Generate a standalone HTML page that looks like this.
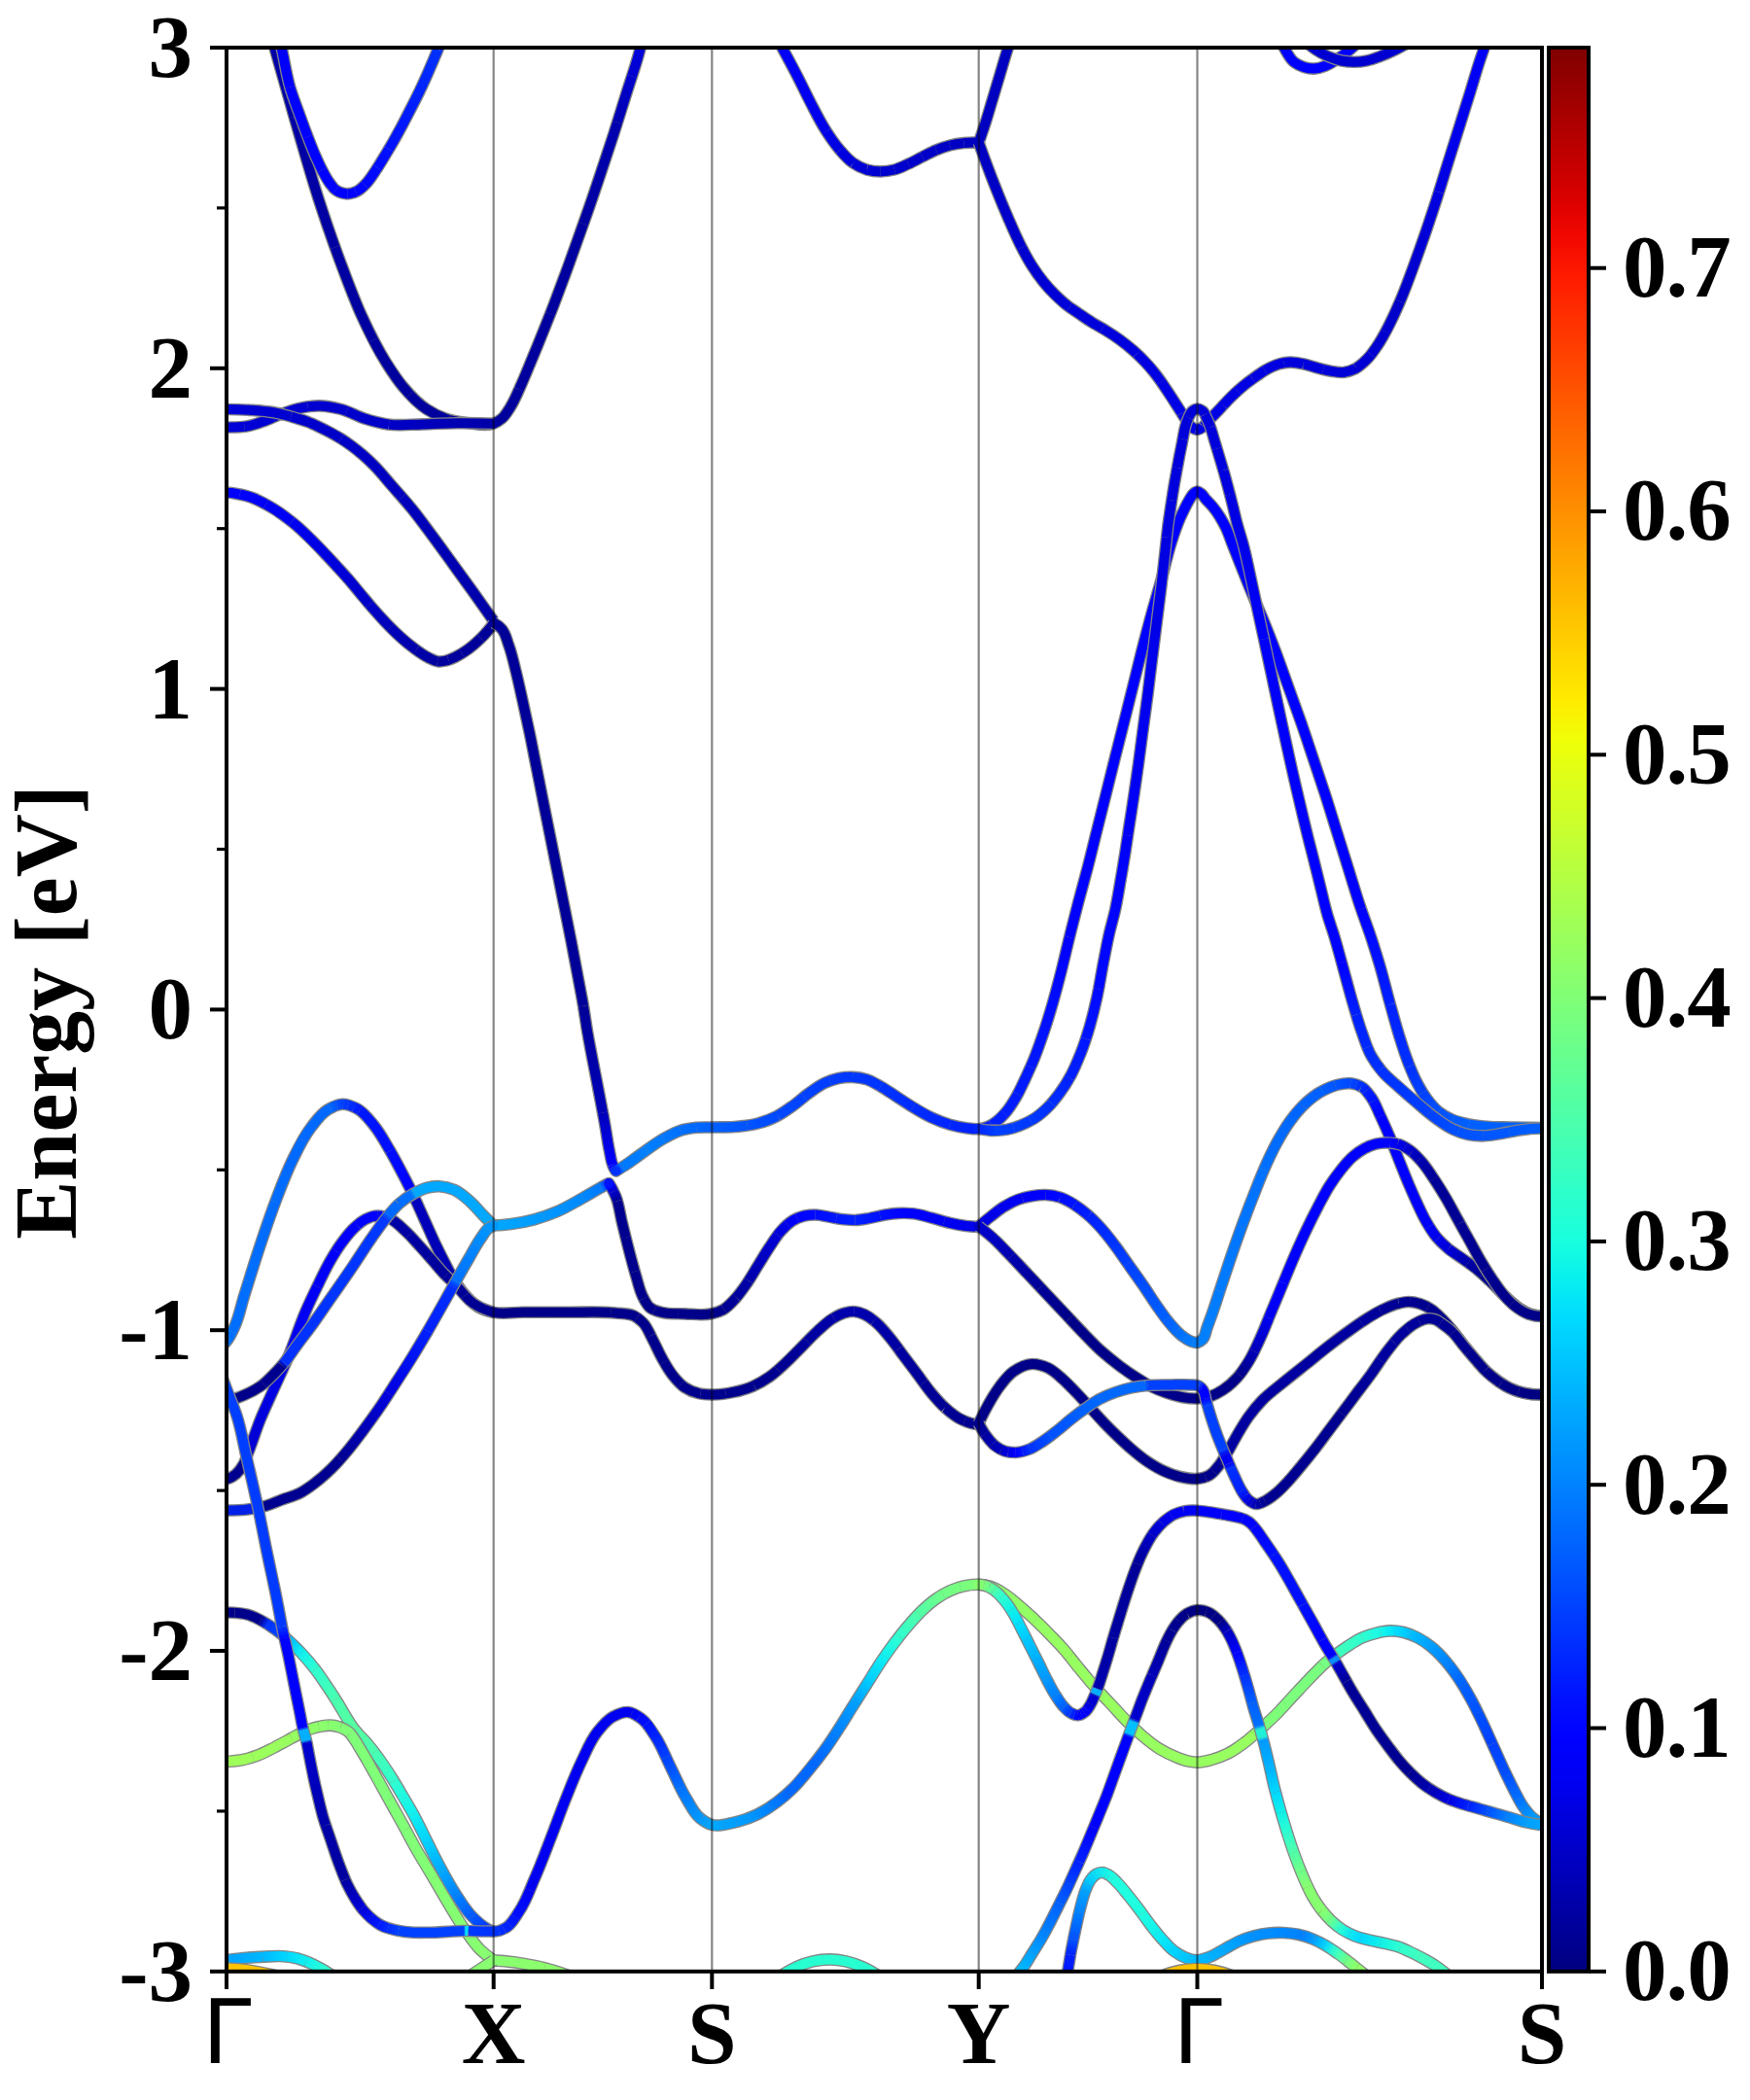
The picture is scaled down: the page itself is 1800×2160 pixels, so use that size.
<!DOCTYPE html>
<html><head><meta charset="utf-8"><title>Band structure</title>
<style>
html,body{margin:0;padding:0;background:#fff;}
body{width:1800px;height:2160px;overflow:hidden;}
svg{display:block;}
text{font-family:"Liberation Serif",serif;font-weight:bold;font-size:91px;fill:#000;}
.o{fill:none;stroke:#858585;stroke-width:12.6;stroke-linejoin:round;stroke-linecap:butt;}
.c{fill:none;stroke-width:10;stroke-linejoin:round;stroke-linecap:butt;}
</style></head><body>
<svg xmlns="http://www.w3.org/2000/svg" width="1800" height="2160" viewBox="0 0 1800 2160">
<rect x="0" y="0" width="1800" height="2160" fill="#fff"/>
<defs>
<clipPath id="cp"><rect x="233" y="49" width="1353" height="1978.8"/></clipPath>
<linearGradient id="g0" gradientUnits="userSpaceOnUse" x1="274" y1="20" x2="302.7" y2="120.9"><stop offset="0" stop-color="#0000a8"/><stop offset="1" stop-color="#0000a6"/></linearGradient>
<linearGradient id="g1" gradientUnits="userSpaceOnUse" x1="302.7" y1="120.9" x2="344.6" y2="254.4"><stop offset="0" stop-color="#0000a6"/><stop offset="1" stop-color="#0000a2"/></linearGradient>
<linearGradient id="g2" gradientUnits="userSpaceOnUse" x1="344.6" y1="254.4" x2="384.1" y2="349.9"><stop offset="0" stop-color="#0000a2"/><stop offset="1" stop-color="#0000a0"/></linearGradient>
<linearGradient id="g3" gradientUnits="userSpaceOnUse" x1="384.1" y1="349.9" x2="421.6" y2="405.8"><stop offset="0" stop-color="#0000a0"/><stop offset="1" stop-color="#00009e"/></linearGradient>
<linearGradient id="g4" gradientUnits="userSpaceOnUse" x1="421.6" y1="405.8" x2="461.9" y2="431.7"><stop offset="0" stop-color="#00009e"/><stop offset="1" stop-color="#00009d"/></linearGradient>
<linearGradient id="g5" gradientUnits="userSpaceOnUse" x1="461.9" y1="431.7" x2="507.6" y2="435.7"><stop offset="0" stop-color="#00009d"/><stop offset="1" stop-color="#00009c"/></linearGradient>
<linearGradient id="g6" gradientUnits="userSpaceOnUse" x1="507.6" y1="435.7" x2="533.8" y2="400.8"><stop offset="0" stop-color="#00009c"/><stop offset="1" stop-color="#00009d"/></linearGradient>
<linearGradient id="g7" gradientUnits="userSpaceOnUse" x1="533.8" y1="400.8" x2="566" y2="322.8"><stop offset="0" stop-color="#00009d"/><stop offset="1" stop-color="#00009e"/></linearGradient>
<linearGradient id="g8" gradientUnits="userSpaceOnUse" x1="566" y1="322.8" x2="600" y2="230.3"><stop offset="0" stop-color="#00009e"/><stop offset="1" stop-color="#0000a0"/></linearGradient>
<linearGradient id="g9" gradientUnits="userSpaceOnUse" x1="600" y1="230.3" x2="635" y2="126"><stop offset="0" stop-color="#0000a0"/><stop offset="1" stop-color="#0000b0"/></linearGradient>
<linearGradient id="g10" gradientUnits="userSpaceOnUse" x1="635" y1="126" x2="650" y2="78.5"><stop offset="0" stop-color="#0000b0"/><stop offset="1" stop-color="#0000d0"/></linearGradient>
<linearGradient id="g11" gradientUnits="userSpaceOnUse" x1="650" y1="78.5" x2="667.5" y2="20"><stop offset="0" stop-color="#0000d0"/><stop offset="1" stop-color="#0000e8"/></linearGradient>
<linearGradient id="g12" gradientUnits="userSpaceOnUse" x1="229" y1="439.5" x2="251.4" y2="438.8"><stop offset="0" stop-color="#0000d8"/><stop offset="1" stop-color="#0000d6"/></linearGradient>
<linearGradient id="g13" gradientUnits="userSpaceOnUse" x1="251.4" y1="438.8" x2="281.1" y2="429.2"><stop offset="0" stop-color="#0000d6"/><stop offset="1" stop-color="#0000d3"/></linearGradient>
<linearGradient id="g14" gradientUnits="userSpaceOnUse" x1="281.1" y1="429.2" x2="316.6" y2="418.2"><stop offset="0" stop-color="#0000d3"/><stop offset="1" stop-color="#0000d0"/></linearGradient>
<linearGradient id="g15" gradientUnits="userSpaceOnUse" x1="316.6" y1="418.2" x2="356.6" y2="422.9"><stop offset="0" stop-color="#0000d0"/><stop offset="1" stop-color="#0000cc"/></linearGradient>
<linearGradient id="g16" gradientUnits="userSpaceOnUse" x1="356.6" y1="422.9" x2="400" y2="436.6"><stop offset="0" stop-color="#0000cc"/><stop offset="1" stop-color="#0000c8"/></linearGradient>
<linearGradient id="g17" gradientUnits="userSpaceOnUse" x1="400" y1="436.6" x2="507.6" y2="435.7"><stop offset="0" stop-color="#0000c8"/><stop offset="1" stop-color="#0000a8"/></linearGradient>
<linearGradient id="g18" gradientUnits="userSpaceOnUse" x1="229" y1="421" x2="299.3" y2="428.5"><stop offset="0" stop-color="#0000d8"/><stop offset="1" stop-color="#0000cf"/></linearGradient>
<linearGradient id="g19" gradientUnits="userSpaceOnUse" x1="299.3" y1="428.5" x2="350.7" y2="451.2"><stop offset="0" stop-color="#0000cf"/><stop offset="1" stop-color="#0000c8"/></linearGradient>
<linearGradient id="g20" gradientUnits="userSpaceOnUse" x1="350.7" y1="451.2" x2="413.5" y2="511.4"><stop offset="0" stop-color="#0000c8"/><stop offset="1" stop-color="#0000bd"/></linearGradient>
<linearGradient id="g21" gradientUnits="userSpaceOnUse" x1="413.5" y1="511.4" x2="507.6" y2="638.5"><stop offset="0" stop-color="#0000bd"/><stop offset="1" stop-color="#0000a8"/></linearGradient>
<linearGradient id="g22" gradientUnits="userSpaceOnUse" x1="229" y1="506.4" x2="246.7" y2="508.5"><stop offset="0" stop-color="#0000ff"/><stop offset="1" stop-color="#0000fc"/></linearGradient>
<linearGradient id="g23" gradientUnits="userSpaceOnUse" x1="246.7" y1="508.5" x2="273.4" y2="518.6"><stop offset="0" stop-color="#0000fc"/><stop offset="1" stop-color="#0000f6"/></linearGradient>
<linearGradient id="g24" gradientUnits="userSpaceOnUse" x1="273.4" y1="518.6" x2="300" y2="536.6"><stop offset="0" stop-color="#0000f6"/><stop offset="1" stop-color="#0000f0"/></linearGradient>
<linearGradient id="g25" gradientUnits="userSpaceOnUse" x1="300" y1="536.6" x2="380" y2="621.7"><stop offset="0" stop-color="#0000f0"/><stop offset="1" stop-color="#0000c8"/></linearGradient>
<linearGradient id="g26" gradientUnits="userSpaceOnUse" x1="380" y1="621.7" x2="401.5" y2="645.3"><stop offset="0" stop-color="#0000c8"/><stop offset="1" stop-color="#0000ba"/></linearGradient>
<linearGradient id="g27" gradientUnits="userSpaceOnUse" x1="401.5" y1="645.3" x2="428.2" y2="668.5"><stop offset="0" stop-color="#0000ba"/><stop offset="1" stop-color="#0000ab"/></linearGradient>
<linearGradient id="g28" gradientUnits="userSpaceOnUse" x1="428.2" y1="668.5" x2="450" y2="680.3"><stop offset="0" stop-color="#0000ab"/><stop offset="1" stop-color="#0000a0"/></linearGradient>
<linearGradient id="g29" gradientUnits="userSpaceOnUse" x1="450" y1="680.3" x2="461.3" y2="678.8"><stop offset="0" stop-color="#0000a0"/><stop offset="1" stop-color="#00009f"/></linearGradient>
<linearGradient id="g30" gradientUnits="userSpaceOnUse" x1="461.3" y1="678.8" x2="475.1" y2="672.1"><stop offset="0" stop-color="#00009f"/><stop offset="1" stop-color="#00009d"/></linearGradient>
<linearGradient id="g31" gradientUnits="userSpaceOnUse" x1="475.1" y1="672.1" x2="494.6" y2="656.5"><stop offset="0" stop-color="#00009d"/><stop offset="1" stop-color="#00009a"/></linearGradient>
<linearGradient id="g32" gradientUnits="userSpaceOnUse" x1="494.6" y1="656.5" x2="507.6" y2="641.6"><stop offset="0" stop-color="#00009a"/><stop offset="1" stop-color="#000098"/></linearGradient>
<linearGradient id="g33" gradientUnits="userSpaceOnUse" x1="600" y1="1034.7" x2="620" y2="1144.5"><stop offset="0" stop-color="#000098"/><stop offset="1" stop-color="#0000b8"/></linearGradient>
<linearGradient id="g34" gradientUnits="userSpaceOnUse" x1="620" y1="1144.5" x2="630" y2="1197.8"><stop offset="0" stop-color="#0000b8"/><stop offset="1" stop-color="#0000ff"/></linearGradient>
<linearGradient id="g35" gradientUnits="userSpaceOnUse" x1="630" y1="1197.8" x2="630.8" y2="1199.7"><stop offset="0" stop-color="#0000ff"/><stop offset="1" stop-color="#000eff"/></linearGradient>
<linearGradient id="g36" gradientUnits="userSpaceOnUse" x1="630.8" y1="1199.7" x2="631.4" y2="1200.9"><stop offset="0" stop-color="#000eff"/><stop offset="1" stop-color="#0016ff"/></linearGradient>
<linearGradient id="g37" gradientUnits="userSpaceOnUse" x1="631.4" y1="1200.9" x2="632" y2="1202"><stop offset="0" stop-color="#0016ff"/><stop offset="1" stop-color="#001fff"/></linearGradient>
<linearGradient id="g38" gradientUnits="userSpaceOnUse" x1="632" y1="1202" x2="632.7" y2="1203.2"><stop offset="0" stop-color="#001fff"/><stop offset="1" stop-color="#0027ff"/></linearGradient>
<linearGradient id="g39" gradientUnits="userSpaceOnUse" x1="632.7" y1="1203.2" x2="633.4" y2="1204.3"><stop offset="0" stop-color="#0027ff"/><stop offset="1" stop-color="#0030ff"/></linearGradient>
<linearGradient id="g40" gradientUnits="userSpaceOnUse" x1="633.4" y1="1204.3" x2="635.5" y2="1203.3"><stop offset="0" stop-color="#0030ff"/><stop offset="1" stop-color="#0040ff"/></linearGradient>
<linearGradient id="g41" gradientUnits="userSpaceOnUse" x1="635.5" y1="1203.3" x2="640" y2="1200.5"><stop offset="0" stop-color="#0040ff"/><stop offset="1" stop-color="#0078ff"/></linearGradient>
<linearGradient id="g42" gradientUnits="userSpaceOnUse" x1="640" y1="1200.5" x2="665" y2="1182.9"><stop offset="0" stop-color="#0078ff"/><stop offset="1" stop-color="#0080ff"/></linearGradient>
<linearGradient id="g43" gradientUnits="userSpaceOnUse" x1="665" y1="1182.9" x2="682.2" y2="1171.4"><stop offset="0" stop-color="#0080ff"/><stop offset="1" stop-color="#0078ff"/></linearGradient>
<linearGradient id="g44" gradientUnits="userSpaceOnUse" x1="682.2" y1="1171.4" x2="699.5" y2="1162.9"><stop offset="0" stop-color="#0078ff"/><stop offset="1" stop-color="#0070ff"/></linearGradient>
<linearGradient id="g45" gradientUnits="userSpaceOnUse" x1="699.5" y1="1162.9" x2="716.2" y2="1159.8"><stop offset="0" stop-color="#0070ff"/><stop offset="1" stop-color="#0068ff"/></linearGradient>
<linearGradient id="g46" gradientUnits="userSpaceOnUse" x1="716.2" y1="1159.8" x2="732.4" y2="1159.5"><stop offset="0" stop-color="#0068ff"/><stop offset="1" stop-color="#0060ff"/></linearGradient>
<linearGradient id="g47" gradientUnits="userSpaceOnUse" x1="732.4" y1="1159.5" x2="768.7" y2="1157.6"><stop offset="0" stop-color="#0060ff"/><stop offset="1" stop-color="#0053ff"/></linearGradient>
<linearGradient id="g48" gradientUnits="userSpaceOnUse" x1="768.7" y1="1157.6" x2="800" y2="1147.6"><stop offset="0" stop-color="#0053ff"/><stop offset="1" stop-color="#0048ff"/></linearGradient>
<linearGradient id="g49" gradientUnits="userSpaceOnUse" x1="800" y1="1147.6" x2="827.2" y2="1128.1"><stop offset="0" stop-color="#0048ff"/><stop offset="1" stop-color="#0042ff"/></linearGradient>
<linearGradient id="g50" gradientUnits="userSpaceOnUse" x1="827.2" y1="1128.1" x2="853.6" y2="1111.7"><stop offset="0" stop-color="#0042ff"/><stop offset="1" stop-color="#003cff"/></linearGradient>
<linearGradient id="g51" gradientUnits="userSpaceOnUse" x1="853.6" y1="1111.7" x2="877.1" y2="1107.9"><stop offset="0" stop-color="#003cff"/><stop offset="1" stop-color="#0038ff"/></linearGradient>
<linearGradient id="g52" gradientUnits="userSpaceOnUse" x1="877.1" y1="1107.9" x2="905.7" y2="1117.4"><stop offset="0" stop-color="#0038ff"/><stop offset="1" stop-color="#0033ff"/></linearGradient>
<linearGradient id="g53" gradientUnits="userSpaceOnUse" x1="905.7" y1="1117.4" x2="939" y2="1138.8"><stop offset="0" stop-color="#0033ff"/><stop offset="1" stop-color="#002cff"/></linearGradient>
<linearGradient id="g54" gradientUnits="userSpaceOnUse" x1="939" y1="1138.8" x2="977.1" y2="1156.7"><stop offset="0" stop-color="#002cff"/><stop offset="1" stop-color="#0025ff"/></linearGradient>
<linearGradient id="g55" gradientUnits="userSpaceOnUse" x1="977.1" y1="1156.7" x2="1006.7" y2="1161.2"><stop offset="0" stop-color="#0025ff"/><stop offset="1" stop-color="#0020ff"/></linearGradient>
<linearGradient id="g56" gradientUnits="userSpaceOnUse" x1="1006.7" y1="1161.2" x2="1020.1" y2="1156.8"><stop offset="0" stop-color="#0020ff"/><stop offset="1" stop-color="#001fff"/></linearGradient>
<linearGradient id="g57" gradientUnits="userSpaceOnUse" x1="1020.1" y1="1156.8" x2="1033.4" y2="1145.4"><stop offset="0" stop-color="#001fff"/><stop offset="1" stop-color="#001dff"/></linearGradient>
<linearGradient id="g58" gradientUnits="userSpaceOnUse" x1="1033.4" y1="1145.4" x2="1046.8" y2="1125.5"><stop offset="0" stop-color="#001dff"/><stop offset="1" stop-color="#001bff"/></linearGradient>
<linearGradient id="g59" gradientUnits="userSpaceOnUse" x1="1046.8" y1="1125.5" x2="1060" y2="1097.6"><stop offset="0" stop-color="#001bff"/><stop offset="1" stop-color="#0018ff"/></linearGradient>
<linearGradient id="g60" gradientUnits="userSpaceOnUse" x1="1060" y1="1097.6" x2="1100" y2="964"><stop offset="0" stop-color="#0018ff"/><stop offset="1" stop-color="#0000ff"/></linearGradient>
<linearGradient id="g61" gradientUnits="userSpaceOnUse" x1="1400" y1="935.1" x2="1430" y2="1033.2"><stop offset="0" stop-color="#0000ff"/><stop offset="1" stop-color="#0020ff"/></linearGradient>
<linearGradient id="g62" gradientUnits="userSpaceOnUse" x1="1430" y1="1033.2" x2="1450" y2="1096.8"><stop offset="0" stop-color="#0020ff"/><stop offset="1" stop-color="#0030ff"/></linearGradient>
<linearGradient id="g63" gradientUnits="userSpaceOnUse" x1="1450" y1="1096.8" x2="1463.3" y2="1123.9"><stop offset="0" stop-color="#0030ff"/><stop offset="1" stop-color="#0041ff"/></linearGradient>
<linearGradient id="g64" gradientUnits="userSpaceOnUse" x1="1463.3" y1="1123.9" x2="1479.5" y2="1143.3"><stop offset="0" stop-color="#0041ff"/><stop offset="1" stop-color="#0050ff"/></linearGradient>
<linearGradient id="g65" gradientUnits="userSpaceOnUse" x1="1479.5" y1="1143.3" x2="1493.8" y2="1151.7"><stop offset="0" stop-color="#0050ff"/><stop offset="1" stop-color="#0058ff"/></linearGradient>
<linearGradient id="g66" gradientUnits="userSpaceOnUse" x1="1493.8" y1="1151.7" x2="1510.5" y2="1156.4"><stop offset="0" stop-color="#0058ff"/><stop offset="1" stop-color="#0060ff"/></linearGradient>
<linearGradient id="g67" gradientUnits="userSpaceOnUse" x1="507.6" y1="1260.5" x2="560" y2="1251.1"><stop offset="0" stop-color="#00a8ff"/><stop offset="1" stop-color="#0098ff"/></linearGradient>
<linearGradient id="g68" gradientUnits="userSpaceOnUse" x1="560" y1="1251.1" x2="600" y2="1231.9"><stop offset="0" stop-color="#0098ff"/><stop offset="1" stop-color="#0088ff"/></linearGradient>
<linearGradient id="g69" gradientUnits="userSpaceOnUse" x1="600" y1="1231.9" x2="618" y2="1221.5"><stop offset="0" stop-color="#0088ff"/><stop offset="1" stop-color="#0078ff"/></linearGradient>
<linearGradient id="g70" gradientUnits="userSpaceOnUse" x1="618" y1="1221.5" x2="623" y2="1218.7"><stop offset="0" stop-color="#0078ff"/><stop offset="1" stop-color="#0040ff"/></linearGradient>
<linearGradient id="g71" gradientUnits="userSpaceOnUse" x1="623" y1="1218.7" x2="623.8" y2="1218.3"><stop offset="0" stop-color="#0040ff"/><stop offset="1" stop-color="#0034ff"/></linearGradient>
<linearGradient id="g72" gradientUnits="userSpaceOnUse" x1="623.8" y1="1218.3" x2="624.7" y2="1217.8"><stop offset="0" stop-color="#0034ff"/><stop offset="1" stop-color="#0028ff"/></linearGradient>
<linearGradient id="g73" gradientUnits="userSpaceOnUse" x1="624.7" y1="1217.8" x2="625.5" y2="1217.4"><stop offset="0" stop-color="#0028ff"/><stop offset="1" stop-color="#001cff"/></linearGradient>
<linearGradient id="g74" gradientUnits="userSpaceOnUse" x1="625.5" y1="1217.4" x2="626.4" y2="1217.2"><stop offset="0" stop-color="#001cff"/><stop offset="1" stop-color="#000fff"/></linearGradient>
<linearGradient id="g75" gradientUnits="userSpaceOnUse" x1="626.4" y1="1217.2" x2="627" y2="1218.3"><stop offset="0" stop-color="#000fff"/><stop offset="1" stop-color="#0000ff"/></linearGradient>
<linearGradient id="g76" gradientUnits="userSpaceOnUse" x1="627" y1="1218.3" x2="631" y2="1225.4"><stop offset="0" stop-color="#0000ff"/><stop offset="1" stop-color="#0000d0"/></linearGradient>
<linearGradient id="g77" gradientUnits="userSpaceOnUse" x1="631" y1="1225.4" x2="635" y2="1235.3"><stop offset="0" stop-color="#0000d0"/><stop offset="1" stop-color="#000090"/></linearGradient>
<linearGradient id="g78" gradientUnits="userSpaceOnUse" x1="635" y1="1235.3" x2="643.6" y2="1272.7"><stop offset="0" stop-color="#000090"/><stop offset="1" stop-color="#00008e"/></linearGradient>
<linearGradient id="g79" gradientUnits="userSpaceOnUse" x1="643.6" y1="1272.7" x2="652.8" y2="1307.9"><stop offset="0" stop-color="#00008e"/><stop offset="1" stop-color="#00008d"/></linearGradient>
<linearGradient id="g80" gradientUnits="userSpaceOnUse" x1="652.8" y1="1307.9" x2="662" y2="1335.5"><stop offset="0" stop-color="#00008d"/><stop offset="1" stop-color="#00008b"/></linearGradient>
<linearGradient id="g81" gradientUnits="userSpaceOnUse" x1="673" y1="1347.5" x2="697.1" y2="1351.3"><stop offset="0" stop-color="#00008b"/><stop offset="1" stop-color="#00008a"/></linearGradient>
<linearGradient id="g82" gradientUnits="userSpaceOnUse" x1="697.1" y1="1351.3" x2="732.4" y2="1351.2"><stop offset="0" stop-color="#00008a"/><stop offset="1" stop-color="#000088"/></linearGradient>
<linearGradient id="g83" gradientUnits="userSpaceOnUse" x1="732.4" y1="1351.2" x2="744.7" y2="1346.6"><stop offset="0" stop-color="#000088"/><stop offset="1" stop-color="#000090"/></linearGradient>
<linearGradient id="g84" gradientUnits="userSpaceOnUse" x1="744.7" y1="1346.6" x2="757.4" y2="1334.6"><stop offset="0" stop-color="#000090"/><stop offset="1" stop-color="#00009b"/></linearGradient>
<linearGradient id="g85" gradientUnits="userSpaceOnUse" x1="757.4" y1="1334.6" x2="770" y2="1317.4"><stop offset="0" stop-color="#00009b"/><stop offset="1" stop-color="#0000a8"/></linearGradient>
<linearGradient id="g86" gradientUnits="userSpaceOnUse" x1="770" y1="1317.4" x2="800" y2="1270.2"><stop offset="0" stop-color="#0000a8"/><stop offset="1" stop-color="#0000d8"/></linearGradient>
<linearGradient id="g87" gradientUnits="userSpaceOnUse" x1="800" y1="1270.2" x2="809.9" y2="1259.5"><stop offset="0" stop-color="#0000d8"/><stop offset="1" stop-color="#0000ed"/></linearGradient>
<linearGradient id="g88" gradientUnits="userSpaceOnUse" x1="809.9" y1="1259.5" x2="820" y2="1253.1"><stop offset="0" stop-color="#0000ed"/><stop offset="1" stop-color="#0000ff"/></linearGradient>
<linearGradient id="g89" gradientUnits="userSpaceOnUse" x1="820" y1="1253.1" x2="838.4" y2="1249.5"><stop offset="0" stop-color="#0000ff"/><stop offset="1" stop-color="#000aff"/></linearGradient>
<linearGradient id="g90" gradientUnits="userSpaceOnUse" x1="838.4" y1="1249.5" x2="860.1" y2="1253.1"><stop offset="0" stop-color="#000aff"/><stop offset="1" stop-color="#0016ff"/></linearGradient>
<linearGradient id="g91" gradientUnits="userSpaceOnUse" x1="860.1" y1="1253.1" x2="879.5" y2="1255"><stop offset="0" stop-color="#0016ff"/><stop offset="1" stop-color="#0020ff"/></linearGradient>
<linearGradient id="g92" gradientUnits="userSpaceOnUse" x1="879.5" y1="1255" x2="905.2" y2="1250.6"><stop offset="0" stop-color="#0020ff"/><stop offset="1" stop-color="#0010ff"/></linearGradient>
<linearGradient id="g93" gradientUnits="userSpaceOnUse" x1="905.2" y1="1250.6" x2="930" y2="1247.8"><stop offset="0" stop-color="#0010ff"/><stop offset="1" stop-color="#0000ff"/></linearGradient>
<linearGradient id="g94" gradientUnits="userSpaceOnUse" x1="930" y1="1247.8" x2="971.1" y2="1256.3"><stop offset="0" stop-color="#0000ff"/><stop offset="1" stop-color="#0000f3"/></linearGradient>
<linearGradient id="g95" gradientUnits="userSpaceOnUse" x1="971.1" y1="1256.3" x2="1006.9" y2="1261.9"><stop offset="0" stop-color="#0000f3"/><stop offset="1" stop-color="#0000e8"/></linearGradient>
<linearGradient id="g96" gradientUnits="userSpaceOnUse" x1="229" y1="1384" x2="238.8" y2="1369.9"><stop offset="0" stop-color="#0070ff"/><stop offset="1" stop-color="#006fff"/></linearGradient>
<linearGradient id="g97" gradientUnits="userSpaceOnUse" x1="238.8" y1="1369.9" x2="255.8" y2="1318"><stop offset="0" stop-color="#006fff"/><stop offset="1" stop-color="#006eff"/></linearGradient>
<linearGradient id="g98" gradientUnits="userSpaceOnUse" x1="255.8" y1="1318" x2="283.2" y2="1236.2"><stop offset="0" stop-color="#006eff"/><stop offset="1" stop-color="#006bff"/></linearGradient>
<linearGradient id="g99" gradientUnits="userSpaceOnUse" x1="283.2" y1="1236.2" x2="311.3" y2="1172.8"><stop offset="0" stop-color="#006bff"/><stop offset="1" stop-color="#0069ff"/></linearGradient>
<linearGradient id="g100" gradientUnits="userSpaceOnUse" x1="311.3" y1="1172.8" x2="340" y2="1139.8"><stop offset="0" stop-color="#0069ff"/><stop offset="1" stop-color="#0068ff"/></linearGradient>
<linearGradient id="g101" gradientUnits="userSpaceOnUse" x1="340" y1="1139.8" x2="346" y2="1137"><stop offset="0" stop-color="#0068ff"/><stop offset="1" stop-color="#0053ff"/></linearGradient>
<linearGradient id="g102" gradientUnits="userSpaceOnUse" x1="346" y1="1137" x2="352.1" y2="1135.7"><stop offset="0" stop-color="#0053ff"/><stop offset="1" stop-color="#0040ff"/></linearGradient>
<linearGradient id="g103" gradientUnits="userSpaceOnUse" x1="352.1" y1="1135.7" x2="358" y2="1136.5"><stop offset="0" stop-color="#0040ff"/><stop offset="1" stop-color="#0034ff"/></linearGradient>
<linearGradient id="g104" gradientUnits="userSpaceOnUse" x1="358" y1="1136.5" x2="363.9" y2="1138.7"><stop offset="0" stop-color="#0034ff"/><stop offset="1" stop-color="#0026ff"/></linearGradient>
<linearGradient id="g105" gradientUnits="userSpaceOnUse" x1="363.9" y1="1138.7" x2="370" y2="1142"><stop offset="0" stop-color="#0026ff"/><stop offset="1" stop-color="#0018ff"/></linearGradient>
<linearGradient id="g106" gradientUnits="userSpaceOnUse" x1="370" y1="1142" x2="401.3" y2="1183.8"><stop offset="0" stop-color="#0018ff"/><stop offset="1" stop-color="#000cff"/></linearGradient>
<linearGradient id="g107" gradientUnits="userSpaceOnUse" x1="401.3" y1="1183.8" x2="424" y2="1226.9"><stop offset="0" stop-color="#000cff"/><stop offset="1" stop-color="#0000ff"/></linearGradient>
<linearGradient id="g108" gradientUnits="userSpaceOnUse" x1="424" y1="1226.9" x2="426" y2="1231.1"><stop offset="0" stop-color="#0000ff"/><stop offset="1" stop-color="#0000c0"/></linearGradient>
<linearGradient id="g109" gradientUnits="userSpaceOnUse" x1="426" y1="1231.1" x2="466" y2="1314.9"><stop offset="0" stop-color="#0000c0"/><stop offset="1" stop-color="#0000b0"/></linearGradient>
<linearGradient id="g110" gradientUnits="userSpaceOnUse" x1="466" y1="1314.9" x2="468.5" y2="1318.9"><stop offset="0" stop-color="#0000b0"/><stop offset="1" stop-color="#000090"/></linearGradient>
<linearGradient id="g111" gradientUnits="userSpaceOnUse" x1="468.5" y1="1318.9" x2="480.1" y2="1334"><stop offset="0" stop-color="#000090"/><stop offset="1" stop-color="#00008d"/></linearGradient>
<linearGradient id="g112" gradientUnits="userSpaceOnUse" x1="480.1" y1="1334" x2="491.8" y2="1344.2"><stop offset="0" stop-color="#00008d"/><stop offset="1" stop-color="#00008b"/></linearGradient>
<linearGradient id="g113" gradientUnits="userSpaceOnUse" x1="491.8" y1="1344.2" x2="507.6" y2="1349.8"><stop offset="0" stop-color="#00008b"/><stop offset="1" stop-color="#000088"/></linearGradient>
<linearGradient id="g114" gradientUnits="userSpaceOnUse" x1="507.6" y1="1349.8" x2="559" y2="1349.8"><stop offset="0" stop-color="#000088"/><stop offset="1" stop-color="#000089"/></linearGradient>
<linearGradient id="g115" gradientUnits="userSpaceOnUse" x1="559" y1="1349.8" x2="628.2" y2="1350.1"><stop offset="0" stop-color="#000089"/><stop offset="1" stop-color="#00008b"/></linearGradient>
<linearGradient id="g116" gradientUnits="userSpaceOnUse" x1="628.2" y1="1350.1" x2="655.5" y2="1355.4"><stop offset="0" stop-color="#00008b"/><stop offset="1" stop-color="#00008c"/></linearGradient>
<linearGradient id="g117" gradientUnits="userSpaceOnUse" x1="669.3" y1="1373.7" x2="683.2" y2="1401.1"><stop offset="0" stop-color="#00008c"/><stop offset="1" stop-color="#00008d"/></linearGradient>
<linearGradient id="g118" gradientUnits="userSpaceOnUse" x1="700.4" y1="1424" x2="720.6" y2="1433.6"><stop offset="0" stop-color="#00008d"/><stop offset="1" stop-color="#00008e"/></linearGradient>
<linearGradient id="g119" gradientUnits="userSpaceOnUse" x1="720.6" y1="1433.6" x2="746.5" y2="1433.4"><stop offset="0" stop-color="#00008e"/><stop offset="1" stop-color="#00008f"/></linearGradient>
<linearGradient id="g120" gradientUnits="userSpaceOnUse" x1="775.7" y1="1425.3" x2="800" y2="1409.3"><stop offset="0" stop-color="#00008f"/><stop offset="1" stop-color="#000090"/></linearGradient>
<linearGradient id="g121" gradientUnits="userSpaceOnUse" x1="800" y1="1409.3" x2="830.3" y2="1379.6"><stop offset="0" stop-color="#000090"/><stop offset="1" stop-color="#00009d"/></linearGradient>
<linearGradient id="g122" gradientUnits="userSpaceOnUse" x1="830.3" y1="1379.6" x2="857.6" y2="1355.5"><stop offset="0" stop-color="#00009d"/><stop offset="1" stop-color="#0000a9"/></linearGradient>
<linearGradient id="g123" gradientUnits="userSpaceOnUse" x1="857.6" y1="1355.5" x2="878.3" y2="1349"><stop offset="0" stop-color="#0000a9"/><stop offset="1" stop-color="#0000b0"/></linearGradient>
<linearGradient id="g124" gradientUnits="userSpaceOnUse" x1="878.3" y1="1349" x2="898.9" y2="1358.5"><stop offset="0" stop-color="#0000b0"/><stop offset="1" stop-color="#0000ab"/></linearGradient>
<linearGradient id="g125" gradientUnits="userSpaceOnUse" x1="898.9" y1="1358.5" x2="924.3" y2="1387.6"><stop offset="0" stop-color="#0000ab"/><stop offset="1" stop-color="#0000a2"/></linearGradient>
<linearGradient id="g126" gradientUnits="userSpaceOnUse" x1="924.3" y1="1387.6" x2="950" y2="1422.3"><stop offset="0" stop-color="#0000a2"/><stop offset="1" stop-color="#000098"/></linearGradient>
<linearGradient id="g127" gradientUnits="userSpaceOnUse" x1="950" y1="1422.3" x2="971.8" y2="1447.8"><stop offset="0" stop-color="#000098"/><stop offset="1" stop-color="#000094"/></linearGradient>
<linearGradient id="g128" gradientUnits="userSpaceOnUse" x1="971.8" y1="1447.8" x2="992.3" y2="1461.7"><stop offset="0" stop-color="#000094"/><stop offset="1" stop-color="#000092"/></linearGradient>
<linearGradient id="g129" gradientUnits="userSpaceOnUse" x1="992.3" y1="1461.7" x2="1006.9" y2="1465"><stop offset="0" stop-color="#000092"/><stop offset="1" stop-color="#000090"/></linearGradient>
<linearGradient id="g130" gradientUnits="userSpaceOnUse" x1="252" y1="1503" x2="254" y2="1497.7"><stop offset="0" stop-color="#000090"/><stop offset="1" stop-color="#0000d0"/></linearGradient>
<linearGradient id="g131" gradientUnits="userSpaceOnUse" x1="254" y1="1497.7" x2="300" y2="1386.7"><stop offset="0" stop-color="#0000d0"/><stop offset="1" stop-color="#0000f0"/></linearGradient>
<linearGradient id="g132" gradientUnits="userSpaceOnUse" x1="300" y1="1386.7" x2="326.3" y2="1323.3"><stop offset="0" stop-color="#0000f0"/><stop offset="1" stop-color="#0000f6"/></linearGradient>
<linearGradient id="g133" gradientUnits="userSpaceOnUse" x1="326.3" y1="1323.3" x2="345.7" y2="1286.8"><stop offset="0" stop-color="#0000f6"/><stop offset="1" stop-color="#0000fa"/></linearGradient>
<linearGradient id="g134" gradientUnits="userSpaceOnUse" x1="345.7" y1="1286.8" x2="367.5" y2="1260.2"><stop offset="0" stop-color="#0000fa"/><stop offset="1" stop-color="#0000fd"/></linearGradient>
<linearGradient id="g135" gradientUnits="userSpaceOnUse" x1="367.5" y1="1260.2" x2="388.2" y2="1250.5"><stop offset="0" stop-color="#0000fd"/><stop offset="1" stop-color="#0000ff"/></linearGradient>
<linearGradient id="g136" gradientUnits="userSpaceOnUse" x1="388.2" y1="1250.5" x2="392.6" y2="1250.8"><stop offset="0" stop-color="#0000ff"/><stop offset="1" stop-color="#0000f8"/></linearGradient>
<linearGradient id="g137" gradientUnits="userSpaceOnUse" x1="392.6" y1="1250.8" x2="397" y2="1251.9"><stop offset="0" stop-color="#0000f8"/><stop offset="1" stop-color="#0000f0"/></linearGradient>
<linearGradient id="g138" gradientUnits="userSpaceOnUse" x1="397" y1="1251.9" x2="399" y2="1252.6"><stop offset="0" stop-color="#0000f0"/><stop offset="1" stop-color="#0000a8"/></linearGradient>
<linearGradient id="g139" gradientUnits="userSpaceOnUse" x1="399" y1="1252.6" x2="421.1" y2="1270.2"><stop offset="0" stop-color="#0000a8"/><stop offset="1" stop-color="#0000a3"/></linearGradient>
<linearGradient id="g140" gradientUnits="userSpaceOnUse" x1="421.1" y1="1270.2" x2="441.6" y2="1292.9"><stop offset="0" stop-color="#0000a3"/><stop offset="1" stop-color="#00009e"/></linearGradient>
<linearGradient id="g141" gradientUnits="userSpaceOnUse" x1="441.6" y1="1292.9" x2="458.5" y2="1312"><stop offset="0" stop-color="#00009e"/><stop offset="1" stop-color="#00009a"/></linearGradient>
<linearGradient id="g142" gradientUnits="userSpaceOnUse" x1="458.5" y1="1312" x2="478.1" y2="1332.5"><stop offset="0" stop-color="#00009a"/><stop offset="1" stop-color="#000096"/></linearGradient>
<linearGradient id="g143" gradientUnits="userSpaceOnUse" x1="478.1" y1="1332.5" x2="507.6" y2="1349.8"><stop offset="0" stop-color="#000096"/><stop offset="1" stop-color="#000090"/></linearGradient>
<linearGradient id="g144" gradientUnits="userSpaceOnUse" x1="229" y1="1441.5" x2="242.7" y2="1438.3"><stop offset="0" stop-color="#000088"/><stop offset="1" stop-color="#00008a"/></linearGradient>
<linearGradient id="g145" gradientUnits="userSpaceOnUse" x1="242.7" y1="1438.3" x2="271.1" y2="1423.5"><stop offset="0" stop-color="#00008a"/><stop offset="1" stop-color="#00008d"/></linearGradient>
<linearGradient id="g146" gradientUnits="userSpaceOnUse" x1="271.1" y1="1423.5" x2="290" y2="1404.4"><stop offset="0" stop-color="#00008d"/><stop offset="1" stop-color="#000090"/></linearGradient>
<linearGradient id="g147" gradientUnits="userSpaceOnUse" x1="290" y1="1404.4" x2="292.5" y2="1401.5"><stop offset="0" stop-color="#000090"/><stop offset="1" stop-color="#0030ff"/></linearGradient>
<linearGradient id="g148" gradientUnits="userSpaceOnUse" x1="292.5" y1="1401.5" x2="397" y2="1253.1"><stop offset="0" stop-color="#0030ff"/><stop offset="1" stop-color="#0038ff"/></linearGradient>
<linearGradient id="g149" gradientUnits="userSpaceOnUse" x1="397" y1="1253.1" x2="399.5" y2="1250.1"><stop offset="0" stop-color="#0038ff"/><stop offset="1" stop-color="#0068ff"/></linearGradient>
<linearGradient id="g150" gradientUnits="userSpaceOnUse" x1="399.5" y1="1250.1" x2="410" y2="1238.5"><stop offset="0" stop-color="#0068ff"/><stop offset="1" stop-color="#006cff"/></linearGradient>
<linearGradient id="g151" gradientUnits="userSpaceOnUse" x1="410" y1="1238.5" x2="423.5" y2="1228.8"><stop offset="0" stop-color="#006cff"/><stop offset="1" stop-color="#0070ff"/></linearGradient>
<linearGradient id="g152" gradientUnits="userSpaceOnUse" x1="423.5" y1="1228.8" x2="426" y2="1227.4"><stop offset="0" stop-color="#0070ff"/><stop offset="1" stop-color="#00a8ff"/></linearGradient>
<linearGradient id="g153" gradientUnits="userSpaceOnUse" x1="264" y1="1551.2" x2="267.6" y2="1550.5"><stop offset="0" stop-color="#0020e8"/><stop offset="1" stop-color="#000090"/></linearGradient>
<linearGradient id="g154" gradientUnits="userSpaceOnUse" x1="350" y1="1500.9" x2="400" y2="1433.4"><stop offset="0" stop-color="#000090"/><stop offset="1" stop-color="#0000e0"/></linearGradient>
<linearGradient id="g155" gradientUnits="userSpaceOnUse" x1="400" y1="1433.4" x2="440" y2="1369"><stop offset="0" stop-color="#0000e0"/><stop offset="1" stop-color="#0020ff"/></linearGradient>
<linearGradient id="g156" gradientUnits="userSpaceOnUse" x1="440" y1="1369" x2="466" y2="1323"><stop offset="0" stop-color="#0020ff"/><stop offset="1" stop-color="#0030ff"/></linearGradient>
<linearGradient id="g157" gradientUnits="userSpaceOnUse" x1="466" y1="1323" x2="469" y2="1317.6"><stop offset="0" stop-color="#0030ff"/><stop offset="1" stop-color="#0070ff"/></linearGradient>
<linearGradient id="g158" gradientUnits="userSpaceOnUse" x1="469" y1="1317.6" x2="490" y2="1280.7"><stop offset="0" stop-color="#0070ff"/><stop offset="1" stop-color="#0088ff"/></linearGradient>
<linearGradient id="g159" gradientUnits="userSpaceOnUse" x1="490" y1="1280.7" x2="501.3" y2="1264.4"><stop offset="0" stop-color="#0088ff"/><stop offset="1" stop-color="#0094ff"/></linearGradient>
<linearGradient id="g160" gradientUnits="userSpaceOnUse" x1="501.3" y1="1264.4" x2="507.6" y2="1260.7"><stop offset="0" stop-color="#0094ff"/><stop offset="1" stop-color="#0098ff"/></linearGradient>
<linearGradient id="g161" gradientUnits="userSpaceOnUse" x1="229" y1="1658.5" x2="241.4" y2="1658.8"><stop offset="0" stop-color="#000088"/><stop offset="1" stop-color="#00008a"/></linearGradient>
<linearGradient id="g162" gradientUnits="userSpaceOnUse" x1="241.4" y1="1658.8" x2="268" y2="1666.5"><stop offset="0" stop-color="#00008a"/><stop offset="1" stop-color="#000090"/></linearGradient>
<linearGradient id="g163" gradientUnits="userSpaceOnUse" x1="268" y1="1666.5" x2="275" y2="1670.6"><stop offset="0" stop-color="#000090"/><stop offset="1" stop-color="#0030ff"/></linearGradient>
<linearGradient id="g164" gradientUnits="userSpaceOnUse" x1="275" y1="1670.6" x2="290" y2="1681.4"><stop offset="0" stop-color="#0030ff"/><stop offset="1" stop-color="#0048ff"/></linearGradient>
<linearGradient id="g165" gradientUnits="userSpaceOnUse" x1="290" y1="1681.4" x2="292.5" y2="1683.4"><stop offset="0" stop-color="#0048ff"/><stop offset="1" stop-color="#00a0ff"/></linearGradient>
<linearGradient id="g166" gradientUnits="userSpaceOnUse" x1="292.5" y1="1683.4" x2="300" y2="1690.3"><stop offset="0" stop-color="#00a0ff"/><stop offset="1" stop-color="#00c8ff"/></linearGradient>
<linearGradient id="g167" gradientUnits="userSpaceOnUse" x1="300" y1="1690.3" x2="309.7" y2="1700"><stop offset="0" stop-color="#00c8ff"/><stop offset="1" stop-color="#10f0f0"/></linearGradient>
<linearGradient id="g168" gradientUnits="userSpaceOnUse" x1="309.7" y1="1700" x2="324.3" y2="1717.1"><stop offset="0" stop-color="#10f0f0"/><stop offset="1" stop-color="#30ffd0"/></linearGradient>
<linearGradient id="g169" gradientUnits="userSpaceOnUse" x1="324.3" y1="1717.1" x2="345" y2="1747.6"><stop offset="0" stop-color="#30ffd0"/><stop offset="1" stop-color="#48ffb0"/></linearGradient>
<linearGradient id="g170" gradientUnits="userSpaceOnUse" x1="345" y1="1747.6" x2="364.6" y2="1778.9"><stop offset="0" stop-color="#48ffb0"/><stop offset="1" stop-color="#58ffa0"/></linearGradient>
<linearGradient id="g171" gradientUnits="userSpaceOnUse" x1="364.6" y1="1778.9" x2="385" y2="1802.3"><stop offset="0" stop-color="#58ffa0"/><stop offset="1" stop-color="#48ffb0"/></linearGradient>
<linearGradient id="g172" gradientUnits="userSpaceOnUse" x1="385" y1="1802.3" x2="405" y2="1831.8"><stop offset="0" stop-color="#48ffb0"/><stop offset="1" stop-color="#30ffd0"/></linearGradient>
<linearGradient id="g173" gradientUnits="userSpaceOnUse" x1="405" y1="1831.8" x2="425" y2="1865.8"><stop offset="0" stop-color="#30ffd0"/><stop offset="1" stop-color="#10f0f0"/></linearGradient>
<linearGradient id="g174" gradientUnits="userSpaceOnUse" x1="425" y1="1865.8" x2="440" y2="1895.5"><stop offset="0" stop-color="#10f0f0"/><stop offset="1" stop-color="#00d0ff"/></linearGradient>
<linearGradient id="g175" gradientUnits="userSpaceOnUse" x1="440" y1="1895.5" x2="455" y2="1924.7"><stop offset="0" stop-color="#00d0ff"/><stop offset="1" stop-color="#00a8ff"/></linearGradient>
<linearGradient id="g176" gradientUnits="userSpaceOnUse" x1="455" y1="1924.7" x2="470" y2="1950.1"><stop offset="0" stop-color="#00a8ff"/><stop offset="1" stop-color="#0080ff"/></linearGradient>
<linearGradient id="g177" gradientUnits="userSpaceOnUse" x1="470" y1="1950.1" x2="485.7" y2="1971.4"><stop offset="0" stop-color="#0080ff"/><stop offset="1" stop-color="#0058ff"/></linearGradient>
<linearGradient id="g178" gradientUnits="userSpaceOnUse" x1="485.7" y1="1971.4" x2="500" y2="1983.2"><stop offset="0" stop-color="#0058ff"/><stop offset="1" stop-color="#0038ff"/></linearGradient>
<linearGradient id="g179" gradientUnits="userSpaceOnUse" x1="507.7" y1="1986.5" x2="512.9" y2="1986"><stop offset="0" stop-color="#0038ff"/><stop offset="1" stop-color="#0030ff"/></linearGradient>
<linearGradient id="g180" gradientUnits="userSpaceOnUse" x1="512.9" y1="1986" x2="518.2" y2="1983.9"><stop offset="0" stop-color="#0030ff"/><stop offset="1" stop-color="#0028ff"/></linearGradient>
<linearGradient id="g181" gradientUnits="userSpaceOnUse" x1="518.2" y1="1983.9" x2="524.3" y2="1979.7"><stop offset="0" stop-color="#0028ff"/><stop offset="1" stop-color="#001eff"/></linearGradient>
<linearGradient id="g182" gradientUnits="userSpaceOnUse" x1="524.3" y1="1979.7" x2="530" y2="1972.2"><stop offset="0" stop-color="#001eff"/><stop offset="1" stop-color="#0010ff"/></linearGradient>
<linearGradient id="g183" gradientUnits="userSpaceOnUse" x1="530" y1="1972.2" x2="545" y2="1944.1"><stop offset="0" stop-color="#0010ff"/><stop offset="1" stop-color="#0000f0"/></linearGradient>
<linearGradient id="g184" gradientUnits="userSpaceOnUse" x1="650" y1="1762" x2="657.3" y2="1766.1"><stop offset="0" stop-color="#0000f0"/><stop offset="1" stop-color="#0007f7"/></linearGradient>
<linearGradient id="g185" gradientUnits="userSpaceOnUse" x1="657.3" y1="1766.1" x2="665" y2="1772.8"><stop offset="0" stop-color="#0007f7"/><stop offset="1" stop-color="#0010ff"/></linearGradient>
<linearGradient id="g186" gradientUnits="userSpaceOnUse" x1="665" y1="1772.8" x2="685" y2="1807.3"><stop offset="0" stop-color="#0010ff"/><stop offset="1" stop-color="#0040ff"/></linearGradient>
<linearGradient id="g187" gradientUnits="userSpaceOnUse" x1="685" y1="1807.3" x2="700" y2="1839"><stop offset="0" stop-color="#0040ff"/><stop offset="1" stop-color="#0070ff"/></linearGradient>
<linearGradient id="g188" gradientUnits="userSpaceOnUse" x1="700" y1="1839" x2="715" y2="1864.7"><stop offset="0" stop-color="#0070ff"/><stop offset="1" stop-color="#0090ff"/></linearGradient>
<linearGradient id="g189" gradientUnits="userSpaceOnUse" x1="715" y1="1864.7" x2="721.5" y2="1871.1"><stop offset="0" stop-color="#0090ff"/><stop offset="1" stop-color="#009aff"/></linearGradient>
<linearGradient id="g190" gradientUnits="userSpaceOnUse" x1="721.5" y1="1871.1" x2="726.8" y2="1874.6"><stop offset="0" stop-color="#009aff"/><stop offset="1" stop-color="#00a1ff"/></linearGradient>
<linearGradient id="g191" gradientUnits="userSpaceOnUse" x1="726.8" y1="1874.6" x2="732.4" y2="1877"><stop offset="0" stop-color="#00a1ff"/><stop offset="1" stop-color="#00a8ff"/></linearGradient>
<linearGradient id="g192" gradientUnits="userSpaceOnUse" x1="732.4" y1="1877" x2="744.6" y2="1876.9"><stop offset="0" stop-color="#00a8ff"/><stop offset="1" stop-color="#00a3ff"/></linearGradient>
<linearGradient id="g193" gradientUnits="userSpaceOnUse" x1="744.6" y1="1876.9" x2="757.2" y2="1874"><stop offset="0" stop-color="#00a3ff"/><stop offset="1" stop-color="#009eff"/></linearGradient>
<linearGradient id="g194" gradientUnits="userSpaceOnUse" x1="757.2" y1="1874" x2="770" y2="1870.1"><stop offset="0" stop-color="#009eff"/><stop offset="1" stop-color="#0098ff"/></linearGradient>
<linearGradient id="g195" gradientUnits="userSpaceOnUse" x1="770" y1="1870.1" x2="791.8" y2="1858.8"><stop offset="0" stop-color="#0098ff"/><stop offset="1" stop-color="#007fff"/></linearGradient>
<linearGradient id="g196" gradientUnits="userSpaceOnUse" x1="791.8" y1="1858.8" x2="810" y2="1844.7"><stop offset="0" stop-color="#007fff"/><stop offset="1" stop-color="#0068ff"/></linearGradient>
<linearGradient id="g197" gradientUnits="userSpaceOnUse" x1="840" y1="1810.7" x2="860" y2="1782.4"><stop offset="0" stop-color="#0068ff"/><stop offset="1" stop-color="#0080ff"/></linearGradient>
<linearGradient id="g198" gradientUnits="userSpaceOnUse" x1="860" y1="1782.4" x2="880" y2="1750.6"><stop offset="0" stop-color="#0080ff"/><stop offset="1" stop-color="#00a0ff"/></linearGradient>
<linearGradient id="g199" gradientUnits="userSpaceOnUse" x1="880" y1="1750.6" x2="895" y2="1726.8"><stop offset="0" stop-color="#00a0ff"/><stop offset="1" stop-color="#00d0ff"/></linearGradient>
<linearGradient id="g200" gradientUnits="userSpaceOnUse" x1="895" y1="1726.8" x2="910" y2="1703.7"><stop offset="0" stop-color="#00d0ff"/><stop offset="1" stop-color="#10f0f0"/></linearGradient>
<linearGradient id="g201" gradientUnits="userSpaceOnUse" x1="910" y1="1703.7" x2="925" y2="1683.3"><stop offset="0" stop-color="#10f0f0"/><stop offset="1" stop-color="#30ffd0"/></linearGradient>
<linearGradient id="g202" gradientUnits="userSpaceOnUse" x1="925" y1="1683.3" x2="945" y2="1660"><stop offset="0" stop-color="#30ffd0"/><stop offset="1" stop-color="#50ffa8"/></linearGradient>
<linearGradient id="g203" gradientUnits="userSpaceOnUse" x1="945" y1="1660" x2="970" y2="1639.9"><stop offset="0" stop-color="#50ffa8"/><stop offset="1" stop-color="#70ff88"/></linearGradient>
<linearGradient id="g204" gradientUnits="userSpaceOnUse" x1="970" y1="1639.9" x2="987.8" y2="1632.3"><stop offset="0" stop-color="#70ff88"/><stop offset="1" stop-color="#78ff80"/></linearGradient>
<linearGradient id="g205" gradientUnits="userSpaceOnUse" x1="987.8" y1="1632.3" x2="1006.4" y2="1629.8"><stop offset="0" stop-color="#78ff80"/><stop offset="1" stop-color="#80ff78"/></linearGradient>
<linearGradient id="g206" gradientUnits="userSpaceOnUse" x1="1006.4" y1="1629.8" x2="1017.1" y2="1631.4"><stop offset="0" stop-color="#80ff78"/><stop offset="1" stop-color="#87ff71"/></linearGradient>
<linearGradient id="g207" gradientUnits="userSpaceOnUse" x1="1017.1" y1="1631.4" x2="1030" y2="1637.4"><stop offset="0" stop-color="#87ff71"/><stop offset="1" stop-color="#90ff68"/></linearGradient>
<linearGradient id="g208" gradientUnits="userSpaceOnUse" x1="1030" y1="1637.4" x2="1065" y2="1666.6"><stop offset="0" stop-color="#90ff68"/><stop offset="1" stop-color="#94ff64"/></linearGradient>
<linearGradient id="g209" gradientUnits="userSpaceOnUse" x1="1065" y1="1666.6" x2="1100" y2="1703.5"><stop offset="0" stop-color="#94ff64"/><stop offset="1" stop-color="#98ff60"/></linearGradient>
<linearGradient id="g210" gradientUnits="userSpaceOnUse" x1="1290" y1="1784.2" x2="1296.2" y2="1778.6"><stop offset="0" stop-color="#98ff60"/><stop offset="1" stop-color="#80ff78"/></linearGradient>
<linearGradient id="g211" gradientUnits="userSpaceOnUse" x1="1296.2" y1="1778.6" x2="1360" y2="1713.3"><stop offset="0" stop-color="#80ff78"/><stop offset="1" stop-color="#78ff80"/></linearGradient>
<linearGradient id="g212" gradientUnits="userSpaceOnUse" x1="1360" y1="1713.3" x2="1371" y2="1704.1"><stop offset="0" stop-color="#78ff80"/><stop offset="1" stop-color="#70ff88"/></linearGradient>
<linearGradient id="g213" gradientUnits="userSpaceOnUse" x1="1371" y1="1704.1" x2="1372" y2="1703.3"><stop offset="0" stop-color="#70ff88"/><stop offset="1" stop-color="#0060ff"/></linearGradient>
<linearGradient id="g214" gradientUnits="userSpaceOnUse" x1="1374.8" y1="1701.2" x2="1401" y2="1684.5"><stop offset="0" stop-color="#40ffb8"/><stop offset="1" stop-color="#30ffd0"/></linearGradient>
<linearGradient id="g215" gradientUnits="userSpaceOnUse" x1="1401" y1="1684.5" x2="1420" y2="1678.7"><stop offset="0" stop-color="#30ffd0"/><stop offset="1" stop-color="#18f8e8"/></linearGradient>
<linearGradient id="g216" gradientUnits="userSpaceOnUse" x1="1420" y1="1678.7" x2="1435" y2="1677.6"><stop offset="0" stop-color="#18f8e8"/><stop offset="1" stop-color="#00e0ff"/></linearGradient>
<linearGradient id="g217" gradientUnits="userSpaceOnUse" x1="1435" y1="1677.6" x2="1450" y2="1680.9"><stop offset="0" stop-color="#00e0ff"/><stop offset="1" stop-color="#00c0ff"/></linearGradient>
<linearGradient id="g218" gradientUnits="userSpaceOnUse" x1="1450" y1="1680.9" x2="1470" y2="1692.1"><stop offset="0" stop-color="#00c0ff"/><stop offset="1" stop-color="#00a0ff"/></linearGradient>
<linearGradient id="g219" gradientUnits="userSpaceOnUse" x1="1470" y1="1692.1" x2="1490" y2="1712.2"><stop offset="0" stop-color="#00a0ff"/><stop offset="1" stop-color="#0080ff"/></linearGradient>
<linearGradient id="g220" gradientUnits="userSpaceOnUse" x1="1490" y1="1712.2" x2="1505" y2="1733.7"><stop offset="0" stop-color="#0080ff"/><stop offset="1" stop-color="#0060ff"/></linearGradient>
<linearGradient id="g221" gradientUnits="userSpaceOnUse" x1="1505" y1="1733.7" x2="1520" y2="1761.4"><stop offset="0" stop-color="#0060ff"/><stop offset="1" stop-color="#0050ff"/></linearGradient>
<linearGradient id="g222" gradientUnits="userSpaceOnUse" x1="1520" y1="1761.4" x2="1535" y2="1793.8"><stop offset="0" stop-color="#0050ff"/><stop offset="1" stop-color="#0040ff"/></linearGradient>
<linearGradient id="g223" gradientUnits="userSpaceOnUse" x1="1535" y1="1793.8" x2="1550" y2="1826.7"><stop offset="0" stop-color="#0040ff"/><stop offset="1" stop-color="#0050ff"/></linearGradient>
<linearGradient id="g224" gradientUnits="userSpaceOnUse" x1="1550" y1="1826.7" x2="1562" y2="1850.3"><stop offset="0" stop-color="#0050ff"/><stop offset="1" stop-color="#0070ff"/></linearGradient>
<linearGradient id="g225" gradientUnits="userSpaceOnUse" x1="1562" y1="1850.3" x2="1568.6" y2="1860.9"><stop offset="0" stop-color="#0070ff"/><stop offset="1" stop-color="#0086ff"/></linearGradient>
<linearGradient id="g226" gradientUnits="userSpaceOnUse" x1="1568.6" y1="1860.9" x2="1575" y2="1868.4"><stop offset="0" stop-color="#0086ff"/><stop offset="1" stop-color="#0098ff"/></linearGradient>
<linearGradient id="g227" gradientUnits="userSpaceOnUse" x1="1575" y1="1868.4" x2="1581.9" y2="1873.4"><stop offset="0" stop-color="#0098ff"/><stop offset="1" stop-color="#009cff"/></linearGradient>
<linearGradient id="g228" gradientUnits="userSpaceOnUse" x1="1581.9" y1="1873.4" x2="1590" y2="1877"><stop offset="0" stop-color="#009cff"/><stop offset="1" stop-color="#00a0ff"/></linearGradient>
<linearGradient id="g229" gradientUnits="userSpaceOnUse" x1="229" y1="1812.3" x2="260.1" y2="1807.2"><stop offset="0" stop-color="#a0ff58"/><stop offset="1" stop-color="#9dff5b"/></linearGradient>
<linearGradient id="g230" gradientUnits="userSpaceOnUse" x1="260.1" y1="1807.2" x2="300" y2="1787.7"><stop offset="0" stop-color="#9dff5b"/><stop offset="1" stop-color="#98ff60"/></linearGradient>
<linearGradient id="g231" gradientUnits="userSpaceOnUse" x1="300" y1="1787.7" x2="316" y2="1779.8"><stop offset="0" stop-color="#98ff60"/><stop offset="1" stop-color="#91ff67"/></linearGradient>
<linearGradient id="g232" gradientUnits="userSpaceOnUse" x1="316" y1="1779.8" x2="328.1" y2="1776"><stop offset="0" stop-color="#91ff67"/><stop offset="1" stop-color="#8dff6b"/></linearGradient>
<linearGradient id="g233" gradientUnits="userSpaceOnUse" x1="328.1" y1="1776" x2="337.8" y2="1774.6"><stop offset="0" stop-color="#8dff6b"/><stop offset="1" stop-color="#89ff6f"/></linearGradient>
<linearGradient id="g234" gradientUnits="userSpaceOnUse" x1="337.8" y1="1774.6" x2="350.3" y2="1776.8"><stop offset="0" stop-color="#89ff6f"/><stop offset="1" stop-color="#84ff74"/></linearGradient>
<linearGradient id="g235" gradientUnits="userSpaceOnUse" x1="350.3" y1="1776.8" x2="360" y2="1782.8"><stop offset="0" stop-color="#84ff74"/><stop offset="1" stop-color="#80ff78"/></linearGradient>
<linearGradient id="g236" gradientUnits="userSpaceOnUse" x1="400" y1="1850.9" x2="417.2" y2="1881.9"><stop offset="0" stop-color="#80ff78"/><stop offset="1" stop-color="#81ff77"/></linearGradient>
<linearGradient id="g237" gradientUnits="userSpaceOnUse" x1="417.2" y1="1881.9" x2="445.8" y2="1931.8"><stop offset="0" stop-color="#81ff77"/><stop offset="1" stop-color="#84ff74"/></linearGradient>
<linearGradient id="g238" gradientUnits="userSpaceOnUse" x1="445.8" y1="1931.8" x2="478.5" y2="1985.4"><stop offset="0" stop-color="#84ff74"/><stop offset="1" stop-color="#86ff72"/></linearGradient>
<linearGradient id="g239" gradientUnits="userSpaceOnUse" x1="478.5" y1="1985.4" x2="507.7" y2="2016.4"><stop offset="0" stop-color="#86ff72"/><stop offset="1" stop-color="#88ff70"/></linearGradient>
<linearGradient id="g240" gradientUnits="userSpaceOnUse" x1="507.7" y1="2016.4" x2="560.1" y2="2024.3"><stop offset="0" stop-color="#88ff70"/><stop offset="1" stop-color="#8cff6c"/></linearGradient>
<linearGradient id="g241" gradientUnits="userSpaceOnUse" x1="560.1" y1="2024.3" x2="605" y2="2041"><stop offset="0" stop-color="#8cff6c"/><stop offset="1" stop-color="#90ff68"/></linearGradient>
<linearGradient id="g242" gradientUnits="userSpaceOnUse" x1="229" y1="2016.3" x2="270" y2="2012.7"><stop offset="0" stop-color="#00a0ff"/><stop offset="1" stop-color="#00b8ff"/></linearGradient>
<linearGradient id="g243" gradientUnits="userSpaceOnUse" x1="270" y1="2012.7" x2="295" y2="2012.5"><stop offset="0" stop-color="#00b8ff"/><stop offset="1" stop-color="#00d8ff"/></linearGradient>
<linearGradient id="g244" gradientUnits="userSpaceOnUse" x1="295" y1="2012.5" x2="315" y2="2017.5"><stop offset="0" stop-color="#00d8ff"/><stop offset="1" stop-color="#10f0f0"/></linearGradient>
<linearGradient id="g245" gradientUnits="userSpaceOnUse" x1="315" y1="2017.5" x2="335" y2="2027.7"><stop offset="0" stop-color="#10f0f0"/><stop offset="1" stop-color="#30ffd0"/></linearGradient>
<linearGradient id="g246" gradientUnits="userSpaceOnUse" x1="789" y1="20" x2="850" y2="135.1"><stop offset="0" stop-color="#0000ff"/><stop offset="1" stop-color="#0000e8"/></linearGradient>
<linearGradient id="g247" gradientUnits="userSpaceOnUse" x1="850" y1="135.1" x2="863.9" y2="154.3"><stop offset="0" stop-color="#0000e8"/><stop offset="1" stop-color="#0000e0"/></linearGradient>
<linearGradient id="g248" gradientUnits="userSpaceOnUse" x1="863.9" y1="154.3" x2="877.8" y2="167.9"><stop offset="0" stop-color="#0000e0"/><stop offset="1" stop-color="#0000da"/></linearGradient>
<linearGradient id="g249" gradientUnits="userSpaceOnUse" x1="877.8" y1="167.9" x2="891.8" y2="174.6"><stop offset="0" stop-color="#0000da"/><stop offset="1" stop-color="#0000d5"/></linearGradient>
<linearGradient id="g250" gradientUnits="userSpaceOnUse" x1="891.8" y1="174.6" x2="905.7" y2="176.4"><stop offset="0" stop-color="#0000d5"/><stop offset="1" stop-color="#0000d0"/></linearGradient>
<linearGradient id="g251" gradientUnits="userSpaceOnUse" x1="905.7" y1="176.4" x2="920" y2="174.5"><stop offset="0" stop-color="#0000d0"/><stop offset="1" stop-color="#0000ce"/></linearGradient>
<linearGradient id="g252" gradientUnits="userSpaceOnUse" x1="920" y1="174.5" x2="934.3" y2="168.6"><stop offset="0" stop-color="#0000ce"/><stop offset="1" stop-color="#0000cc"/></linearGradient>
<linearGradient id="g253" gradientUnits="userSpaceOnUse" x1="934.3" y1="168.6" x2="948.6" y2="161.4"><stop offset="0" stop-color="#0000cc"/><stop offset="1" stop-color="#0000c9"/></linearGradient>
<linearGradient id="g254" gradientUnits="userSpaceOnUse" x1="948.6" y1="161.4" x2="962.9" y2="154.3"><stop offset="0" stop-color="#0000c9"/><stop offset="1" stop-color="#0000c7"/></linearGradient>
<linearGradient id="g255" gradientUnits="userSpaceOnUse" x1="962.9" y1="154.3" x2="977.1" y2="149.5"><stop offset="0" stop-color="#0000c7"/><stop offset="1" stop-color="#0000c4"/></linearGradient>
<linearGradient id="g256" gradientUnits="userSpaceOnUse" x1="977.1" y1="149.5" x2="991.4" y2="147.1"><stop offset="0" stop-color="#0000c4"/><stop offset="1" stop-color="#0000c2"/></linearGradient>
<linearGradient id="g257" gradientUnits="userSpaceOnUse" x1="991.4" y1="147.1" x2="1006.7" y2="146.7"><stop offset="0" stop-color="#0000c2"/><stop offset="1" stop-color="#0000c0"/></linearGradient>
<linearGradient id="g258" gradientUnits="userSpaceOnUse" x1="1006.7" y1="146.7" x2="1050.9" y2="254.6"><stop offset="0" stop-color="#0000c0"/><stop offset="1" stop-color="#0000ce"/></linearGradient>
<linearGradient id="g259" gradientUnits="userSpaceOnUse" x1="1050.9" y1="254.6" x2="1100" y2="316"><stop offset="0" stop-color="#0000ce"/><stop offset="1" stop-color="#0000d8"/></linearGradient>
<linearGradient id="g260" gradientUnits="userSpaceOnUse" x1="1100" y1="316" x2="1134" y2="337.9"><stop offset="0" stop-color="#0000d8"/><stop offset="1" stop-color="#0000dc"/></linearGradient>
<linearGradient id="g261" gradientUnits="userSpaceOnUse" x1="1134" y1="337.9" x2="1169.2" y2="363.8"><stop offset="0" stop-color="#0000dc"/><stop offset="1" stop-color="#0000df"/></linearGradient>
<linearGradient id="g262" gradientUnits="userSpaceOnUse" x1="1169.2" y1="363.8" x2="1194.3" y2="392.7"><stop offset="0" stop-color="#0000df"/><stop offset="1" stop-color="#0000e3"/></linearGradient>
<linearGradient id="g263" gradientUnits="userSpaceOnUse" x1="1194.3" y1="392.7" x2="1215.4" y2="424.9"><stop offset="0" stop-color="#0000e3"/><stop offset="1" stop-color="#0000e6"/></linearGradient>
<linearGradient id="g264" gradientUnits="userSpaceOnUse" x1="1215.4" y1="424.9" x2="1230" y2="441.8"><stop offset="0" stop-color="#0000e6"/><stop offset="1" stop-color="#0000e8"/></linearGradient>
<linearGradient id="g265" gradientUnits="userSpaceOnUse" x1="1230" y1="441.8" x2="1237.7" y2="438.7"><stop offset="0" stop-color="#0000e8"/><stop offset="1" stop-color="#0000e7"/></linearGradient>
<linearGradient id="g266" gradientUnits="userSpaceOnUse" x1="1237.7" y1="438.7" x2="1246.5" y2="429"><stop offset="0" stop-color="#0000e7"/><stop offset="1" stop-color="#0000e6"/></linearGradient>
<linearGradient id="g267" gradientUnits="userSpaceOnUse" x1="1246.5" y1="429" x2="1258.1" y2="416.9"><stop offset="0" stop-color="#0000e6"/><stop offset="1" stop-color="#0000e5"/></linearGradient>
<linearGradient id="g268" gradientUnits="userSpaceOnUse" x1="1258.1" y1="416.9" x2="1273" y2="402"><stop offset="0" stop-color="#0000e5"/><stop offset="1" stop-color="#0000e3"/></linearGradient>
<linearGradient id="g269" gradientUnits="userSpaceOnUse" x1="1273" y1="402" x2="1288.3" y2="389.7"><stop offset="0" stop-color="#0000e3"/><stop offset="1" stop-color="#0000e1"/></linearGradient>
<linearGradient id="g270" gradientUnits="userSpaceOnUse" x1="1288.3" y1="389.7" x2="1301" y2="381"><stop offset="0" stop-color="#0000e1"/><stop offset="1" stop-color="#0000e0"/></linearGradient>
<linearGradient id="g271" gradientUnits="userSpaceOnUse" x1="1301" y1="381" x2="1320.6" y2="373.3"><stop offset="0" stop-color="#0000e0"/><stop offset="1" stop-color="#0000de"/></linearGradient>
<linearGradient id="g272" gradientUnits="userSpaceOnUse" x1="1320.6" y1="373.3" x2="1340.3" y2="374.3"><stop offset="0" stop-color="#0000de"/><stop offset="1" stop-color="#0000dc"/></linearGradient>
<linearGradient id="g273" gradientUnits="userSpaceOnUse" x1="1340.3" y1="374.3" x2="1361.1" y2="380"><stop offset="0" stop-color="#0000dc"/><stop offset="1" stop-color="#0000da"/></linearGradient>
<linearGradient id="g274" gradientUnits="userSpaceOnUse" x1="1361.1" y1="380" x2="1380" y2="383"><stop offset="0" stop-color="#0000da"/><stop offset="1" stop-color="#0000d8"/></linearGradient>
<linearGradient id="g275" gradientUnits="userSpaceOnUse" x1="1380" y1="383" x2="1395.1" y2="378.6"><stop offset="0" stop-color="#0000d8"/><stop offset="1" stop-color="#0000d5"/></linearGradient>
<linearGradient id="g276" gradientUnits="userSpaceOnUse" x1="1395.1" y1="378.6" x2="1410.3" y2="364.6"><stop offset="0" stop-color="#0000d5"/><stop offset="1" stop-color="#0000d2"/></linearGradient>
<linearGradient id="g277" gradientUnits="userSpaceOnUse" x1="1410.3" y1="364.6" x2="1425.2" y2="341.3"><stop offset="0" stop-color="#0000d2"/><stop offset="1" stop-color="#0000ce"/></linearGradient>
<linearGradient id="g278" gradientUnits="userSpaceOnUse" x1="1425.2" y1="341.3" x2="1440" y2="310"><stop offset="0" stop-color="#0000ce"/><stop offset="1" stop-color="#0000c8"/></linearGradient>
<linearGradient id="g279" gradientUnits="userSpaceOnUse" x1="1440" y1="310" x2="1480" y2="197.6"><stop offset="0" stop-color="#0000c8"/><stop offset="1" stop-color="#0000e0"/></linearGradient>
<linearGradient id="g280" gradientUnits="userSpaceOnUse" x1="1480" y1="197.6" x2="1536" y2="20"><stop offset="0" stop-color="#0000e0"/><stop offset="1" stop-color="#0000ff"/></linearGradient>
<linearGradient id="g281" gradientUnits="userSpaceOnUse" x1="1006.7" y1="1161.2" x2="1025" y2="1162.9"><stop offset="0" stop-color="#0028ff"/><stop offset="1" stop-color="#0040ff"/></linearGradient>
<linearGradient id="g282" gradientUnits="userSpaceOnUse" x1="1025" y1="1162.9" x2="1042.5" y2="1160.1"><stop offset="0" stop-color="#0040ff"/><stop offset="1" stop-color="#003cff"/></linearGradient>
<linearGradient id="g283" gradientUnits="userSpaceOnUse" x1="1042.5" y1="1160.1" x2="1060" y2="1152.7"><stop offset="0" stop-color="#003cff"/><stop offset="1" stop-color="#0038ff"/></linearGradient>
<linearGradient id="g284" gradientUnits="userSpaceOnUse" x1="1060" y1="1152.7" x2="1081.6" y2="1134.9"><stop offset="0" stop-color="#0038ff"/><stop offset="1" stop-color="#002dff"/></linearGradient>
<linearGradient id="g285" gradientUnits="userSpaceOnUse" x1="1081.6" y1="1134.9" x2="1100" y2="1108.7"><stop offset="0" stop-color="#002dff"/><stop offset="1" stop-color="#0020ff"/></linearGradient>
<linearGradient id="g286" gradientUnits="userSpaceOnUse" x1="1100" y1="1108.7" x2="1116.9" y2="1068.6"><stop offset="0" stop-color="#0020ff"/><stop offset="1" stop-color="#0015ff"/></linearGradient>
<linearGradient id="g287" gradientUnits="userSpaceOnUse" x1="1116.9" y1="1068.6" x2="1130" y2="1017.4"><stop offset="0" stop-color="#0015ff"/><stop offset="1" stop-color="#0008ff"/></linearGradient>
<linearGradient id="g288" gradientUnits="userSpaceOnUse" x1="1130" y1="1017.4" x2="1160" y2="859.3"><stop offset="0" stop-color="#0008ff"/><stop offset="1" stop-color="#0000f8"/></linearGradient>
<linearGradient id="g289" gradientUnits="userSpaceOnUse" x1="1160" y1="859.3" x2="1200" y2="552.8"><stop offset="0" stop-color="#0000f8"/><stop offset="1" stop-color="#0000e0"/></linearGradient>
<linearGradient id="g290" gradientUnits="userSpaceOnUse" x1="1200" y1="552.8" x2="1205.2" y2="514.5"><stop offset="0" stop-color="#0000e0"/><stop offset="1" stop-color="#0000de"/></linearGradient>
<linearGradient id="g291" gradientUnits="userSpaceOnUse" x1="1205.2" y1="514.5" x2="1210.9" y2="481.1"><stop offset="0" stop-color="#0000de"/><stop offset="1" stop-color="#0000dc"/></linearGradient>
<linearGradient id="g292" gradientUnits="userSpaceOnUse" x1="1210.9" y1="481.1" x2="1216.6" y2="451.6"><stop offset="0" stop-color="#0000dc"/><stop offset="1" stop-color="#0000da"/></linearGradient>
<linearGradient id="g293" gradientUnits="userSpaceOnUse" x1="1216.6" y1="451.6" x2="1222.3" y2="429.8"><stop offset="0" stop-color="#0000da"/><stop offset="1" stop-color="#0000d9"/></linearGradient>
<linearGradient id="g294" gradientUnits="userSpaceOnUse" x1="1222.3" y1="429.8" x2="1231.5" y2="420.5"><stop offset="0" stop-color="#0000d9"/><stop offset="1" stop-color="#0000d8"/></linearGradient>
<linearGradient id="g295" gradientUnits="userSpaceOnUse" x1="1231.5" y1="420.5" x2="1239.4" y2="426.3"><stop offset="0" stop-color="#0000d8"/><stop offset="1" stop-color="#0000d9"/></linearGradient>
<linearGradient id="g296" gradientUnits="userSpaceOnUse" x1="1239.4" y1="426.3" x2="1245" y2="439.3"><stop offset="0" stop-color="#0000d9"/><stop offset="1" stop-color="#0000da"/></linearGradient>
<linearGradient id="g297" gradientUnits="userSpaceOnUse" x1="1245" y1="439.3" x2="1251.7" y2="461.5"><stop offset="0" stop-color="#0000da"/><stop offset="1" stop-color="#0000dc"/></linearGradient>
<linearGradient id="g298" gradientUnits="userSpaceOnUse" x1="1251.7" y1="461.5" x2="1258.3" y2="483.6"><stop offset="0" stop-color="#0000dc"/><stop offset="1" stop-color="#0000de"/></linearGradient>
<linearGradient id="g299" gradientUnits="userSpaceOnUse" x1="1258.3" y1="483.6" x2="1265" y2="508.4"><stop offset="0" stop-color="#0000de"/><stop offset="1" stop-color="#0000e0"/></linearGradient>
<linearGradient id="g300" gradientUnits="userSpaceOnUse" x1="1265" y1="508.4" x2="1300" y2="657.3"><stop offset="0" stop-color="#0000e0"/><stop offset="1" stop-color="#0000f8"/></linearGradient>
<linearGradient id="g301" gradientUnits="userSpaceOnUse" x1="1300" y1="657.3" x2="1380" y2="990.1"><stop offset="0" stop-color="#0000f8"/><stop offset="1" stop-color="#0000ff"/></linearGradient>
<linearGradient id="g302" gradientUnits="userSpaceOnUse" x1="1380" y1="990.1" x2="1395" y2="1043.7"><stop offset="0" stop-color="#0000ff"/><stop offset="1" stop-color="#0020ff"/></linearGradient>
<linearGradient id="g303" gradientUnits="userSpaceOnUse" x1="1395" y1="1043.7" x2="1406.3" y2="1077.1"><stop offset="0" stop-color="#0020ff"/><stop offset="1" stop-color="#0029ff"/></linearGradient>
<linearGradient id="g304" gradientUnits="userSpaceOnUse" x1="1406.3" y1="1077.1" x2="1420" y2="1100"><stop offset="0" stop-color="#0029ff"/><stop offset="1" stop-color="#0030ff"/></linearGradient>
<linearGradient id="g305" gradientUnits="userSpaceOnUse" x1="1420" y1="1100" x2="1470" y2="1145"><stop offset="0" stop-color="#0030ff"/><stop offset="1" stop-color="#0040ff"/></linearGradient>
<linearGradient id="g306" gradientUnits="userSpaceOnUse" x1="1470" y1="1145" x2="1500" y2="1163.9"><stop offset="0" stop-color="#0040ff"/><stop offset="1" stop-color="#0050ff"/></linearGradient>
<linearGradient id="g307" gradientUnits="userSpaceOnUse" x1="1500" y1="1163.9" x2="1525.8" y2="1168.3"><stop offset="0" stop-color="#0050ff"/><stop offset="1" stop-color="#0055ff"/></linearGradient>
<linearGradient id="g308" gradientUnits="userSpaceOnUse" x1="1525.8" y1="1168.3" x2="1552.6" y2="1164.3"><stop offset="0" stop-color="#0055ff"/><stop offset="1" stop-color="#0059ff"/></linearGradient>
<linearGradient id="g309" gradientUnits="userSpaceOnUse" x1="1552.6" y1="1164.3" x2="1590" y2="1160.5"><stop offset="0" stop-color="#0059ff"/><stop offset="1" stop-color="#0060ff"/></linearGradient>
<linearGradient id="g310" gradientUnits="userSpaceOnUse" x1="1006.7" y1="1261.5" x2="1028" y2="1244.3"><stop offset="0" stop-color="#0000e0"/><stop offset="1" stop-color="#0000eb"/></linearGradient>
<linearGradient id="g311" gradientUnits="userSpaceOnUse" x1="1028" y1="1244.3" x2="1051.8" y2="1232.3"><stop offset="0" stop-color="#0000eb"/><stop offset="1" stop-color="#0000f5"/></linearGradient>
<linearGradient id="g312" gradientUnits="userSpaceOnUse" x1="1051.8" y1="1232.3" x2="1075.7" y2="1229"><stop offset="0" stop-color="#0000f5"/><stop offset="1" stop-color="#0000ff"/></linearGradient>
<linearGradient id="g313" gradientUnits="userSpaceOnUse" x1="1075.7" y1="1229" x2="1090.5" y2="1231.6"><stop offset="0" stop-color="#0000ff"/><stop offset="1" stop-color="#000aff"/></linearGradient>
<linearGradient id="g314" gradientUnits="userSpaceOnUse" x1="1090.5" y1="1231.6" x2="1105.2" y2="1239.2"><stop offset="0" stop-color="#000aff"/><stop offset="1" stop-color="#0014ff"/></linearGradient>
<linearGradient id="g315" gradientUnits="userSpaceOnUse" x1="1105.2" y1="1239.2" x2="1120" y2="1250.5"><stop offset="0" stop-color="#0014ff"/><stop offset="1" stop-color="#0020ff"/></linearGradient>
<linearGradient id="g316" gradientUnits="userSpaceOnUse" x1="1120" y1="1250.5" x2="1160" y2="1299.7"><stop offset="0" stop-color="#0020ff"/><stop offset="1" stop-color="#0040ff"/></linearGradient>
<linearGradient id="g317" gradientUnits="userSpaceOnUse" x1="1160" y1="1299.7" x2="1200" y2="1357.2"><stop offset="0" stop-color="#0040ff"/><stop offset="1" stop-color="#0060ff"/></linearGradient>
<linearGradient id="g318" gradientUnits="userSpaceOnUse" x1="1200" y1="1357.2" x2="1210.4" y2="1369.1"><stop offset="0" stop-color="#0060ff"/><stop offset="1" stop-color="#006cff"/></linearGradient>
<linearGradient id="g319" gradientUnits="userSpaceOnUse" x1="1210.4" y1="1369.1" x2="1219.5" y2="1376.7"><stop offset="0" stop-color="#006cff"/><stop offset="1" stop-color="#0076ff"/></linearGradient>
<linearGradient id="g320" gradientUnits="userSpaceOnUse" x1="1219.5" y1="1376.7" x2="1227" y2="1380.3"><stop offset="0" stop-color="#0076ff"/><stop offset="1" stop-color="#007cff"/></linearGradient>
<linearGradient id="g321" gradientUnits="userSpaceOnUse" x1="1227" y1="1380.3" x2="1231.7" y2="1381"><stop offset="0" stop-color="#007cff"/><stop offset="1" stop-color="#0080ff"/></linearGradient>
<linearGradient id="g322" gradientUnits="userSpaceOnUse" x1="1231.7" y1="1381" x2="1241.1" y2="1366.8"><stop offset="0" stop-color="#0080ff"/><stop offset="1" stop-color="#007fff"/></linearGradient>
<linearGradient id="g323" gradientUnits="userSpaceOnUse" x1="1241.1" y1="1366.8" x2="1254.5" y2="1328.1"><stop offset="0" stop-color="#007fff"/><stop offset="1" stop-color="#007bff"/></linearGradient>
<linearGradient id="g324" gradientUnits="userSpaceOnUse" x1="1254.5" y1="1328.1" x2="1277.1" y2="1261.8"><stop offset="0" stop-color="#007bff"/><stop offset="1" stop-color="#0075ff"/></linearGradient>
<linearGradient id="g325" gradientUnits="userSpaceOnUse" x1="1277.1" y1="1261.8" x2="1300" y2="1203.1"><stop offset="0" stop-color="#0075ff"/><stop offset="1" stop-color="#0070ff"/></linearGradient>
<linearGradient id="g326" gradientUnits="userSpaceOnUse" x1="1300" y1="1203.1" x2="1319.9" y2="1163.9"><stop offset="0" stop-color="#0070ff"/><stop offset="1" stop-color="#0069ff"/></linearGradient>
<linearGradient id="g327" gradientUnits="userSpaceOnUse" x1="1319.9" y1="1163.9" x2="1340" y2="1137.6"><stop offset="0" stop-color="#0069ff"/><stop offset="1" stop-color="#0064ff"/></linearGradient>
<linearGradient id="g328" gradientUnits="userSpaceOnUse" x1="1340" y1="1137.6" x2="1360" y2="1122.2"><stop offset="0" stop-color="#0064ff"/><stop offset="1" stop-color="#0060ff"/></linearGradient>
<linearGradient id="g329" gradientUnits="userSpaceOnUse" x1="1360" y1="1122.2" x2="1373.4" y2="1116.4"><stop offset="0" stop-color="#0060ff"/><stop offset="1" stop-color="#0055ff"/></linearGradient>
<linearGradient id="g330" gradientUnits="userSpaceOnUse" x1="1373.4" y1="1116.4" x2="1389" y2="1114.3"><stop offset="0" stop-color="#0055ff"/><stop offset="1" stop-color="#0048ff"/></linearGradient>
<linearGradient id="g331" gradientUnits="userSpaceOnUse" x1="1389" y1="1114.3" x2="1394.7" y2="1115.5"><stop offset="0" stop-color="#0048ff"/><stop offset="1" stop-color="#003bff"/></linearGradient>
<linearGradient id="g332" gradientUnits="userSpaceOnUse" x1="1394.7" y1="1115.5" x2="1400.1" y2="1117.8"><stop offset="0" stop-color="#003bff"/><stop offset="1" stop-color="#002eff"/></linearGradient>
<linearGradient id="g333" gradientUnits="userSpaceOnUse" x1="1400.1" y1="1117.8" x2="1405" y2="1121.8"><stop offset="0" stop-color="#002eff"/><stop offset="1" stop-color="#0020ff"/></linearGradient>
<linearGradient id="g334" gradientUnits="userSpaceOnUse" x1="1405" y1="1121.8" x2="1412.6" y2="1132.4"><stop offset="0" stop-color="#0020ff"/><stop offset="1" stop-color="#0012ff"/></linearGradient>
<linearGradient id="g335" gradientUnits="userSpaceOnUse" x1="1412.6" y1="1132.4" x2="1420" y2="1148.1"><stop offset="0" stop-color="#0012ff"/><stop offset="1" stop-color="#0000ff"/></linearGradient>
<linearGradient id="g336" gradientUnits="userSpaceOnUse" x1="1420" y1="1148.1" x2="1470" y2="1261.6"><stop offset="0" stop-color="#0000ff"/><stop offset="1" stop-color="#0000f8"/></linearGradient>
<linearGradient id="g337" gradientUnits="userSpaceOnUse" x1="1470" y1="1261.6" x2="1478.9" y2="1274"><stop offset="0" stop-color="#0000f8"/><stop offset="1" stop-color="#0000e8"/></linearGradient>
<linearGradient id="g338" gradientUnits="userSpaceOnUse" x1="1478.9" y1="1274" x2="1490" y2="1284.6"><stop offset="0" stop-color="#0000e8"/><stop offset="1" stop-color="#0000d8"/></linearGradient>
<linearGradient id="g339" gradientUnits="userSpaceOnUse" x1="1490" y1="1284.6" x2="1510" y2="1298.8"><stop offset="0" stop-color="#0000d8"/><stop offset="1" stop-color="#0000a8"/></linearGradient>
<linearGradient id="g340" gradientUnits="userSpaceOnUse" x1="1510" y1="1298.8" x2="1525" y2="1310.7"><stop offset="0" stop-color="#0000a8"/><stop offset="1" stop-color="#000090"/></linearGradient>
<linearGradient id="g341" gradientUnits="userSpaceOnUse" x1="1525" y1="1310.7" x2="1547" y2="1332.3"><stop offset="0" stop-color="#000090"/><stop offset="1" stop-color="#00008d"/></linearGradient>
<linearGradient id="g342" gradientUnits="userSpaceOnUse" x1="1547" y1="1332.3" x2="1568.1" y2="1348.8"><stop offset="0" stop-color="#00008d"/><stop offset="1" stop-color="#00008a"/></linearGradient>
<linearGradient id="g343" gradientUnits="userSpaceOnUse" x1="1568.1" y1="1348.8" x2="1590" y2="1353.5"><stop offset="0" stop-color="#00008a"/><stop offset="1" stop-color="#000088"/></linearGradient>
<linearGradient id="g344" gradientUnits="userSpaceOnUse" x1="1006.7" y1="1261.5" x2="1040" y2="1292.3"><stop offset="0" stop-color="#0000d0"/><stop offset="1" stop-color="#0000b0"/></linearGradient>
<linearGradient id="g345" gradientUnits="userSpaceOnUse" x1="1040" y1="1292.3" x2="1070" y2="1324.1"><stop offset="0" stop-color="#0000b0"/><stop offset="1" stop-color="#000098"/></linearGradient>
<linearGradient id="g346" gradientUnits="userSpaceOnUse" x1="1070" y1="1324.1" x2="1100" y2="1356.1"><stop offset="0" stop-color="#000098"/><stop offset="1" stop-color="#000088"/></linearGradient>
<linearGradient id="g347" gradientUnits="userSpaceOnUse" x1="1275" y1="1414.1" x2="1290" y2="1390"><stop offset="0" stop-color="#000088"/><stop offset="1" stop-color="#0000b8"/></linearGradient>
<linearGradient id="g348" gradientUnits="userSpaceOnUse" x1="1290" y1="1390" x2="1305" y2="1355.7"><stop offset="0" stop-color="#0000b8"/><stop offset="1" stop-color="#0000f0"/></linearGradient>
<linearGradient id="g349" gradientUnits="userSpaceOnUse" x1="1305" y1="1355.7" x2="1320" y2="1319.5"><stop offset="0" stop-color="#0000f0"/><stop offset="1" stop-color="#0000ff"/></linearGradient>
<linearGradient id="g350" gradientUnits="userSpaceOnUse" x1="1430" y1="1175.6" x2="1437.4" y2="1176.6"><stop offset="0" stop-color="#0000ff"/><stop offset="1" stop-color="#0000ec"/></linearGradient>
<linearGradient id="g351" gradientUnits="userSpaceOnUse" x1="1437.4" y1="1176.6" x2="1445" y2="1179.8"><stop offset="0" stop-color="#0000ec"/><stop offset="1" stop-color="#0000d8"/></linearGradient>
<linearGradient id="g352" gradientUnits="userSpaceOnUse" x1="1445" y1="1179.8" x2="1452.4" y2="1184.9"><stop offset="0" stop-color="#0000d8"/><stop offset="1" stop-color="#0000c6"/></linearGradient>
<linearGradient id="g353" gradientUnits="userSpaceOnUse" x1="1452.4" y1="1184.9" x2="1460" y2="1192.4"><stop offset="0" stop-color="#0000c6"/><stop offset="1" stop-color="#0000b0"/></linearGradient>
<linearGradient id="g354" gradientUnits="userSpaceOnUse" x1="1460" y1="1192.4" x2="1474.8" y2="1212.4"><stop offset="0" stop-color="#0000b0"/><stop offset="1" stop-color="#000098"/></linearGradient>
<linearGradient id="g355" gradientUnits="userSpaceOnUse" x1="1474.8" y1="1212.4" x2="1501.6" y2="1258.3"><stop offset="0" stop-color="#000098"/><stop offset="1" stop-color="#000094"/></linearGradient>
<linearGradient id="g356" gradientUnits="userSpaceOnUse" x1="1501.6" y1="1258.3" x2="1528.2" y2="1305.3"><stop offset="0" stop-color="#000094"/><stop offset="1" stop-color="#00008f"/></linearGradient>
<linearGradient id="g357" gradientUnits="userSpaceOnUse" x1="1528.2" y1="1305.3" x2="1554.9" y2="1340.6"><stop offset="0" stop-color="#00008f"/><stop offset="1" stop-color="#00008b"/></linearGradient>
<linearGradient id="g358" gradientUnits="userSpaceOnUse" x1="1554.9" y1="1340.6" x2="1590" y2="1354"><stop offset="0" stop-color="#00008b"/><stop offset="1" stop-color="#000088"/></linearGradient>
<linearGradient id="g359" gradientUnits="userSpaceOnUse" x1="1240" y1="1519.2" x2="1248.4" y2="1513.8"><stop offset="0" stop-color="#000088"/><stop offset="1" stop-color="#00008f"/></linearGradient>
<linearGradient id="g360" gradientUnits="userSpaceOnUse" x1="1248.4" y1="1513.8" x2="1255.4" y2="1505.3"><stop offset="0" stop-color="#00008f"/><stop offset="1" stop-color="#000097"/></linearGradient>
<linearGradient id="g361" gradientUnits="userSpaceOnUse" x1="1255.4" y1="1505.3" x2="1261.7" y2="1495.2"><stop offset="0" stop-color="#000097"/><stop offset="1" stop-color="#0000a0"/></linearGradient>
<linearGradient id="g362" gradientUnits="userSpaceOnUse" x1="1400" y1="1360.1" x2="1419.7" y2="1348.2"><stop offset="0" stop-color="#0000a0"/><stop offset="1" stop-color="#000099"/></linearGradient>
<linearGradient id="g363" gradientUnits="userSpaceOnUse" x1="1419.7" y1="1348.2" x2="1438.7" y2="1340.6"><stop offset="0" stop-color="#000099"/><stop offset="1" stop-color="#000093"/></linearGradient>
<linearGradient id="g364" gradientUnits="userSpaceOnUse" x1="1438.7" y1="1340.6" x2="1450" y2="1339"><stop offset="0" stop-color="#000093"/><stop offset="1" stop-color="#000090"/></linearGradient>
<linearGradient id="g365" gradientUnits="userSpaceOnUse" x1="1450" y1="1339" x2="1468.7" y2="1344.6"><stop offset="0" stop-color="#000090"/><stop offset="1" stop-color="#00008e"/></linearGradient>
<linearGradient id="g366" gradientUnits="userSpaceOnUse" x1="1468.7" y1="1344.6" x2="1484.7" y2="1358"><stop offset="0" stop-color="#00008e"/><stop offset="1" stop-color="#00008c"/></linearGradient>
<linearGradient id="g367" gradientUnits="userSpaceOnUse" x1="1484.7" y1="1358" x2="1503.1" y2="1380.4"><stop offset="0" stop-color="#00008c"/><stop offset="1" stop-color="#00008a"/></linearGradient>
<linearGradient id="g368" gradientUnits="userSpaceOnUse" x1="1503.1" y1="1380.4" x2="1521.5" y2="1402.6"><stop offset="0" stop-color="#00008a"/><stop offset="1" stop-color="#000087"/></linearGradient>
<linearGradient id="g369" gradientUnits="userSpaceOnUse" x1="1521.5" y1="1402.6" x2="1540" y2="1419.7"><stop offset="0" stop-color="#000087"/><stop offset="1" stop-color="#000085"/></linearGradient>
<linearGradient id="g370" gradientUnits="userSpaceOnUse" x1="1540" y1="1419.7" x2="1559.5" y2="1430.4"><stop offset="0" stop-color="#000085"/><stop offset="1" stop-color="#000083"/></linearGradient>
<linearGradient id="g371" gradientUnits="userSpaceOnUse" x1="1559.5" y1="1430.4" x2="1590" y2="1434.3"><stop offset="0" stop-color="#000083"/><stop offset="1" stop-color="#000080"/></linearGradient>
<linearGradient id="g372" gradientUnits="userSpaceOnUse" x1="1006.7" y1="1464" x2="1013" y2="1475.1"><stop offset="0" stop-color="#000090"/><stop offset="1" stop-color="#0000a1"/></linearGradient>
<linearGradient id="g373" gradientUnits="userSpaceOnUse" x1="1013" y1="1475.1" x2="1021.2" y2="1485.1"><stop offset="0" stop-color="#0000a1"/><stop offset="1" stop-color="#0000b2"/></linearGradient>
<linearGradient id="g374" gradientUnits="userSpaceOnUse" x1="1021.2" y1="1485.1" x2="1030" y2="1491.2"><stop offset="0" stop-color="#0000b2"/><stop offset="1" stop-color="#0000c0"/></linearGradient>
<linearGradient id="g375" gradientUnits="userSpaceOnUse" x1="1030" y1="1491.2" x2="1037" y2="1493.5"><stop offset="0" stop-color="#0000c0"/><stop offset="1" stop-color="#0000df"/></linearGradient>
<linearGradient id="g376" gradientUnits="userSpaceOnUse" x1="1037" y1="1493.5" x2="1044.8" y2="1494"><stop offset="0" stop-color="#0000df"/><stop offset="1" stop-color="#0000ff"/></linearGradient>
<linearGradient id="g377" gradientUnits="userSpaceOnUse" x1="1044.8" y1="1494" x2="1052" y2="1492.9"><stop offset="0" stop-color="#0000ff"/><stop offset="1" stop-color="#0018ff"/></linearGradient>
<linearGradient id="g378" gradientUnits="userSpaceOnUse" x1="1052" y1="1492.9" x2="1059" y2="1490.5"><stop offset="0" stop-color="#0018ff"/><stop offset="1" stop-color="#0030ff"/></linearGradient>
<linearGradient id="g379" gradientUnits="userSpaceOnUse" x1="1059" y1="1490.5" x2="1080" y2="1477.3"><stop offset="0" stop-color="#0030ff"/><stop offset="1" stop-color="#0050ff"/></linearGradient>
<linearGradient id="g380" gradientUnits="userSpaceOnUse" x1="1080" y1="1477.3" x2="1130.5" y2="1439.3"><stop offset="0" stop-color="#0050ff"/><stop offset="1" stop-color="#0068ff"/></linearGradient>
<linearGradient id="g381" gradientUnits="userSpaceOnUse" x1="1178" y1="1425.2" x2="1180.5" y2="1425"><stop offset="0" stop-color="#0068ff"/><stop offset="1" stop-color="#0040ff"/></linearGradient>
<linearGradient id="g382" gradientUnits="userSpaceOnUse" x1="1233" y1="1425.5" x2="1234.6" y2="1426.6"><stop offset="0" stop-color="#0040ff"/><stop offset="1" stop-color="#0021ff"/></linearGradient>
<linearGradient id="g383" gradientUnits="userSpaceOnUse" x1="1234.6" y1="1426.6" x2="1236" y2="1428"><stop offset="0" stop-color="#0021ff"/><stop offset="1" stop-color="#0000ff"/></linearGradient>
<linearGradient id="g384" gradientUnits="userSpaceOnUse" x1="1240" y1="1438.4" x2="1242" y2="1445.7"><stop offset="0" stop-color="#0000ff"/><stop offset="1" stop-color="#0040ff"/></linearGradient>
<linearGradient id="g385" gradientUnits="userSpaceOnUse" x1="1258" y1="1491.3" x2="1260" y2="1496"><stop offset="0" stop-color="#0040ff"/><stop offset="1" stop-color="#0000f0"/></linearGradient>
<linearGradient id="g386" gradientUnits="userSpaceOnUse" x1="1264" y1="1505.4" x2="1266" y2="1510.1"><stop offset="0" stop-color="#0000f0"/><stop offset="1" stop-color="#0030ff"/></linearGradient>
<linearGradient id="g387" gradientUnits="userSpaceOnUse" x1="1266" y1="1510.1" x2="1277.1" y2="1533.3"><stop offset="0" stop-color="#0030ff"/><stop offset="1" stop-color="#0020ff"/></linearGradient>
<linearGradient id="g388" gradientUnits="userSpaceOnUse" x1="1277.1" y1="1533.3" x2="1280.4" y2="1538.4"><stop offset="0" stop-color="#0020ff"/><stop offset="1" stop-color="#0010ef"/></linearGradient>
<linearGradient id="g389" gradientUnits="userSpaceOnUse" x1="1280.4" y1="1538.4" x2="1284.3" y2="1542.9"><stop offset="0" stop-color="#0010ef"/><stop offset="1" stop-color="#0000e0"/></linearGradient>
<linearGradient id="g390" gradientUnits="userSpaceOnUse" x1="1284.3" y1="1542.9" x2="1287.9" y2="1545.5"><stop offset="0" stop-color="#0000e0"/><stop offset="1" stop-color="#0000c7"/></linearGradient>
<linearGradient id="g391" gradientUnits="userSpaceOnUse" x1="1287.9" y1="1545.5" x2="1291.8" y2="1547"><stop offset="0" stop-color="#0000c7"/><stop offset="1" stop-color="#0000b0"/></linearGradient>
<linearGradient id="g392" gradientUnits="userSpaceOnUse" x1="1291.8" y1="1547" x2="1296.4" y2="1546.1"><stop offset="0" stop-color="#0000b0"/><stop offset="1" stop-color="#0000a1"/></linearGradient>
<linearGradient id="g393" gradientUnits="userSpaceOnUse" x1="1296.4" y1="1546.1" x2="1301" y2="1544"><stop offset="0" stop-color="#0000a1"/><stop offset="1" stop-color="#000090"/></linearGradient>
<linearGradient id="g394" gradientUnits="userSpaceOnUse" x1="1380" y1="1453.7" x2="1420" y2="1399.2"><stop offset="0" stop-color="#000090"/><stop offset="1" stop-color="#0000a0"/></linearGradient>
<linearGradient id="g395" gradientUnits="userSpaceOnUse" x1="1420" y1="1399.2" x2="1433.8" y2="1380.8"><stop offset="0" stop-color="#0000a0"/><stop offset="1" stop-color="#00009d"/></linearGradient>
<linearGradient id="g396" gradientUnits="userSpaceOnUse" x1="1433.8" y1="1380.8" x2="1447.7" y2="1366.8"><stop offset="0" stop-color="#00009d"/><stop offset="1" stop-color="#00009b"/></linearGradient>
<linearGradient id="g397" gradientUnits="userSpaceOnUse" x1="1447.7" y1="1366.8" x2="1459.8" y2="1359"><stop offset="0" stop-color="#00009b"/><stop offset="1" stop-color="#000099"/></linearGradient>
<linearGradient id="g398" gradientUnits="userSpaceOnUse" x1="1459.8" y1="1359" x2="1470" y2="1356.3"><stop offset="0" stop-color="#000099"/><stop offset="1" stop-color="#000098"/></linearGradient>
<linearGradient id="g399" gradientUnits="userSpaceOnUse" x1="1470" y1="1356.3" x2="1481.8" y2="1360.5"><stop offset="0" stop-color="#000098"/><stop offset="1" stop-color="#000096"/></linearGradient>
<linearGradient id="g400" gradientUnits="userSpaceOnUse" x1="1481.8" y1="1360.5" x2="1494.3" y2="1370.5"><stop offset="0" stop-color="#000096"/><stop offset="1" stop-color="#000093"/></linearGradient>
<linearGradient id="g401" gradientUnits="userSpaceOnUse" x1="1494.3" y1="1370.5" x2="1510.8" y2="1390.6"><stop offset="0" stop-color="#000093"/><stop offset="1" stop-color="#00008f"/></linearGradient>
<linearGradient id="g402" gradientUnits="userSpaceOnUse" x1="1510.8" y1="1390.6" x2="1527.3" y2="1409.3"><stop offset="0" stop-color="#00008f"/><stop offset="1" stop-color="#00008b"/></linearGradient>
<linearGradient id="g403" gradientUnits="userSpaceOnUse" x1="1527.3" y1="1409.3" x2="1543.9" y2="1422.7"><stop offset="0" stop-color="#00008b"/><stop offset="1" stop-color="#000088"/></linearGradient>
<linearGradient id="g404" gradientUnits="userSpaceOnUse" x1="1543.9" y1="1422.7" x2="1561.9" y2="1431.3"><stop offset="0" stop-color="#000088"/><stop offset="1" stop-color="#000085"/></linearGradient>
<linearGradient id="g405" gradientUnits="userSpaceOnUse" x1="1561.9" y1="1431.3" x2="1590" y2="1434.3"><stop offset="0" stop-color="#000085"/><stop offset="1" stop-color="#000080"/></linearGradient>
<linearGradient id="g406" gradientUnits="userSpaceOnUse" x1="1006.7" y1="1629.7" x2="1012" y2="1630.5"><stop offset="0" stop-color="#88ff70"/><stop offset="1" stop-color="#80ff78"/></linearGradient>
<linearGradient id="g407" gradientUnits="userSpaceOnUse" x1="1012" y1="1630.5" x2="1017.3" y2="1632.4"><stop offset="0" stop-color="#80ff78"/><stop offset="1" stop-color="#68ff90"/></linearGradient>
<linearGradient id="g408" gradientUnits="userSpaceOnUse" x1="1017.3" y1="1632.4" x2="1022" y2="1635.3"><stop offset="0" stop-color="#68ff90"/><stop offset="1" stop-color="#50ffa8"/></linearGradient>
<linearGradient id="g409" gradientUnits="userSpaceOnUse" x1="1022" y1="1635.3" x2="1030" y2="1642.5"><stop offset="0" stop-color="#50ffa8"/><stop offset="1" stop-color="#30ffd0"/></linearGradient>
<linearGradient id="g410" gradientUnits="userSpaceOnUse" x1="1030" y1="1642.5" x2="1040" y2="1655.9"><stop offset="0" stop-color="#30ffd0"/><stop offset="1" stop-color="#10f0e8"/></linearGradient>
<linearGradient id="g411" gradientUnits="userSpaceOnUse" x1="1040" y1="1655.9" x2="1048" y2="1670.1"><stop offset="0" stop-color="#10f0e8"/><stop offset="1" stop-color="#00e0ff"/></linearGradient>
<linearGradient id="g412" gradientUnits="userSpaceOnUse" x1="1048" y1="1670.1" x2="1056" y2="1686"><stop offset="0" stop-color="#00e0ff"/><stop offset="1" stop-color="#00c8ff"/></linearGradient>
<linearGradient id="g413" gradientUnits="userSpaceOnUse" x1="1056" y1="1686" x2="1066" y2="1705.9"><stop offset="0" stop-color="#00c8ff"/><stop offset="1" stop-color="#00b0ff"/></linearGradient>
<linearGradient id="g414" gradientUnits="userSpaceOnUse" x1="1066" y1="1705.9" x2="1076" y2="1726.2"><stop offset="0" stop-color="#00b0ff"/><stop offset="1" stop-color="#0098ff"/></linearGradient>
<linearGradient id="g415" gradientUnits="userSpaceOnUse" x1="1076" y1="1726.2" x2="1085.7" y2="1743.7"><stop offset="0" stop-color="#0098ff"/><stop offset="1" stop-color="#0080ff"/></linearGradient>
<linearGradient id="g416" gradientUnits="userSpaceOnUse" x1="1085.7" y1="1743.7" x2="1094.3" y2="1755.7"><stop offset="0" stop-color="#0080ff"/><stop offset="1" stop-color="#0060ff"/></linearGradient>
<linearGradient id="g417" gradientUnits="userSpaceOnUse" x1="1094.3" y1="1755.7" x2="1101.1" y2="1761.7"><stop offset="0" stop-color="#0060ff"/><stop offset="1" stop-color="#0030ff"/></linearGradient>
<linearGradient id="g418" gradientUnits="userSpaceOnUse" x1="1101.1" y1="1761.7" x2="1104.9" y2="1763.5"><stop offset="0" stop-color="#0030ff"/><stop offset="1" stop-color="#0017ff"/></linearGradient>
<linearGradient id="g419" gradientUnits="userSpaceOnUse" x1="1104.9" y1="1763.5" x2="1108.9" y2="1764.2"><stop offset="0" stop-color="#0017ff"/><stop offset="1" stop-color="#0000ff"/></linearGradient>
<linearGradient id="g420" gradientUnits="userSpaceOnUse" x1="1108.9" y1="1764.2" x2="1112" y2="1763.3"><stop offset="0" stop-color="#0000ff"/><stop offset="1" stop-color="#0000fd"/></linearGradient>
<linearGradient id="g421" gradientUnits="userSpaceOnUse" x1="1112" y1="1763.3" x2="1115" y2="1761.5"><stop offset="0" stop-color="#0000fd"/><stop offset="1" stop-color="#0000fb"/></linearGradient>
<linearGradient id="g422" gradientUnits="userSpaceOnUse" x1="1115" y1="1761.5" x2="1118" y2="1758.7"><stop offset="0" stop-color="#0000fb"/><stop offset="1" stop-color="#0000f8"/></linearGradient>
<linearGradient id="g423" gradientUnits="userSpaceOnUse" x1="1118" y1="1758.7" x2="1121.7" y2="1753.1"><stop offset="0" stop-color="#0000f8"/><stop offset="1" stop-color="#0000d0"/></linearGradient>
<linearGradient id="g424" gradientUnits="userSpaceOnUse" x1="1126" y1="1743.7" x2="1126.6" y2="1742.3"><stop offset="0" stop-color="#0000d0"/><stop offset="1" stop-color="#00b0ff"/></linearGradient>
<linearGradient id="g425" gradientUnits="userSpaceOnUse" x1="1128.6" y1="1737.4" x2="1128.9" y2="1736.7"><stop offset="0" stop-color="#00b0ff"/><stop offset="1" stop-color="#0000b0"/></linearGradient>
<linearGradient id="g426" gradientUnits="userSpaceOnUse" x1="1128.9" y1="1736.7" x2="1145" y2="1684.6"><stop offset="0" stop-color="#0000b0"/><stop offset="1" stop-color="#0000a0"/></linearGradient>
<linearGradient id="g427" gradientUnits="userSpaceOnUse" x1="1145" y1="1684.6" x2="1170" y2="1608.6"><stop offset="0" stop-color="#0000a0"/><stop offset="1" stop-color="#000098"/></linearGradient>
<linearGradient id="g428" gradientUnits="userSpaceOnUse" x1="1170" y1="1608.6" x2="1185" y2="1579"><stop offset="0" stop-color="#000098"/><stop offset="1" stop-color="#0000c8"/></linearGradient>
<linearGradient id="g429" gradientUnits="userSpaceOnUse" x1="1185" y1="1579" x2="1195" y2="1566.9"><stop offset="0" stop-color="#0000c8"/><stop offset="1" stop-color="#0000de"/></linearGradient>
<linearGradient id="g430" gradientUnits="userSpaceOnUse" x1="1195" y1="1566.9" x2="1205" y2="1559.1"><stop offset="0" stop-color="#0000de"/><stop offset="1" stop-color="#0000f0"/></linearGradient>
<linearGradient id="g431" gradientUnits="userSpaceOnUse" x1="1205" y1="1559.1" x2="1217.4" y2="1554.4"><stop offset="0" stop-color="#0000f0"/><stop offset="1" stop-color="#0000f4"/></linearGradient>
<linearGradient id="g432" gradientUnits="userSpaceOnUse" x1="1217.4" y1="1554.4" x2="1231.6" y2="1553.7"><stop offset="0" stop-color="#0000f4"/><stop offset="1" stop-color="#0000f8"/></linearGradient>
<linearGradient id="g433" gradientUnits="userSpaceOnUse" x1="1231.6" y1="1553.7" x2="1256.4" y2="1557.4"><stop offset="0" stop-color="#0000f8"/><stop offset="1" stop-color="#0000fb"/></linearGradient>
<linearGradient id="g434" gradientUnits="userSpaceOnUse" x1="1256.4" y1="1557.4" x2="1278" y2="1561.9"><stop offset="0" stop-color="#0000fb"/><stop offset="1" stop-color="#0000fd"/></linearGradient>
<linearGradient id="g435" gradientUnits="userSpaceOnUse" x1="1278" y1="1561.9" x2="1290" y2="1570.6"><stop offset="0" stop-color="#0000fd"/><stop offset="1" stop-color="#0000ff"/></linearGradient>
<linearGradient id="g436" gradientUnits="userSpaceOnUse" x1="1290" y1="1570.6" x2="1310" y2="1599.1"><stop offset="0" stop-color="#0000ff"/><stop offset="1" stop-color="#0010ff"/></linearGradient>
<linearGradient id="g437" gradientUnits="userSpaceOnUse" x1="1340" y1="1650.6" x2="1360" y2="1686.6"><stop offset="0" stop-color="#0010ff"/><stop offset="1" stop-color="#0000ff"/></linearGradient>
<linearGradient id="g438" gradientUnits="userSpaceOnUse" x1="1370.5" y1="1704" x2="1371.5" y2="1705.6"><stop offset="0" stop-color="#0000ff"/><stop offset="1" stop-color="#0090ff"/></linearGradient>
<linearGradient id="g439" gradientUnits="userSpaceOnUse" x1="1373.5" y1="1709" x2="1374.5" y2="1710.7"><stop offset="0" stop-color="#0090ff"/><stop offset="1" stop-color="#0000d0"/></linearGradient>
<linearGradient id="g440" gradientUnits="userSpaceOnUse" x1="1374.5" y1="1710.7" x2="1385" y2="1729.3"><stop offset="0" stop-color="#0000d0"/><stop offset="1" stop-color="#000098"/></linearGradient>
<linearGradient id="g441" gradientUnits="userSpaceOnUse" x1="1385" y1="1729.3" x2="1450" y2="1822.8"><stop offset="0" stop-color="#000098"/><stop offset="1" stop-color="#000090"/></linearGradient>
<linearGradient id="g442" gradientUnits="userSpaceOnUse" x1="1450" y1="1822.8" x2="1470" y2="1839.6"><stop offset="0" stop-color="#000090"/><stop offset="1" stop-color="#0000b0"/></linearGradient>
<linearGradient id="g443" gradientUnits="userSpaceOnUse" x1="1470" y1="1839.6" x2="1490" y2="1850.6"><stop offset="0" stop-color="#0000b0"/><stop offset="1" stop-color="#0000e0"/></linearGradient>
<linearGradient id="g444" gradientUnits="userSpaceOnUse" x1="1490" y1="1850.6" x2="1510" y2="1857.3"><stop offset="0" stop-color="#0000e0"/><stop offset="1" stop-color="#0020ff"/></linearGradient>
<linearGradient id="g445" gradientUnits="userSpaceOnUse" x1="1510" y1="1857.3" x2="1530" y2="1862.9"><stop offset="0" stop-color="#0020ff"/><stop offset="1" stop-color="#0050ff"/></linearGradient>
<linearGradient id="g446" gradientUnits="userSpaceOnUse" x1="1530" y1="1862.9" x2="1550" y2="1868.6"><stop offset="0" stop-color="#0050ff"/><stop offset="1" stop-color="#0080ff"/></linearGradient>
<linearGradient id="g447" gradientUnits="userSpaceOnUse" x1="1550" y1="1868.6" x2="1570" y2="1874.4"><stop offset="0" stop-color="#0080ff"/><stop offset="1" stop-color="#00a0ff"/></linearGradient>
<linearGradient id="g448" gradientUnits="userSpaceOnUse" x1="1570" y1="1874.4" x2="1590" y2="1877.5"><stop offset="0" stop-color="#00a0ff"/><stop offset="1" stop-color="#00a8ff"/></linearGradient>
<linearGradient id="g449" gradientUnits="userSpaceOnUse" x1="1040" y1="2041" x2="1050" y2="2026.8"><stop offset="0" stop-color="#00c0ff"/><stop offset="1" stop-color="#00b8ff"/></linearGradient>
<linearGradient id="g450" gradientUnits="userSpaceOnUse" x1="1050" y1="2026.8" x2="1062" y2="2008.6"><stop offset="0" stop-color="#00b8ff"/><stop offset="1" stop-color="#00a0ff"/></linearGradient>
<linearGradient id="g451" gradientUnits="userSpaceOnUse" x1="1062" y1="2008.6" x2="1075" y2="1987.1"><stop offset="0" stop-color="#00a0ff"/><stop offset="1" stop-color="#0080ff"/></linearGradient>
<linearGradient id="g452" gradientUnits="userSpaceOnUse" x1="1075" y1="1987.1" x2="1090" y2="1957.7"><stop offset="0" stop-color="#0080ff"/><stop offset="1" stop-color="#0060ff"/></linearGradient>
<linearGradient id="g453" gradientUnits="userSpaceOnUse" x1="1090" y1="1957.7" x2="1100" y2="1937.2"><stop offset="0" stop-color="#0060ff"/><stop offset="1" stop-color="#0040ff"/></linearGradient>
<linearGradient id="g454" gradientUnits="userSpaceOnUse" x1="1100" y1="1937.2" x2="1110" y2="1915.1"><stop offset="0" stop-color="#0040ff"/><stop offset="1" stop-color="#0020ff"/></linearGradient>
<linearGradient id="g455" gradientUnits="userSpaceOnUse" x1="1110" y1="1915.1" x2="1125" y2="1879.7"><stop offset="0" stop-color="#0020ff"/><stop offset="1" stop-color="#0000ff"/></linearGradient>
<linearGradient id="g456" gradientUnits="userSpaceOnUse" x1="1160.5" y1="1785.9" x2="1161.5" y2="1783.2"><stop offset="0" stop-color="#0000ff"/><stop offset="1" stop-color="#00c0ff"/></linearGradient>
<linearGradient id="g457" gradientUnits="userSpaceOnUse" x1="1166" y1="1771.2" x2="1167" y2="1768.6"><stop offset="0" stop-color="#00c0ff"/><stop offset="1" stop-color="#0000d0"/></linearGradient>
<linearGradient id="g458" gradientUnits="userSpaceOnUse" x1="1167" y1="1768.6" x2="1185" y2="1723.2"><stop offset="0" stop-color="#0000d0"/><stop offset="1" stop-color="#0000b8"/></linearGradient>
<linearGradient id="g459" gradientUnits="userSpaceOnUse" x1="1185" y1="1723.2" x2="1200" y2="1687.8"><stop offset="0" stop-color="#0000b8"/><stop offset="1" stop-color="#000098"/></linearGradient>
<linearGradient id="g460" gradientUnits="userSpaceOnUse" x1="1200" y1="1687.8" x2="1205.8" y2="1676.8"><stop offset="0" stop-color="#000098"/><stop offset="1" stop-color="#000092"/></linearGradient>
<linearGradient id="g461" gradientUnits="userSpaceOnUse" x1="1205.8" y1="1676.8" x2="1212.6" y2="1667.2"><stop offset="0" stop-color="#000092"/><stop offset="1" stop-color="#00008c"/></linearGradient>
<linearGradient id="g462" gradientUnits="userSpaceOnUse" x1="1212.6" y1="1667.2" x2="1221.2" y2="1659.6"><stop offset="0" stop-color="#00008c"/><stop offset="1" stop-color="#000086"/></linearGradient>
<linearGradient id="g463" gradientUnits="userSpaceOnUse" x1="1221.2" y1="1659.6" x2="1231.6" y2="1656"><stop offset="0" stop-color="#000086"/><stop offset="1" stop-color="#000080"/></linearGradient>
<linearGradient id="g464" gradientUnits="userSpaceOnUse" x1="1231.6" y1="1656" x2="1240.6" y2="1657.5"><stop offset="0" stop-color="#000080"/><stop offset="1" stop-color="#000083"/></linearGradient>
<linearGradient id="g465" gradientUnits="userSpaceOnUse" x1="1240.6" y1="1657.5" x2="1248.3" y2="1661.8"><stop offset="0" stop-color="#000083"/><stop offset="1" stop-color="#000085"/></linearGradient>
<linearGradient id="g466" gradientUnits="userSpaceOnUse" x1="1248.3" y1="1661.8" x2="1255" y2="1668.2"><stop offset="0" stop-color="#000085"/><stop offset="1" stop-color="#000088"/></linearGradient>
<linearGradient id="g467" gradientUnits="userSpaceOnUse" x1="1255" y1="1668.2" x2="1262" y2="1677.8"><stop offset="0" stop-color="#000088"/><stop offset="1" stop-color="#0000c0"/></linearGradient>
<linearGradient id="g468" gradientUnits="userSpaceOnUse" x1="1262" y1="1677.8" x2="1272.2" y2="1699.7"><stop offset="0" stop-color="#0000c0"/><stop offset="1" stop-color="#0000ff"/></linearGradient>
<linearGradient id="g469" gradientUnits="userSpaceOnUse" x1="1272.2" y1="1699.7" x2="1280" y2="1723.3"><stop offset="0" stop-color="#0000ff"/><stop offset="1" stop-color="#0030ff"/></linearGradient>
<linearGradient id="g470" gradientUnits="userSpaceOnUse" x1="1280" y1="1723.3" x2="1288" y2="1751.7"><stop offset="0" stop-color="#0030ff"/><stop offset="1" stop-color="#0060ff"/></linearGradient>
<linearGradient id="g471" gradientUnits="userSpaceOnUse" x1="1288" y1="1751.7" x2="1295" y2="1774.9"><stop offset="0" stop-color="#0060ff"/><stop offset="1" stop-color="#0070ff"/></linearGradient>
<linearGradient id="g472" gradientUnits="userSpaceOnUse" x1="1295" y1="1774.9" x2="1296" y2="1778.2"><stop offset="0" stop-color="#0070ff"/><stop offset="1" stop-color="#20f0d8"/></linearGradient>
<linearGradient id="g473" gradientUnits="userSpaceOnUse" x1="1298.5" y1="1787" x2="1299.3" y2="1790"><stop offset="0" stop-color="#20f0d8"/><stop offset="1" stop-color="#0098ff"/></linearGradient>
<linearGradient id="g474" gradientUnits="userSpaceOnUse" x1="1299.3" y1="1790" x2="1307" y2="1822.2"><stop offset="0" stop-color="#0098ff"/><stop offset="1" stop-color="#00b8ff"/></linearGradient>
<linearGradient id="g475" gradientUnits="userSpaceOnUse" x1="1307" y1="1822.2" x2="1312" y2="1843.4"><stop offset="0" stop-color="#00b8ff"/><stop offset="1" stop-color="#00d8ff"/></linearGradient>
<linearGradient id="g476" gradientUnits="userSpaceOnUse" x1="1312" y1="1843.4" x2="1317.7" y2="1864.2"><stop offset="0" stop-color="#00d8ff"/><stop offset="1" stop-color="#10f0e8"/></linearGradient>
<linearGradient id="g477" gradientUnits="userSpaceOnUse" x1="1317.7" y1="1864.2" x2="1324.2" y2="1885.9"><stop offset="0" stop-color="#10f0e8"/><stop offset="1" stop-color="#30ffd0"/></linearGradient>
<linearGradient id="g478" gradientUnits="userSpaceOnUse" x1="1324.2" y1="1885.9" x2="1330.7" y2="1905.5"><stop offset="0" stop-color="#30ffd0"/><stop offset="1" stop-color="#50ffa8"/></linearGradient>
<linearGradient id="g479" gradientUnits="userSpaceOnUse" x1="1330.7" y1="1905.5" x2="1338" y2="1924.6"><stop offset="0" stop-color="#50ffa8"/><stop offset="1" stop-color="#70ff88"/></linearGradient>
<linearGradient id="g480" gradientUnits="userSpaceOnUse" x1="1338" y1="1924.6" x2="1345" y2="1940.7"><stop offset="0" stop-color="#70ff88"/><stop offset="1" stop-color="#88ff70"/></linearGradient>
<linearGradient id="g481" gradientUnits="userSpaceOnUse" x1="1360" y1="1965.4" x2="1368" y2="1974.4"><stop offset="0" stop-color="#88ff70"/><stop offset="1" stop-color="#70ff88"/></linearGradient>
<linearGradient id="g482" gradientUnits="userSpaceOnUse" x1="1368" y1="1974.4" x2="1378" y2="1983"><stop offset="0" stop-color="#70ff88"/><stop offset="1" stop-color="#30ffd0"/></linearGradient>
<linearGradient id="g483" gradientUnits="userSpaceOnUse" x1="1378" y1="1983" x2="1388" y2="1988.8"><stop offset="0" stop-color="#30ffd0"/><stop offset="1" stop-color="#10e8f0"/></linearGradient>
<linearGradient id="g484" gradientUnits="userSpaceOnUse" x1="1388" y1="1988.8" x2="1400" y2="1993.4"><stop offset="0" stop-color="#10e8f0"/><stop offset="1" stop-color="#00d8ff"/></linearGradient>
<linearGradient id="g485" gradientUnits="userSpaceOnUse" x1="1400" y1="1993.4" x2="1420" y2="1998"><stop offset="0" stop-color="#00d8ff"/><stop offset="1" stop-color="#10f0e8"/></linearGradient>
<linearGradient id="g486" gradientUnits="userSpaceOnUse" x1="1420" y1="1998" x2="1440" y2="2003.1"><stop offset="0" stop-color="#10f0e8"/><stop offset="1" stop-color="#30ffd0"/></linearGradient>
<linearGradient id="g487" gradientUnits="userSpaceOnUse" x1="1440" y1="2003.1" x2="1460" y2="2012.4"><stop offset="0" stop-color="#30ffd0"/><stop offset="1" stop-color="#40ffc0"/></linearGradient>
<linearGradient id="g488" gradientUnits="userSpaceOnUse" x1="1096" y1="2041" x2="1101" y2="2010.8"><stop offset="0" stop-color="#0010ff"/><stop offset="1" stop-color="#0020ff"/></linearGradient>
<linearGradient id="g489" gradientUnits="userSpaceOnUse" x1="1101" y1="2010.8" x2="1104" y2="1995.2"><stop offset="0" stop-color="#0020ff"/><stop offset="1" stop-color="#0050ff"/></linearGradient>
<linearGradient id="g490" gradientUnits="userSpaceOnUse" x1="1104" y1="1995.2" x2="1110" y2="1967.4"><stop offset="0" stop-color="#0050ff"/><stop offset="1" stop-color="#0080ff"/></linearGradient>
<linearGradient id="g491" gradientUnits="userSpaceOnUse" x1="1110" y1="1967.4" x2="1116" y2="1945.7"><stop offset="0" stop-color="#0080ff"/><stop offset="1" stop-color="#00a0ff"/></linearGradient>
<linearGradient id="g492" gradientUnits="userSpaceOnUse" x1="1116" y1="1945.7" x2="1118.8" y2="1938.8"><stop offset="0" stop-color="#00a0ff"/><stop offset="1" stop-color="#00baff"/></linearGradient>
<linearGradient id="g493" gradientUnits="userSpaceOnUse" x1="1118.8" y1="1938.8" x2="1122" y2="1933.1"><stop offset="0" stop-color="#00baff"/><stop offset="1" stop-color="#00d0ff"/></linearGradient>
<linearGradient id="g494" gradientUnits="userSpaceOnUse" x1="1122" y1="1933.1" x2="1124.3" y2="1930.3"><stop offset="0" stop-color="#00d0ff"/><stop offset="1" stop-color="#04d8fb"/></linearGradient>
<linearGradient id="g495" gradientUnits="userSpaceOnUse" x1="1124.3" y1="1930.3" x2="1127.1" y2="1928"><stop offset="0" stop-color="#04d8fb"/><stop offset="1" stop-color="#08e0f8"/></linearGradient>
<linearGradient id="g496" gradientUnits="userSpaceOnUse" x1="1127.1" y1="1928" x2="1130.5" y2="1926.5"><stop offset="0" stop-color="#08e0f8"/><stop offset="1" stop-color="#0ce8f4"/></linearGradient>
<linearGradient id="g497" gradientUnits="userSpaceOnUse" x1="1130.5" y1="1926.5" x2="1134" y2="1926"><stop offset="0" stop-color="#0ce8f4"/><stop offset="1" stop-color="#10f0f0"/></linearGradient>
<linearGradient id="g498" gradientUnits="userSpaceOnUse" x1="1134" y1="1926" x2="1137.4" y2="1927"><stop offset="0" stop-color="#10f0f0"/><stop offset="1" stop-color="#15f4eb"/></linearGradient>
<linearGradient id="g499" gradientUnits="userSpaceOnUse" x1="1137.4" y1="1927" x2="1140.7" y2="1928.8"><stop offset="0" stop-color="#15f4eb"/><stop offset="1" stop-color="#19f9e7"/></linearGradient>
<linearGradient id="g500" gradientUnits="userSpaceOnUse" x1="1140.7" y1="1928.8" x2="1145" y2="1932.1"><stop offset="0" stop-color="#19f9e7"/><stop offset="1" stop-color="#20ffe0"/></linearGradient>
<linearGradient id="g501" gradientUnits="userSpaceOnUse" x1="1175" y1="1968.5" x2="1190" y2="1988.3"><stop offset="0" stop-color="#20ffe0"/><stop offset="1" stop-color="#10f0f0"/></linearGradient>
<linearGradient id="g502" gradientUnits="userSpaceOnUse" x1="1190" y1="1988.3" x2="1205" y2="2004.7"><stop offset="0" stop-color="#10f0f0"/><stop offset="1" stop-color="#00d8ff"/></linearGradient>
<linearGradient id="g503" gradientUnits="userSpaceOnUse" x1="1205" y1="2004.7" x2="1213.8" y2="2010.9"><stop offset="0" stop-color="#00d8ff"/><stop offset="1" stop-color="#00ccff"/></linearGradient>
<linearGradient id="g504" gradientUnits="userSpaceOnUse" x1="1213.8" y1="2010.9" x2="1222.7" y2="2014.7"><stop offset="0" stop-color="#00ccff"/><stop offset="1" stop-color="#00c2ff"/></linearGradient>
<linearGradient id="g505" gradientUnits="userSpaceOnUse" x1="1222.7" y1="2014.7" x2="1231.2" y2="2016.3"><stop offset="0" stop-color="#00c2ff"/><stop offset="1" stop-color="#00b8ff"/></linearGradient>
<linearGradient id="g506" gradientUnits="userSpaceOnUse" x1="1231.2" y1="2016.3" x2="1243.9" y2="2013"><stop offset="0" stop-color="#00b8ff"/><stop offset="1" stop-color="#00b1ff"/></linearGradient>
<linearGradient id="g507" gradientUnits="userSpaceOnUse" x1="1243.9" y1="2013" x2="1259.1" y2="2005"><stop offset="0" stop-color="#00b1ff"/><stop offset="1" stop-color="#00a8ff"/></linearGradient>
<linearGradient id="g508" gradientUnits="userSpaceOnUse" x1="1259.1" y1="2005" x2="1289.5" y2="1991.3"><stop offset="0" stop-color="#00a8ff"/><stop offset="1" stop-color="#0090ff"/></linearGradient>
<linearGradient id="g509" gradientUnits="userSpaceOnUse" x1="1289.5" y1="1991.3" x2="1319.9" y2="1988"><stop offset="0" stop-color="#0090ff"/><stop offset="1" stop-color="#0088ff"/></linearGradient>
<linearGradient id="g510" gradientUnits="userSpaceOnUse" x1="1319.9" y1="1988" x2="1340" y2="1990.9"><stop offset="0" stop-color="#0088ff"/><stop offset="1" stop-color="#0080ff"/></linearGradient>
<linearGradient id="g511" gradientUnits="userSpaceOnUse" x1="1340" y1="1990.9" x2="1352" y2="1995.2"><stop offset="0" stop-color="#0080ff"/><stop offset="1" stop-color="#00a0ff"/></linearGradient>
<linearGradient id="g512" gradientUnits="userSpaceOnUse" x1="1352" y1="1995.2" x2="1362" y2="2000.3"><stop offset="0" stop-color="#00a0ff"/><stop offset="1" stop-color="#00d0ff"/></linearGradient>
<linearGradient id="g513" gradientUnits="userSpaceOnUse" x1="1362" y1="2000.3" x2="1372" y2="2006.6"><stop offset="0" stop-color="#00d0ff"/><stop offset="1" stop-color="#30ffd0"/></linearGradient>
<linearGradient id="g514" gradientUnits="userSpaceOnUse" x1="1372" y1="2006.6" x2="1385" y2="2016.1"><stop offset="0" stop-color="#30ffd0"/><stop offset="1" stop-color="#70ff88"/></linearGradient>
<linearGradient id="g515" gradientUnits="userSpaceOnUse" x1="1385" y1="2016.1" x2="1395" y2="2024"><stop offset="0" stop-color="#70ff88"/><stop offset="1" stop-color="#90ff68"/></linearGradient>
<linearGradient id="g516" gradientUnits="userSpaceOnUse" x1="283.5" y1="20" x2="298.3" y2="89.7"><stop offset="0" stop-color="#0000f8"/><stop offset="1" stop-color="#0000fa"/></linearGradient>
<linearGradient id="g517" gradientUnits="userSpaceOnUse" x1="298.3" y1="89.7" x2="316.5" y2="140.6"><stop offset="0" stop-color="#0000fa"/><stop offset="1" stop-color="#0000fc"/></linearGradient>
<linearGradient id="g518" gradientUnits="userSpaceOnUse" x1="316.5" y1="140.6" x2="331.3" y2="174.9"><stop offset="0" stop-color="#0000fc"/><stop offset="1" stop-color="#0000fe"/></linearGradient>
<linearGradient id="g519" gradientUnits="userSpaceOnUse" x1="331.3" y1="174.9" x2="345.3" y2="195.4"><stop offset="0" stop-color="#0000fe"/><stop offset="1" stop-color="#0000ff"/></linearGradient>
<linearGradient id="g520" gradientUnits="userSpaceOnUse" x1="357.3" y1="199.4" x2="365.9" y2="197.3"><stop offset="0" stop-color="#0000ff"/><stop offset="1" stop-color="#0002ff"/></linearGradient>
<linearGradient id="g521" gradientUnits="userSpaceOnUse" x1="365.9" y1="197.3" x2="375.3" y2="190.2"><stop offset="0" stop-color="#0002ff"/><stop offset="1" stop-color="#0005ff"/></linearGradient>
<linearGradient id="g522" gradientUnits="userSpaceOnUse" x1="375.3" y1="190.2" x2="388.3" y2="172.5"><stop offset="0" stop-color="#0005ff"/><stop offset="1" stop-color="#000aff"/></linearGradient>
<linearGradient id="g523" gradientUnits="userSpaceOnUse" x1="388.3" y1="172.5" x2="400" y2="153.3"><stop offset="0" stop-color="#000aff"/><stop offset="1" stop-color="#0010ff"/></linearGradient>
<linearGradient id="g524" gradientUnits="userSpaceOnUse" x1="400" y1="153.3" x2="450.4" y2="50.8"><stop offset="0" stop-color="#0010ff"/><stop offset="1" stop-color="#0030ff"/></linearGradient>
<linearGradient id="g525" gradientUnits="userSpaceOnUse" x1="229" y1="1418" x2="290" y2="1673"><stop offset="0" stop-color="#0040ff"/><stop offset="1" stop-color="#0038ff"/></linearGradient>
<linearGradient id="g526" gradientUnits="userSpaceOnUse" x1="290" y1="1673" x2="292.5" y2="1684.7"><stop offset="0" stop-color="#0038ff"/><stop offset="1" stop-color="#0000ff"/></linearGradient>
<linearGradient id="g527" gradientUnits="userSpaceOnUse" x1="311.4" y1="1777.1" x2="312" y2="1779.5"><stop offset="0" stop-color="#0000ff"/><stop offset="1" stop-color="#00b0ff"/></linearGradient>
<linearGradient id="g528" gradientUnits="userSpaceOnUse" x1="314.9" y1="1790" x2="315.5" y2="1792.6"><stop offset="0" stop-color="#00b0ff"/><stop offset="1" stop-color="#0000d0"/></linearGradient>
<linearGradient id="g529" gradientUnits="userSpaceOnUse" x1="315.5" y1="1792.6" x2="335" y2="1877.5"><stop offset="0" stop-color="#0000d0"/><stop offset="1" stop-color="#0000a8"/></linearGradient>
<linearGradient id="g530" gradientUnits="userSpaceOnUse" x1="335" y1="1877.5" x2="355" y2="1933.4"><stop offset="0" stop-color="#0000a8"/><stop offset="1" stop-color="#0000a0"/></linearGradient>
<linearGradient id="g531" gradientUnits="userSpaceOnUse" x1="355" y1="1933.4" x2="372" y2="1962.7"><stop offset="0" stop-color="#0000a0"/><stop offset="1" stop-color="#0000d8"/></linearGradient>
<linearGradient id="g532" gradientUnits="userSpaceOnUse" x1="372" y1="1962.7" x2="381.1" y2="1972.4"><stop offset="0" stop-color="#0000d8"/><stop offset="1" stop-color="#000ded"/></linearGradient>
<linearGradient id="g533" gradientUnits="userSpaceOnUse" x1="381.1" y1="1972.4" x2="390" y2="1979.2"><stop offset="0" stop-color="#000ded"/><stop offset="1" stop-color="#0018ff"/></linearGradient>
<linearGradient id="g534" gradientUnits="userSpaceOnUse" x1="390" y1="1979.2" x2="399.1" y2="1983.2"><stop offset="0" stop-color="#0018ff"/><stop offset="1" stop-color="#002bff"/></linearGradient>
<linearGradient id="g535" gradientUnits="userSpaceOnUse" x1="399.1" y1="1983.2" x2="410" y2="1985.9"><stop offset="0" stop-color="#002bff"/><stop offset="1" stop-color="#0040ff"/></linearGradient>
<linearGradient id="g536" gradientUnits="userSpaceOnUse" x1="477.1" y1="1986" x2="479" y2="1986"><stop offset="0" stop-color="#0040ff"/><stop offset="1" stop-color="#00e0ff"/></linearGradient>
<linearGradient id="g537" gradientUnits="userSpaceOnUse" x1="481" y1="1986" x2="482" y2="1986.1"><stop offset="0" stop-color="#00e0ff"/><stop offset="1" stop-color="#0038ff"/></linearGradient>
<linearGradient id="g538" gradientUnits="userSpaceOnUse" x1="482" y1="1986.1" x2="507.7" y2="1986.5"><stop offset="0" stop-color="#0038ff"/><stop offset="1" stop-color="#0030ff"/></linearGradient>
<linearGradient id="cb" gradientUnits="userSpaceOnUse" x1="0" y1="2027.8" x2="0" y2="49"><stop offset="0.000" stop-color="#000080"/><stop offset="0.020" stop-color="#000097"/><stop offset="0.040" stop-color="#0000ae"/><stop offset="0.060" stop-color="#0000c5"/><stop offset="0.080" stop-color="#0000dc"/><stop offset="0.100" stop-color="#0000f3"/><stop offset="0.120" stop-color="#0000ff"/><stop offset="0.140" stop-color="#000fff"/><stop offset="0.160" stop-color="#0024ff"/><stop offset="0.180" stop-color="#0038ff"/><stop offset="0.200" stop-color="#004dff"/><stop offset="0.220" stop-color="#0061ff"/><stop offset="0.240" stop-color="#0075ff"/><stop offset="0.260" stop-color="#008aff"/><stop offset="0.280" stop-color="#009eff"/><stop offset="0.300" stop-color="#00b2ff"/><stop offset="0.320" stop-color="#00c7ff"/><stop offset="0.340" stop-color="#00dbff"/><stop offset="0.360" stop-color="#08f0ef"/><stop offset="0.380" stop-color="#19ffde"/><stop offset="0.400" stop-color="#29ffce"/><stop offset="0.420" stop-color="#3affbd"/><stop offset="0.440" stop-color="#4affad"/><stop offset="0.460" stop-color="#5aff9c"/><stop offset="0.480" stop-color="#6bff8c"/><stop offset="0.500" stop-color="#7bff7b"/><stop offset="0.520" stop-color="#8cff6b"/><stop offset="0.540" stop-color="#9cff5a"/><stop offset="0.560" stop-color="#adff4a"/><stop offset="0.580" stop-color="#bdff3a"/><stop offset="0.600" stop-color="#ceff29"/><stop offset="0.620" stop-color="#deff19"/><stop offset="0.640" stop-color="#efff08"/><stop offset="0.660" stop-color="#ffec00"/><stop offset="0.680" stop-color="#ffd900"/><stop offset="0.700" stop-color="#ffc600"/><stop offset="0.720" stop-color="#ffb300"/><stop offset="0.740" stop-color="#ffa100"/><stop offset="0.760" stop-color="#ff8e00"/><stop offset="0.780" stop-color="#ff7b00"/><stop offset="0.800" stop-color="#ff6800"/><stop offset="0.820" stop-color="#ff5500"/><stop offset="0.840" stop-color="#ff4200"/><stop offset="0.860" stop-color="#ff2f00"/><stop offset="0.880" stop-color="#ff1c00"/><stop offset="0.900" stop-color="#f30900"/><stop offset="0.920" stop-color="#dc0000"/><stop offset="0.940" stop-color="#c50000"/><stop offset="0.960" stop-color="#ae0000"/><stop offset="0.980" stop-color="#970000"/><stop offset="1.000" stop-color="#800000"/></linearGradient>
</defs>
<g clip-path="url(#cp)">
<path class="o" d="M274 20C276.8 29.7 279.6 39.3 282.4 49C290.7 77.7 298.5 106.5 306.9 135.2C313.9 159.1 320.6 183 328.3 206.7C336.1 230.7 344.3 254.5 353.3 278.1C359.4 294.1 365.3 310.2 372.4 325.7C379.9 342 387.8 358.2 397.4 373.3C402.6 381.5 407.8 389.7 414 397.1C421.4 405.9 429.4 414.8 439 421C444.9 424.8 451.4 428.2 458 430.5C465.6 433.2 473.9 434.3 482 435.2C490.5 436.1 499.9 438.8 507.6 435.7C510.6 434.5 513.7 432.6 516.2 430.5C519.9 427.4 522.4 422.7 525 418.6C529.3 411.9 532.2 404.4 535.5 397.1C539.4 388.5 542.9 379.7 546.5 371C550.5 361.5 554.4 352 558.2 342.4C562.2 332.5 566.2 322.6 570 312.6C574.1 301.9 578.1 291.2 582 280.5C586.1 269.4 590 258.2 594 247.1C598.1 235.6 602.2 224.1 606.2 212.6C610.5 200.3 614.6 188 618.7 175.7C622.9 163 627.2 150.3 631.3 137.6C635.6 124.1 639.8 110.6 644 97.1C648.2 83.6 652.9 70.3 656.7 56.7C657.4 54.1 658.1 51.6 658.8 49C661.5 39.3 664.4 29.6 667.5 20"/><circle cx="274" cy="20" r="5" fill="#0000a8"/><circle cx="667.5" cy="20" r="5" fill="#0000e8"/><path class="c" stroke="url(#g0)" d="M274 20C276.8 29.7 279.6 39.3 282.4 49C289.3 72.9 295.9 96.9 302.7 120.9"/><path class="c" stroke="url(#g1)" d="M302.7 120.9C304.1 125.6 305.5 130.4 306.9 135.2C313.9 159.1 320.6 183 328.3 206.7C333.5 222.7 338.9 238.6 344.6 254.4"/><path class="c" stroke="url(#g2)" d="M344.6 254.4C347.4 262.4 350.3 270.2 353.3 278.1C359.4 294.1 365.3 310.2 372.4 325.7C376.1 333.8 380 342 384.1 349.9"/><path class="c" stroke="url(#g3)" d="M384.1 349.9C388.2 357.9 392.6 365.7 397.4 373.3C402.6 381.5 407.8 389.7 414 397.1C416.5 400 419 403 421.6 405.8"/><path class="c" stroke="url(#g4)" d="M421.6 405.8C426.9 411.5 432.6 416.8 439 421C444.9 424.8 451.4 428.2 458 430.5C459.3 430.9 460.6 431.4 461.9 431.7"/><path class="c" stroke="url(#g5)" d="M461.9 431.7C468.4 433.6 475.3 434.5 482 435.2C490.5 436.1 499.9 438.8 507.6 435.7"/><path class="c" stroke="url(#g6)" d="M507.6 435.7C510.6 434.5 513.7 432.6 516.2 430.5C519.9 427.4 522.4 422.7 525 418.6C528.5 413 531.2 406.9 533.8 400.8"/><path class="c" stroke="url(#g7)" d="M533.8 400.8C534.4 399.6 534.9 398.3 535.5 397.1C539.4 388.5 542.9 379.7 546.5 371C550.5 361.5 554.4 352 558.2 342.4C560.8 335.9 563.5 329.3 566 322.8"/><path class="c" stroke="url(#g8)" d="M566 322.8C567.4 319.4 568.7 316 570 312.6C574.1 301.9 578.1 291.2 582 280.5C586.1 269.4 590 258.2 594 247.1C596 241.5 598 235.9 600 230.3"/><path class="c" stroke="url(#g9)" d="M600 230.3C602.1 224.4 604.2 218.5 606.2 212.6C610.5 200.3 614.6 188 618.7 175.7C622.9 163 627.2 150.3 631.3 137.6C632.5 133.7 633.8 129.8 635 126"/><path class="c" stroke="url(#g10)" d="M635 126C638 116.3 641 106.7 644 97.1C645.9 90.9 648 84.7 650 78.5"/><path class="c" stroke="url(#g11)" d="M650 78.5C652.4 71.3 654.7 64 656.7 56.7C657.4 54.1 658.1 51.6 658.8 49C661.5 39.3 664.4 29.6 667.5 20"/>
<path class="o" d="M229 439.5C230.3 439.5 231.7 439.5 233 439.5C240.6 439.4 248.3 439.6 255.7 438.1C261.2 437 266.7 434.9 272 433C277 431.2 281.7 428.8 286.7 426.9C293.7 424.2 300.8 421.4 308.1 419.8C314.7 418.4 321.6 417.3 328.3 417.4C335.9 417.5 343.6 419 351 421C359.2 423.2 366.7 427.9 374.8 430.5C382.6 433 390.6 435.2 398.6 436.4C410.3 438.1 422.4 436.6 434.3 436.4C446.2 436.2 458.1 435.3 470 435.2C482.5 435.1 495.1 435.2 507.6 435.7"/><circle cx="229" cy="439.5" r="5" fill="#0000d8"/><circle cx="507.6" cy="435.7" r="5" fill="#0000a8"/><path class="c" stroke="url(#g12)" d="M229 439.5C230.3 439.5 231.7 439.5 233 439.5C239.1 439.4 245.4 439.5 251.4 438.8"/><path class="c" stroke="url(#g13)" d="M251.4 438.8C252.9 438.6 254.3 438.4 255.7 438.1C261.2 437 266.7 434.9 272 433C275.1 431.9 278.1 430.5 281.1 429.2"/><path class="c" stroke="url(#g14)" d="M281.1 429.2C282.9 428.4 284.8 427.6 286.7 426.9C293.7 424.2 300.8 421.4 308.1 419.8C310.9 419.2 313.7 418.7 316.6 418.2"/><path class="c" stroke="url(#g15)" d="M316.6 418.2C320.5 417.7 324.4 417.4 328.3 417.4C335.9 417.5 343.6 419 351 421C352.9 421.5 354.8 422.2 356.6 422.9"/><path class="c" stroke="url(#g16)" d="M356.6 422.9C362.7 425.3 368.6 428.5 374.8 430.5C382.6 433 390.6 435.2 398.6 436.4C399.1 436.5 399.5 436.5 400 436.6"/><path class="c" stroke="url(#g17)" d="M400 436.6C411.3 438 422.9 436.6 434.3 436.4C446.2 436.2 458.1 435.3 470 435.2C482.5 435.1 495.1 435.2 507.6 435.7"/>
<path class="o" d="M229 421C230.3 421 231.7 421 233 421C241.8 421 250.6 421.3 259.3 421.9C266.9 422.4 274.6 422.9 282.1 424.3C286 425 289.8 426 293.6 427C297.4 428 301.2 429.1 305 430.2C308.8 431.4 312.7 432.5 316.4 433.9C320.3 435.4 324.1 437.2 327.9 439C331.7 440.8 335.6 442.7 339.3 444.7C343.2 446.8 347 448.9 350.7 451.2C354.6 453.6 358.4 456.3 362.1 459C366.1 461.9 369.9 465.1 373.6 468.3C377.5 471.7 381.3 475.3 385 479C391.4 485.4 397 492.6 402.9 499.4C409.9 507.4 417.1 515.3 423.8 523.5C431.1 532.5 437.9 542 444.8 551.3C451.9 560.8 458.7 570.4 465.7 580C472.7 589.7 479.7 599.3 486.7 609C493.7 618.8 500.7 628.6 507.6 638.5"/><circle cx="229" cy="421" r="5" fill="#0000d8"/><circle cx="507.6" cy="638.5" r="5" fill="#0000a8"/><path class="c" stroke="url(#g18)" d="M229 421C230.3 421 231.7 421 233 421C241.8 421 250.6 421.3 259.3 421.9C266.9 422.4 274.6 422.9 282.1 424.3C286 425 289.8 426 293.6 427C295.5 427.5 297.4 428 299.3 428.5"/><path class="c" stroke="url(#g19)" d="M299.3 428.5C301.2 429.1 303.1 429.6 305 430.2C308.8 431.4 312.7 432.5 316.4 433.9C320.3 435.4 324.1 437.2 327.9 439C331.7 440.8 335.6 442.7 339.3 444.7C343.2 446.8 347 448.9 350.7 451.2"/><path class="c" stroke="url(#g20)" d="M350.7 451.2C354.6 453.6 358.4 456.3 362.1 459C366.1 461.9 369.9 465.1 373.6 468.3C377.5 471.7 381.3 475.3 385 479C391.4 485.4 397 492.6 402.9 499.4C406.4 503.4 409.9 507.4 413.5 511.4"/><path class="c" stroke="url(#g21)" d="M413.5 511.4C417 515.4 420.4 519.4 423.8 523.5C431.1 532.5 437.9 542 444.8 551.3C451.9 560.8 458.7 570.4 465.7 580C472.7 589.7 479.7 599.3 486.7 609C493.7 618.8 500.7 628.6 507.6 638.5"/>
<path class="o" d="M229 506.4C230.3 506.4 231.7 506.4 233 506.5C237 506.7 241 507.4 245 508.2C249.4 509.1 253.9 510 258.1 511.5C262.2 512.9 266.1 514.8 270 516.8C274.5 519.1 278.8 521.6 283 524.3C287.1 526.9 291.1 529.9 295 532.8C299.4 536.1 303.8 539.6 307.9 543.2C312.1 546.9 316 550.9 320 554.8C324.3 559.1 328.5 563.4 332.7 567.8C336.9 572.2 340.9 576.6 345 581C349.2 585.6 353.5 590.2 357.6 594.9C361.8 599.7 365.9 604.8 370 609.7C374.1 614.6 378.2 619.6 382.4 624.5C386.5 629.2 390.7 633.9 395 638.5C399 642.8 403.1 647 407.3 651C412.6 656 418.1 660.9 423.9 665.3C429.2 669.3 434.5 673.4 440.4 676.3C443.5 677.8 446.7 679.8 450 680.3C452.9 680.7 456.1 680.2 459 679.5C462.1 678.8 465.1 677.4 468 676C472.9 673.7 477.5 670.7 481.9 667.5C487.9 663.1 493.4 657.9 498.5 652.5C501.7 649 504.8 645.4 507.6 641.6"/><circle cx="229" cy="506.4" r="5" fill="#0000ff"/><circle cx="507.6" cy="641.6" r="5" fill="#000098"/><path class="c" stroke="url(#g22)" d="M229 506.4C230.3 506.4 231.7 506.4 233 506.5C237 506.7 241 507.4 245 508.2C245.6 508.3 246.1 508.4 246.7 508.5"/><path class="c" stroke="url(#g23)" d="M246.7 508.5C250.5 509.3 254.4 510.2 258.1 511.5C262.2 512.9 266.1 514.8 270 516.8C271.1 517.4 272.3 518 273.4 518.6"/><path class="c" stroke="url(#g24)" d="M273.4 518.6C276.7 520.4 279.9 522.3 283 524.3C287.1 526.9 291.1 529.9 295 532.8C296.7 534.1 298.3 535.3 300 536.6"/><path class="c" stroke="url(#g25)" d="M300 536.6C302.7 538.8 305.3 540.9 307.9 543.2C312.1 546.9 316 550.9 320 554.8C324.3 559.1 328.5 563.4 332.7 567.8C336.9 572.2 340.9 576.6 345 581C349.2 585.6 353.5 590.2 357.6 594.9C361.8 599.7 365.9 604.8 370 609.7C373.3 613.7 376.6 617.7 380 621.7"/><path class="c" stroke="url(#g26)" d="M380 621.7C380.8 622.6 381.6 623.6 382.4 624.5C386.5 629.2 390.7 633.9 395 638.5C397.2 640.8 399.3 643.1 401.5 645.3"/><path class="c" stroke="url(#g27)" d="M401.5 645.3C403.4 647.3 405.3 649.2 407.3 651C412.6 656 418.1 660.9 423.9 665.3C425.3 666.4 426.7 667.5 428.2 668.5"/><path class="c" stroke="url(#g28)" d="M428.2 668.5C432.1 671.4 436.1 674.2 440.4 676.3C443.5 677.8 446.7 679.8 450 680.3"/><path class="c" stroke="url(#g29)" d="M450 680.3C452.9 680.7 456.1 680.2 459 679.5C459.8 679.3 460.5 679.1 461.3 678.8"/><path class="c" stroke="url(#g30)" d="M461.3 678.8C463.6 678.1 465.8 677 468 676C470.5 674.9 472.8 673.5 475.1 672.1"/><path class="c" stroke="url(#g31)" d="M475.1 672.1C477.5 670.6 479.7 669.1 481.9 667.5C486.4 664.2 490.6 660.5 494.6 656.5"/><path class="c" stroke="url(#g32)" d="M494.6 656.5C495.9 655.2 497.2 653.9 498.5 652.5C501.7 649 504.8 645.4 507.6 641.6"/>
<path class="o" d="M507.6 640.5C511 642.3 513.9 644.5 516.2 647.1C520.1 651.5 521.2 658.1 523.3 663.8C526.4 672.3 528.3 681.2 530.5 690C533.1 700.3 535.3 710.7 537.6 721C540.1 732.1 542.5 743.2 544.8 754.3C547.3 766.2 549.5 778.1 551.9 790C554.3 801.9 556.6 813.8 559 825.7C561.4 837.6 563.8 849.5 566.2 861.4C568.6 873.3 570.9 885.2 573.3 897.1C575.7 909 578.1 921 580.5 932.9C582.9 944.8 585.3 956.7 587.6 968.6C590.1 981.3 592.4 994 594.8 1006.7C596.3 1014.5 597.8 1022.2 599.2 1030C601.1 1040.6 602.5 1051.4 604.3 1062C607.2 1078.7 610.6 1095.3 613.8 1112C616.6 1126.7 619.5 1141.3 622.1 1156C623.8 1165.3 624.9 1174.7 626.9 1184C628 1189 628.4 1194.3 630.5 1199C631.4 1200.9 632.4 1202.7 633.5 1204.5C637.3 1202.2 641.1 1199.9 644.8 1197.4C650.5 1193.6 655.8 1189.4 661.4 1185.5C667.7 1181.1 673.9 1176.3 680.5 1172.4C686.6 1168.8 692.8 1165 699.5 1162.9C704.8 1161.2 710.6 1160.4 716.2 1159.8C721.6 1159.3 727 1159.6 732.4 1159.5C740.2 1159.3 748 1159.6 755.7 1159C763.7 1158.3 771.8 1157.6 779.5 1155.5C786 1153.7 792.6 1151.4 798.6 1148.3C804.4 1145.3 809.8 1141.4 815.2 1137.6C821 1133.5 826.1 1128.6 831.9 1124.5C837.3 1120.7 842.6 1116.5 848.6 1113.8C853.1 1111.7 858 1110 862.9 1109C867.5 1108.1 872.4 1107.7 877.1 1107.9C881.9 1108.1 886.8 1108.8 891.4 1110.2C896.4 1111.8 901.1 1114.8 905.7 1117.4C911.5 1120.6 916.8 1124.5 922.4 1128.1C927.9 1131.7 933.4 1135.4 939 1138.8C945.2 1142.6 951.5 1146.4 958.1 1149.5C964.2 1152.3 970.6 1154.8 977.1 1156.7C982.6 1158.3 988.2 1159.4 993.8 1160.2C998.1 1160.8 1002.5 1161.7 1006.7 1161.2C1009.9 1160.9 1013.2 1160 1016.2 1158.8C1019.6 1157.4 1022.8 1155.2 1025.7 1152.9C1029.2 1150.2 1032.3 1146.7 1035.2 1143.3C1038.9 1138.9 1041.9 1133.9 1044.8 1129C1048.4 1122.9 1051.3 1116.4 1054.3 1110C1057.6 1102.9 1060.9 1095.8 1063.8 1088.6C1067.3 1080 1070.3 1071.2 1073.3 1062.4C1076.8 1052.2 1079.9 1041.8 1082.9 1031.4C1086.3 1019.6 1089.4 1007.6 1092.4 995.7C1095.2 984.5 1097.7 973.2 1100.5 962C1103.3 950.8 1106.1 939.7 1109 928.6C1112.1 916.7 1115.5 904.8 1118.6 892.9C1121.9 880.2 1124.9 867.5 1128.1 854.8C1131.3 842.1 1134.4 829.4 1137.6 816.7C1140.8 804 1143.9 791.3 1147.1 778.6C1150.3 765.9 1153.5 753.2 1156.7 740.5C1159.9 727.8 1163 715.1 1166.2 702.4C1169.4 689.7 1172.4 677 1175.7 664.3C1178.8 652.4 1181.9 640.5 1185.2 628.6C1188.3 617.4 1191.7 606.4 1194.8 595.2C1198.1 583.3 1200.6 571.2 1204.3 559.5C1207.1 550.6 1210 541.6 1213.8 533C1215.2 529.8 1216.7 526.6 1218.3 523.4C1219.9 520.1 1221.6 516.8 1223.5 513.7C1224.8 511.7 1225.7 509.3 1227.5 507.8C1228.6 506.9 1230.2 505.6 1231.5 505.6C1232.9 505.6 1234.4 506.9 1235.6 507.8C1237.3 509.1 1238.4 511.3 1239.8 513C1242.2 515.8 1245 518.3 1247.3 521.2C1250 524.5 1252.4 527.9 1254.7 531.5C1257 535.2 1259.1 539.1 1261 543C1263.6 548.5 1265.4 554.3 1267.6 560C1271.5 570 1275.5 580 1279.5 590C1283.4 599.7 1287.4 609.3 1291.4 619C1295.3 628.5 1299.5 638 1303.3 647.6C1307.4 657.9 1311.4 668.2 1315.2 678.6C1319.3 689.7 1323.1 700.8 1327.1 711.9C1331.1 723 1335.1 734.1 1339 745.2C1343.1 757.1 1347 769.1 1351 781C1355 792.9 1359 804.8 1362.9 816.7C1367 829.4 1370.8 842.1 1374.8 854.8C1378.8 867.5 1382.7 880.2 1386.7 892.9C1390.7 905.6 1394.4 918.4 1398.6 931C1402.4 942.4 1406.8 953.6 1410.5 965C1413.8 975.2 1417 985.4 1420 995.7C1423.4 1007.5 1426.2 1019.5 1429.5 1031.4C1432.6 1042.6 1435.6 1053.8 1439 1064.8C1442 1074.4 1444.9 1084 1448.6 1093.3C1451.5 1100.6 1454.4 1107.9 1458.1 1114.8C1460.9 1120.1 1464 1125.4 1467.6 1130.2C1471.1 1134.9 1475 1139.6 1479.5 1143.3C1483.8 1146.7 1488.8 1149.5 1493.8 1151.7C1499.1 1154 1504.9 1155.2 1510.5 1156.4C1516.7 1157.7 1523.1 1158.3 1529.5 1158.8C1537.4 1159.5 1545.4 1159.3 1553.3 1159.5C1565.5 1159.8 1577.8 1160 1590 1160"/><circle cx="507.6" cy="640.5" r="5" fill="#000098"/><circle cx="1590" cy="1160" r="5" fill="#0060ff"/><path class="c" stroke="#000098" d="M507.6 640.5C511 642.3 513.9 644.5 516.2 647.1C520.1 651.5 521.2 658.1 523.3 663.8C526.4 672.3 528.3 681.2 530.5 690C533.1 700.3 535.3 710.7 537.6 721C540.1 732.1 542.5 743.2 544.8 754.3C547.3 766.2 549.5 778.1 551.9 790C554.3 801.9 556.6 813.8 559 825.7C561.4 837.6 563.8 849.5 566.2 861.4C568.6 873.3 570.9 885.2 573.3 897.1C575.7 909 578.1 921 580.5 932.9C582.9 944.8 585.3 956.7 587.6 968.6C590.1 981.3 592.4 994 594.8 1006.7C596.3 1014.5 597.8 1022.2 599.2 1030C599.5 1031.6 599.7 1033.1 600 1034.7"/><path class="c" stroke="url(#g33)" d="M600 1034.7C601.5 1043.8 602.7 1052.9 604.3 1062C607.2 1078.7 610.6 1095.3 613.8 1112C615.9 1122.8 618 1133.7 620 1144.5"/><path class="c" stroke="url(#g34)" d="M620 1144.5C620.7 1148.3 621.4 1152.2 622.1 1156C623.8 1165.3 624.9 1174.7 626.9 1184C627.9 1188.6 628.3 1193.4 630 1197.8"/><path class="c" stroke="url(#g35)" d="M630 1197.8C630.2 1198.2 630.3 1198.6 630.5 1199C630.6 1199.2 630.7 1199.5 630.8 1199.7"/><path class="c" stroke="url(#g36)" d="M630.8 1199.7C631 1200.1 631.2 1200.5 631.4 1200.9"/><path class="c" stroke="url(#g37)" d="M631.4 1200.9C631.6 1201.3 631.8 1201.7 632 1202"/><path class="c" stroke="url(#g38)" d="M632 1202C632.2 1202.4 632.5 1202.8 632.7 1203.2"/><path class="c" stroke="url(#g39)" d="M632.7 1203.2C632.9 1203.6 633.1 1203.9 633.4 1204.3"/><path class="c" stroke="url(#g40)" d="M633.4 1204.3C633.4 1204.4 633.5 1204.4 633.5 1204.5C634.2 1204.1 634.8 1203.7 635.5 1203.3"/><path class="c" stroke="url(#g41)" d="M635.5 1203.3C637 1202.4 638.5 1201.5 640 1200.5"/><path class="c" stroke="url(#g42)" d="M640 1200.5C641.6 1199.5 643.2 1198.5 644.8 1197.4C650.5 1193.6 655.8 1189.4 661.4 1185.5C662.6 1184.7 663.8 1183.8 665 1182.9"/><path class="c" stroke="url(#g43)" d="M665 1182.9C670.1 1179.3 675.1 1175.5 680.5 1172.4C681.1 1172.1 681.7 1171.7 682.2 1171.4"/><path class="c" stroke="url(#g44)" d="M682.2 1171.4C687.8 1168.1 693.5 1164.8 699.5 1162.9"/><path class="c" stroke="url(#g45)" d="M699.5 1162.9C704.8 1161.2 710.6 1160.4 716.2 1159.8"/><path class="c" stroke="url(#g46)" d="M716.2 1159.8C721.6 1159.3 727 1159.6 732.4 1159.5"/><path class="c" stroke="url(#g47)" d="M732.4 1159.5C740.2 1159.3 748 1159.6 755.7 1159C760 1158.6 764.4 1158.3 768.7 1157.6"/><path class="c" stroke="url(#g48)" d="M768.7 1157.6C772.3 1157.1 776 1156.4 779.5 1155.5C786 1153.7 792.6 1151.4 798.6 1148.3C799.1 1148.1 799.5 1147.8 800 1147.6"/><path class="c" stroke="url(#g49)" d="M800 1147.6C805.3 1144.7 810.3 1141.1 815.2 1137.6C819.4 1134.7 823.2 1131.3 827.2 1128.1"/><path class="c" stroke="url(#g50)" d="M827.2 1128.1C828.7 1126.9 830.3 1125.6 831.9 1124.5C837.3 1120.7 842.6 1116.5 848.6 1113.8C850.2 1113.1 851.9 1112.3 853.6 1111.7"/><path class="c" stroke="url(#g51)" d="M853.6 1111.7C856.6 1110.6 859.8 1109.6 862.9 1109C867.5 1108.1 872.4 1107.7 877.1 1107.9"/><path class="c" stroke="url(#g52)" d="M877.1 1107.9C881.9 1108.1 886.8 1108.8 891.4 1110.2C896.4 1111.8 901.1 1114.8 905.7 1117.4"/><path class="c" stroke="url(#g53)" d="M905.7 1117.4C911.5 1120.6 916.8 1124.5 922.4 1128.1C927.9 1131.7 933.4 1135.4 939 1138.8"/><path class="c" stroke="url(#g54)" d="M939 1138.8C945.2 1142.6 951.5 1146.4 958.1 1149.5C964.2 1152.3 970.6 1154.8 977.1 1156.7"/><path class="c" stroke="url(#g55)" d="M977.1 1156.7C982.6 1158.3 988.2 1159.4 993.8 1160.2C998.1 1160.8 1002.5 1161.7 1006.7 1161.2"/><path class="c" stroke="url(#g56)" d="M1006.7 1161.2C1009.9 1160.9 1013.2 1160 1016.2 1158.8C1017.5 1158.2 1018.9 1157.6 1020.1 1156.8"/><path class="c" stroke="url(#g57)" d="M1020.1 1156.8C1022.1 1155.6 1023.9 1154.3 1025.7 1152.9C1028.5 1150.7 1031 1148.1 1033.4 1145.4"/><path class="c" stroke="url(#g58)" d="M1033.4 1145.4C1034 1144.7 1034.6 1144 1035.2 1143.3C1038.9 1138.9 1041.9 1133.9 1044.8 1129C1045.5 1127.9 1046.1 1126.7 1046.8 1125.5"/><path class="c" stroke="url(#g59)" d="M1046.8 1125.5C1049.5 1120.5 1051.8 1115.2 1054.3 1110C1056.2 1105.9 1058.2 1101.7 1060 1097.6"/><path class="c" stroke="url(#g60)" d="M1060 1097.6C1061.3 1094.6 1062.6 1091.6 1063.8 1088.6C1067.3 1080 1070.3 1071.2 1073.3 1062.4C1076.8 1052.2 1079.9 1041.8 1082.9 1031.4C1086.3 1019.6 1089.4 1007.6 1092.4 995.7C1095.1 985.2 1097.4 974.6 1100 964"/><path class="c" stroke="#0000ff" d="M1100 964C1100.2 963.4 1100.3 962.7 1100.5 962C1103.3 950.8 1106.1 939.7 1109 928.6C1112.1 916.7 1115.5 904.8 1118.6 892.9C1121.9 880.2 1124.9 867.5 1128.1 854.8C1131.3 842.1 1134.4 829.4 1137.6 816.7C1140.8 804 1143.9 791.3 1147.1 778.6C1150.3 765.9 1153.5 753.2 1156.7 740.5C1159.9 727.8 1163 715.1 1166.2 702.4C1169.4 689.7 1172.4 677 1175.7 664.3C1178.8 652.4 1181.9 640.5 1185.2 628.6C1188.3 617.4 1191.7 606.4 1194.8 595.2C1198.1 583.3 1200.6 571.2 1204.3 559.5C1207.1 550.6 1210 541.6 1213.8 533C1215.2 529.8 1216.7 526.6 1218.3 523.4C1219.9 520.1 1221.6 516.8 1223.5 513.7C1224.8 511.7 1225.7 509.3 1227.5 507.8C1228.6 506.9 1230.2 505.6 1231.5 505.6C1232.9 505.6 1234.4 506.9 1235.6 507.8C1237.3 509.1 1238.4 511.3 1239.8 513C1242.2 515.8 1245 518.3 1247.3 521.2C1250 524.5 1252.4 527.9 1254.7 531.5C1257 535.2 1259.1 539.1 1261 543C1263.6 548.5 1265.4 554.3 1267.6 560C1271.5 570 1275.5 580 1279.5 590C1283.4 599.7 1287.4 609.3 1291.4 619C1295.3 628.5 1299.5 638 1303.3 647.6C1307.4 657.9 1311.4 668.2 1315.2 678.6C1319.3 689.7 1323.1 700.8 1327.1 711.9C1331.1 723 1335.1 734.1 1339 745.2C1343.1 757.1 1347 769.1 1351 781C1355 792.9 1359 804.8 1362.9 816.7C1367 829.4 1370.8 842.1 1374.8 854.8C1378.8 867.5 1382.7 880.2 1386.7 892.9C1390.7 905.6 1394.4 918.4 1398.6 931C1399.1 932.4 1399.5 933.8 1400 935.1"/><path class="c" stroke="url(#g61)" d="M1400 935.1C1403.4 945.1 1407.2 955 1410.5 965C1413.8 975.2 1417 985.4 1420 995.7C1423.4 1007.5 1426.2 1019.5 1429.5 1031.4C1429.7 1032 1429.8 1032.6 1430 1033.2"/><path class="c" stroke="url(#g62)" d="M1430 1033.2C1432.9 1043.8 1435.7 1054.4 1439 1064.8C1442 1074.4 1444.9 1084 1448.6 1093.3C1449.1 1094.5 1449.5 1095.7 1450 1096.8"/><path class="c" stroke="url(#g63)" d="M1450 1096.8C1452.4 1102.9 1455 1109 1458.1 1114.8C1459.8 1117.9 1461.5 1121 1463.3 1123.9"/><path class="c" stroke="url(#g64)" d="M1463.3 1123.9C1464.7 1126.1 1466.1 1128.2 1467.6 1130.2C1471.1 1134.9 1475 1139.6 1479.5 1143.3"/><path class="c" stroke="url(#g65)" d="M1479.5 1143.3C1483.8 1146.7 1488.8 1149.5 1493.8 1151.7"/><path class="c" stroke="url(#g66)" d="M1493.8 1151.7C1499.1 1154 1504.9 1155.2 1510.5 1156.4"/><path class="c" stroke="#0060ff" d="M1510.5 1156.4C1516.7 1157.7 1523.1 1158.3 1529.5 1158.8C1537.4 1159.5 1545.4 1159.3 1553.3 1159.5C1565.5 1159.8 1577.8 1160 1590 1160"/><circle cx="633.5" cy="1204.5" r="5" fill="#0033ff"/>
<path class="o" d="M507.6 1260.5C513.7 1260.3 519.7 1259.8 525.7 1259C533.7 1257.9 541.7 1256.4 549.5 1254.3C557.6 1252.1 565.6 1249.3 573.3 1246C581.5 1242.5 589.3 1237.8 597.1 1233.5C603.5 1229.9 609.8 1226.1 616.2 1222.5C619.5 1220.6 622.9 1218.8 626.2 1217C628.8 1221 631 1225.2 632.9 1229.5C636.8 1238.4 637.6 1248.6 640 1258.1C642.4 1267.6 644.6 1277.2 647.1 1286.7C649.4 1295.5 651.7 1304.2 654.3 1312.9C656.5 1320.1 657.9 1327.7 661.4 1334.3C663.4 1338.1 665.4 1342.4 668.6 1345C671.8 1347.6 676.4 1348.7 680.5 1349.8C688.1 1351.9 696.4 1351.1 704.3 1351.4C713.7 1351.7 723.4 1353.4 732.4 1351.2C736.3 1350.2 740.3 1349 743.8 1347.1C748.4 1344.5 752.1 1340.3 755.7 1336.4C760.1 1331.7 763.9 1326.3 767.6 1321C771.9 1314.9 775.5 1308.3 779.5 1301.9C783.5 1295.6 787.2 1289.1 791.4 1282.9C795.2 1277.2 798.7 1271.2 803.3 1266.2C806.9 1262.3 810.7 1258.2 815.2 1255.5C818.8 1253.3 823 1251.7 827.1 1250.7C830.9 1249.8 835 1249.4 839 1249.5C843.8 1249.6 848.5 1251.1 853.3 1251.9C858.1 1252.7 862.8 1253.8 867.6 1254.3C871.5 1254.7 875.5 1255.1 879.5 1255C884.3 1254.9 889.1 1253.9 893.8 1253.1C899.4 1252.1 904.9 1250.4 910.5 1249.5C915.2 1248.7 920 1248.1 924.8 1247.9C929.5 1247.7 934.3 1247.8 939 1248.3C945.5 1249 951.8 1251 958.1 1252.6C964.5 1254.2 970.7 1256.4 977.1 1257.9C982.6 1259.2 988.2 1260.3 993.8 1261C998.1 1261.5 1002.5 1261.8 1006.9 1261.9"/><circle cx="507.6" cy="1260.5" r="5" fill="#00a8ff"/><circle cx="1006.9" cy="1261.9" r="5" fill="#0000e8"/><path class="c" stroke="url(#g67)" d="M507.6 1260.5C513.7 1260.3 519.7 1259.8 525.7 1259C533.7 1257.9 541.7 1256.4 549.5 1254.3C553 1253.3 556.5 1252.3 560 1251.1"/><path class="c" stroke="url(#g68)" d="M560 1251.1C564.5 1249.6 569 1247.9 573.3 1246C581.5 1242.5 589.3 1237.8 597.1 1233.5C598.1 1233 599 1232.4 600 1231.9"/><path class="c" stroke="url(#g69)" d="M600 1231.9C605.4 1228.8 610.8 1225.5 616.2 1222.5C616.8 1222.2 617.4 1221.8 618 1221.5"/><path class="c" stroke="url(#g70)" d="M618 1221.5C619.7 1220.6 621.3 1219.7 623 1218.7"/><path class="c" stroke="url(#g71)" d="M623 1218.7C623.3 1218.6 623.6 1218.4 623.8 1218.3"/><path class="c" stroke="url(#g72)" d="M623.8 1218.3C624.1 1218.1 624.4 1218 624.7 1217.8"/><path class="c" stroke="url(#g73)" d="M624.7 1217.8C625 1217.7 625.3 1217.5 625.5 1217.4"/><path class="c" stroke="url(#g74)" d="M625.5 1217.4C625.8 1217.2 626 1217.1 626.2 1217C626.3 1217.1 626.3 1217.2 626.4 1217.2"/><path class="c" stroke="url(#g75)" d="M626.4 1217.2C626.6 1217.6 626.8 1217.9 627 1218.3"/><path class="c" stroke="url(#g76)" d="M627 1218.3C628.5 1220.6 629.8 1223 631 1225.4"/><path class="c" stroke="url(#g77)" d="M631 1225.4C631.7 1226.8 632.3 1228.1 632.9 1229.5C633.7 1231.4 634.4 1233.3 635 1235.3"/><path class="c" stroke="url(#g78)" d="M635 1235.3C637.2 1242.7 638.1 1250.6 640 1258.1C641.2 1263 642.4 1267.8 643.6 1272.7"/><path class="c" stroke="url(#g79)" d="M643.6 1272.7C644.7 1277.4 645.9 1282 647.1 1286.7C649 1293.8 650.8 1300.9 652.8 1307.9"/><path class="c" stroke="url(#g80)" d="M652.8 1307.9C653.3 1309.6 653.8 1311.2 654.3 1312.9C656.5 1320.1 657.9 1327.7 661.4 1334.3C661.6 1334.7 661.8 1335.1 662 1335.5"/><path class="c" stroke="#00008b" d="M662 1335.5C663.9 1339 665.7 1342.7 668.6 1345C669.9 1346 671.4 1346.8 673 1347.5"/><path class="c" stroke="url(#g81)" d="M673 1347.5C675.4 1348.5 678.1 1349.1 680.5 1349.8C685.8 1351.3 691.5 1351.3 697.1 1351.3"/><path class="c" stroke="url(#g82)" d="M697.1 1351.3C699.5 1351.3 701.9 1351.3 704.3 1351.4C713.7 1351.7 723.4 1353.4 732.4 1351.2"/><path class="c" stroke="url(#g83)" d="M732.4 1351.2C736.3 1350.2 740.3 1349 743.8 1347.1C744.1 1346.9 744.4 1346.8 744.7 1346.6"/><path class="c" stroke="url(#g84)" d="M744.7 1346.6C748.8 1344 752.3 1340 755.7 1336.4C756.3 1335.8 756.8 1335.2 757.4 1334.6"/><path class="c" stroke="url(#g85)" d="M757.4 1334.6C761.1 1330.3 764.4 1325.6 767.6 1321C768.4 1319.8 769.2 1318.6 770 1317.4"/><path class="c" stroke="url(#g86)" d="M770 1317.4C773.3 1312.3 776.3 1307 779.5 1301.9C783.5 1295.6 787.2 1289.1 791.4 1282.9C794.2 1278.7 796.9 1274.2 800 1270.2"/><path class="c" stroke="url(#g87)" d="M800 1270.2C801 1268.8 802.1 1267.5 803.3 1266.2C805.4 1263.9 807.6 1261.6 809.9 1259.5"/><path class="c" stroke="url(#g88)" d="M809.9 1259.5C811.6 1258 813.3 1256.6 815.2 1255.5C816.7 1254.6 818.3 1253.8 820 1253.1"/><path class="c" stroke="url(#g89)" d="M820 1253.1C822.3 1252.1 824.7 1251.3 827.1 1250.7C830.7 1249.8 834.6 1249.5 838.4 1249.5"/><path class="c" stroke="url(#g90)" d="M838.4 1249.5C838.6 1249.5 838.8 1249.5 839 1249.5C843.8 1249.6 848.5 1251.1 853.3 1251.9C855.6 1252.3 857.8 1252.7 860.1 1253.1"/><path class="c" stroke="url(#g91)" d="M860.1 1253.1C862.6 1253.6 865.1 1254 867.6 1254.3C871.5 1254.7 875.5 1255.1 879.5 1255"/><path class="c" stroke="url(#g92)" d="M879.5 1255C884.3 1254.9 889.1 1253.9 893.8 1253.1C897.6 1252.4 901.4 1251.4 905.2 1250.6"/><path class="c" stroke="url(#g93)" d="M905.2 1250.6C907 1250.2 908.7 1249.8 910.5 1249.5C915.2 1248.7 920 1248.1 924.8 1247.9C926.5 1247.8 928.3 1247.8 930 1247.8"/><path class="c" stroke="url(#g94)" d="M930 1247.8C933 1247.8 936 1248 939 1248.3C945.5 1249 951.8 1251 958.1 1252.6C962.5 1253.7 966.7 1255.1 971.1 1256.3"/><path class="c" stroke="url(#g95)" d="M971.1 1256.3C973.1 1256.9 975.1 1257.4 977.1 1257.9C982.6 1259.2 988.2 1260.3 993.8 1261C998.1 1261.5 1002.5 1261.8 1006.9 1261.9"/><circle cx="626.2" cy="1217" r="5" fill="#0012ff"/>
<path class="o" d="M229 1384C230.4 1382.6 231.8 1381.1 233 1379.5C236.6 1375 239 1369.5 241.4 1364.3C245.9 1354.5 247.8 1343.6 251 1333.3C256.5 1315.8 261.8 1298.3 267.6 1281C272.9 1265 278.3 1249 284.3 1233.3C289.5 1219.7 294.6 1205.9 301 1192.9C306.7 1181.4 312.2 1169.5 320 1159.5C325 1153.1 329.9 1145.9 336.7 1141.7C341.3 1138.9 346.9 1135.9 352.1 1135.7C357.2 1135.5 363 1138 367.6 1140.5C374.3 1144.1 379.3 1151.1 384.3 1157.1C390.9 1165 395.8 1174.4 401 1183.3C406 1191.9 410.6 1200.7 415.2 1209.5C418.5 1215.8 421.7 1222.2 424.8 1228.6C429 1237.2 432.7 1246.1 436.7 1254.8C440.7 1263.5 444.4 1272.4 448.6 1281C451.7 1287.4 454.8 1293.7 458.1 1300C461.2 1305.9 464 1311.9 467.6 1317.5C471.2 1323 475 1328.5 479.5 1333.3C483.1 1337.2 486.9 1341.3 491.4 1344C496.2 1346.9 502.1 1348.6 507.6 1349.8C517.2 1351.9 527.6 1349.8 537.6 1349.8C553.5 1349.8 569.3 1349.7 585.2 1349.8C601.1 1349.9 617.1 1348.8 632.9 1350.5C639.3 1351.2 646.3 1350.6 651.9 1353.3C655.4 1355 658.7 1357.7 661.4 1360.5C665.8 1365 668 1371.5 671 1377.1C674.4 1383.4 677 1390 680.5 1396.2C684.1 1402.7 687.7 1409.5 692.4 1415.2C695.9 1419.5 699.7 1424.1 704.3 1427.1C708.5 1429.9 713.6 1432 718.6 1433.2C723 1434.3 727.8 1434.4 732.4 1434.5C740.2 1434.6 748.1 1433.4 755.7 1431.7C762.2 1430.3 768.7 1428.4 774.8 1425.7C780.6 1423.1 786.2 1419.8 791.4 1416.2C797.4 1412 802.7 1406.9 808.1 1401.9C813.9 1396.6 819.2 1390.8 824.8 1385.2C830.3 1379.7 835.6 1373.8 841.4 1368.6C846 1364.4 850.5 1360 855.7 1356.7C859.4 1354.3 863.4 1352 867.6 1350.7C871 1349.7 874.8 1348.8 878.3 1349C881.9 1349.2 885.7 1350.4 889 1351.9C893.4 1353.8 897.3 1357.1 901 1360.2C906.3 1364.7 910.7 1370.3 915.2 1375.7C920.3 1381.8 924.7 1388.4 929.5 1394.8C934.3 1401.1 939 1407.5 943.8 1413.8C948.6 1420.2 953 1426.8 958.1 1432.9C962.6 1438.3 967.2 1443.7 972.4 1448.3C976.8 1452.2 981.5 1456.2 986.7 1459C990.4 1461 994.5 1462.8 998.6 1463.8C1001.3 1464.5 1004.1 1464.9 1006.9 1465"/><circle cx="229" cy="1384" r="5" fill="#0070ff"/><circle cx="1006.9" cy="1465" r="5" fill="#000090"/><path class="c" stroke="url(#g96)" d="M229 1384C230.4 1382.6 231.8 1381.1 233 1379.5C235.3 1376.6 237.1 1373.3 238.8 1369.9"/><path class="c" stroke="url(#g97)" d="M238.8 1369.9C239.7 1368 240.5 1366.2 241.4 1364.3C245.9 1354.5 247.8 1343.6 251 1333.3C252.6 1328.2 254.2 1323.1 255.8 1318"/><path class="c" stroke="url(#g98)" d="M255.8 1318C259.6 1305.6 263.5 1293.3 267.6 1281C272.6 1266 277.6 1251 283.2 1236.2"/><path class="c" stroke="url(#g99)" d="M283.2 1236.2C283.6 1235.3 283.9 1234.3 284.3 1233.3C289.5 1219.7 294.6 1205.9 301 1192.9C304.3 1186.2 307.6 1179.4 311.3 1172.8"/><path class="c" stroke="url(#g100)" d="M311.3 1172.8C313.9 1168.2 316.7 1163.7 320 1159.5C325 1153.1 329.9 1145.9 336.7 1141.7C337.8 1141.1 338.9 1140.4 340 1139.8"/><path class="c" stroke="url(#g101)" d="M340 1139.8C341.9 1138.7 343.9 1137.7 346 1137"/><path class="c" stroke="url(#g102)" d="M346 1137C348 1136.3 350.1 1135.8 352.1 1135.7"/><path class="c" stroke="url(#g103)" d="M352.1 1135.7C354 1135.6 356 1135.9 358 1136.5"/><path class="c" stroke="url(#g104)" d="M358 1136.5C360 1137 362 1137.8 363.9 1138.7"/><path class="c" stroke="url(#g105)" d="M363.9 1138.7C365.2 1139.2 366.4 1139.9 367.6 1140.5C368.4 1140.9 369.2 1141.4 370 1142"/><path class="c" stroke="url(#g106)" d="M370 1142C375.5 1145.8 379.9 1151.8 384.3 1157.1C390.9 1165 395.8 1174.4 401 1183.3C401.1 1183.5 401.2 1183.6 401.3 1183.8"/><path class="c" stroke="url(#g107)" d="M401.3 1183.8C406.2 1192.2 410.7 1200.8 415.2 1209.5C418.2 1215.3 421.2 1221.1 424 1226.9"/><path class="c" stroke="url(#g108)" d="M424 1226.9C424.3 1227.5 424.5 1228 424.8 1228.6C425.2 1229.4 425.6 1230.3 426 1231.1"/><path class="c" stroke="url(#g109)" d="M426 1231.1C429.7 1239 433.1 1246.9 436.7 1254.8C440.7 1263.5 444.4 1272.4 448.6 1281C451.7 1287.4 454.8 1293.7 458.1 1300C460.7 1305 463.1 1310.1 466 1314.9"/><path class="c" stroke="url(#g110)" d="M466 1314.9C466.5 1315.8 467.1 1316.6 467.6 1317.5C467.9 1318 468.2 1318.4 468.5 1318.9"/><path class="c" stroke="url(#g111)" d="M468.5 1318.9C471.8 1323.9 475.4 1328.9 479.5 1333.3C479.7 1333.5 479.9 1333.7 480.1 1334"/><path class="c" stroke="url(#g112)" d="M480.1 1334C483.6 1337.6 487.2 1341.4 491.4 1344C491.5 1344.1 491.7 1344.2 491.8 1344.2"/><path class="c" stroke="url(#g113)" d="M491.8 1344.2C496.5 1347 502.2 1348.6 507.6 1349.8"/><path class="c" stroke="url(#g114)" d="M507.6 1349.8C517.2 1351.9 527.6 1349.8 537.6 1349.8C544.7 1349.8 551.9 1349.8 559 1349.8"/><path class="c" stroke="url(#g115)" d="M559 1349.8C567.8 1349.7 576.5 1349.7 585.2 1349.8C599.5 1349.9 613.9 1349 628.2 1350.1"/><path class="c" stroke="url(#g116)" d="M628.2 1350.1C629.7 1350.2 631.3 1350.3 632.9 1350.5C639.3 1351.2 646.3 1350.6 651.9 1353.3C653.1 1353.9 654.3 1354.6 655.5 1355.4"/><path class="c" stroke="#00008c" d="M655.5 1355.4C657.6 1356.9 659.6 1358.7 661.4 1360.5C664.9 1364.1 667 1369 669.3 1373.7"/><path class="c" stroke="url(#g117)" d="M669.3 1373.7C669.8 1374.8 670.4 1376 671 1377.1C674.4 1383.4 677 1390 680.5 1396.2C681.4 1397.8 682.3 1399.5 683.2 1401.1"/><path class="c" stroke="#00008d" d="M683.2 1401.1C686 1406 688.9 1410.9 692.4 1415.2C694.9 1418.2 697.5 1421.4 700.4 1424"/><path class="c" stroke="url(#g118)" d="M700.4 1424C701.6 1425.1 702.9 1426.2 704.3 1427.1C708.5 1429.9 713.6 1432 718.6 1433.2C719.3 1433.4 719.9 1433.5 720.6 1433.6"/><path class="c" stroke="url(#g119)" d="M720.6 1433.6C724.5 1434.3 728.5 1434.4 732.4 1434.5C737.1 1434.6 741.8 1434.2 746.5 1433.4"/><path class="c" stroke="#00008f" d="M746.5 1433.4C749.6 1433 752.7 1432.4 755.7 1431.7C762.2 1430.3 768.7 1428.4 774.8 1425.7C775.1 1425.6 775.4 1425.4 775.7 1425.3"/><path class="c" stroke="url(#g120)" d="M775.7 1425.3C781.2 1422.8 786.5 1419.6 791.4 1416.2C794.4 1414.1 797.2 1411.8 800 1409.3"/><path class="c" stroke="url(#g121)" d="M800 1409.3C802.7 1406.9 805.4 1404.4 808.1 1401.9C813.9 1396.6 819.2 1390.8 824.8 1385.2C826.6 1383.4 828.5 1381.5 830.3 1379.6"/><path class="c" stroke="url(#g122)" d="M830.3 1379.6C833.9 1375.8 837.5 1372.1 841.4 1368.6C846 1364.4 850.5 1360 855.7 1356.7C856.3 1356.3 857 1355.9 857.6 1355.5"/><path class="c" stroke="url(#g123)" d="M857.6 1355.5C860.8 1353.6 864.1 1351.8 867.6 1350.7C871 1349.7 874.8 1348.8 878.3 1349"/><path class="c" stroke="url(#g124)" d="M878.3 1349C881.9 1349.2 885.7 1350.4 889 1351.9C892.6 1353.5 895.8 1355.9 898.9 1358.5"/><path class="c" stroke="url(#g125)" d="M898.9 1358.5C899.6 1359 900.3 1359.6 901 1360.2C906.3 1364.7 910.7 1370.3 915.2 1375.7C918.4 1379.5 921.3 1383.6 924.3 1387.6"/><path class="c" stroke="url(#g126)" d="M924.3 1387.6C926 1390 927.7 1392.4 929.5 1394.8C934.3 1401.1 939 1407.5 943.8 1413.8C945.9 1416.6 947.9 1419.5 950 1422.3"/><path class="c" stroke="url(#g127)" d="M950 1422.3C952.6 1425.9 955.2 1429.5 958.1 1432.9C962.4 1438 966.8 1443.2 971.8 1447.8"/><path class="c" stroke="url(#g128)" d="M971.8 1447.8C972 1447.9 972.2 1448.1 972.4 1448.3C976.8 1452.2 981.5 1456.2 986.7 1459C988.5 1460 990.4 1460.9 992.3 1461.7"/><path class="c" stroke="url(#g129)" d="M992.3 1461.7C994.3 1462.5 996.5 1463.3 998.6 1463.8C1001.3 1464.5 1004.1 1464.9 1006.9 1465"/>
<path class="o" d="M229 1522C230.4 1521.9 231.7 1521.7 233 1521.4C236.6 1520.5 240.2 1518.4 243 1516C245.8 1513.6 248.1 1510.2 250 1507C252.6 1502.7 253.9 1497.7 255.7 1493C259.9 1482.3 263.3 1471.2 267.6 1460.5C271.8 1450 276.7 1439.8 281.3 1429.5C286.3 1418.3 291.6 1407.3 296.3 1396C302.9 1380.4 307.7 1364.1 314.5 1348.6C318.6 1339.1 323.2 1329.7 327.7 1320.4C331.2 1313.2 334.6 1305.9 338.5 1298.9C342.3 1292.1 346.4 1285.3 351 1279C355 1273.5 359.2 1267.9 364.2 1263.2C367.8 1259.9 371.5 1256.2 375.8 1254.1C379.6 1252.2 384 1250.6 388.2 1250.5C392.3 1250.4 396.9 1251.7 400.7 1253.3C406.7 1255.8 411.5 1261.2 416.4 1265.7C422.1 1270.8 427 1276.7 432.2 1282.3C436.7 1287.2 441 1292.2 445.4 1297.2C449.3 1301.6 452.9 1306.3 457 1310.5C460.4 1314 464.1 1317.1 467.6 1320.5C474.2 1326.9 479.2 1335.4 486.7 1340.5C492.9 1344.7 499.9 1347.8 507.6 1349.8"/><circle cx="229" cy="1522" r="5" fill="#000090"/><circle cx="507.6" cy="1349.8" r="5" fill="#000090"/><path class="c" stroke="#000090" d="M229 1522C230.4 1521.9 231.7 1521.7 233 1521.4C236.6 1520.5 240.2 1518.4 243 1516C245.8 1513.6 248.1 1510.2 250 1507C250.8 1505.7 251.4 1504.4 252 1503"/><path class="c" stroke="url(#g130)" d="M252 1503C252.7 1501.3 253.4 1499.5 254 1497.7"/><path class="c" stroke="url(#g131)" d="M254 1497.7C254.5 1496.1 255.1 1494.5 255.7 1493C259.9 1482.3 263.3 1471.2 267.6 1460.5C271.8 1450 276.7 1439.8 281.3 1429.5C286.3 1418.3 291.6 1407.3 296.3 1396C297.6 1392.9 298.8 1389.8 300 1386.7"/><path class="c" stroke="url(#g132)" d="M300 1386.7C304.9 1374 309.1 1361.1 314.5 1348.6C318.2 1340.1 322.2 1331.7 326.3 1323.3"/><path class="c" stroke="url(#g133)" d="M326.3 1323.3C326.8 1322.3 327.2 1321.4 327.7 1320.4C331.2 1313.2 334.6 1305.9 338.5 1298.9C340.8 1294.8 343.2 1290.8 345.7 1286.8"/><path class="c" stroke="url(#g134)" d="M345.7 1286.8C347.4 1284.1 349.1 1281.5 351 1279C355 1273.5 359.2 1267.9 364.2 1263.2C365.3 1262.2 366.3 1261.2 367.5 1260.2"/><path class="c" stroke="url(#g135)" d="M367.5 1260.2C370 1257.8 372.8 1255.6 375.8 1254.1C379.6 1252.2 384 1250.6 388.2 1250.5"/><path class="c" stroke="url(#g136)" d="M388.2 1250.5C389.6 1250.5 391.1 1250.6 392.6 1250.8"/><path class="c" stroke="url(#g137)" d="M392.6 1250.8C394.1 1251.1 395.6 1251.5 397 1251.9"/><path class="c" stroke="url(#g138)" d="M397 1251.9C397.7 1252.2 398.3 1252.4 399 1252.6"/><path class="c" stroke="url(#g139)" d="M399 1252.6C399.6 1252.8 400.1 1253.1 400.7 1253.3C406.7 1255.8 411.5 1261.2 416.4 1265.7C418 1267.2 419.6 1268.7 421.1 1270.2"/><path class="c" stroke="url(#g140)" d="M421.1 1270.2C424.9 1274.1 428.5 1278.3 432.2 1282.3C435.4 1285.8 438.5 1289.3 441.6 1292.9"/><path class="c" stroke="url(#g141)" d="M441.6 1292.9C442.9 1294.3 444.1 1295.8 445.4 1297.2C449.3 1301.6 452.9 1306.3 457 1310.5C457.5 1311 458 1311.5 458.5 1312"/><path class="c" stroke="url(#g142)" d="M458.5 1312C461.4 1314.9 464.6 1317.6 467.6 1320.5C471.4 1324.2 474.6 1328.5 478.1 1332.5"/><path class="c" stroke="url(#g143)" d="M478.1 1332.5C480.7 1335.5 483.5 1338.3 486.7 1340.5C492.9 1344.7 499.9 1347.8 507.6 1349.8"/>
<path class="o" d="M229 1441.5C230.3 1441.4 231.7 1441.2 233 1441C238.4 1440.1 243.6 1438 248.6 1436C255.2 1433.4 261.8 1430.3 267.6 1426.2C272.8 1422.5 277.4 1417.7 281.9 1413.1C285.2 1409.8 288.4 1406.4 291.4 1402.8C296.6 1396.7 300.9 1389.8 305.7 1383.3C310.4 1376.9 315.3 1370.7 320 1364.3C326.5 1355.3 332.7 1346 339 1336.9C347 1325.4 355.1 1314 362.9 1302.4C369.3 1292.9 375.3 1283.2 381.9 1273.8C387.3 1266.1 392.6 1258.4 398.6 1251.2C402.4 1246.7 406.1 1242 410.5 1238.1C415.2 1234 420.5 1230.4 426 1227.4C430 1225.3 434.2 1223.1 438.5 1221.9C442.8 1220.7 447.5 1220 452 1220.2C457.1 1220.4 462.4 1221.8 467 1223.8C473.1 1226.4 478.4 1231.2 483.5 1235.7C488.4 1240 492.4 1245.3 497 1250C500.5 1253.6 504 1257.2 507.6 1260.7"/><circle cx="229" cy="1441.5" r="5" fill="#000088"/><circle cx="507.6" cy="1260.7" r="5" fill="#00a8ff"/><path class="c" stroke="url(#g144)" d="M229 1441.5C230.3 1441.4 231.7 1441.2 233 1441C236.3 1440.5 239.5 1439.5 242.7 1438.3"/><path class="c" stroke="url(#g145)" d="M242.7 1438.3C244.7 1437.6 246.7 1436.8 248.6 1436C255.2 1433.4 261.8 1430.3 267.6 1426.2C268.8 1425.3 270 1424.4 271.1 1423.5"/><path class="c" stroke="url(#g146)" d="M271.1 1423.5C274.9 1420.3 278.4 1416.6 281.9 1413.1C284.7 1410.3 287.4 1407.4 290 1404.4"/><path class="c" stroke="url(#g147)" d="M290 1404.4C290.5 1403.9 290.9 1403.3 291.4 1402.8C291.8 1402.4 292.1 1401.9 292.5 1401.5"/><path class="c" stroke="url(#g148)" d="M292.5 1401.5C297.2 1395.7 301.2 1389.3 305.7 1383.3C310.4 1376.9 315.3 1370.7 320 1364.3C326.5 1355.3 332.7 1346 339 1336.9C347 1325.4 355.1 1314 362.9 1302.4C369.3 1292.9 375.3 1283.2 381.9 1273.8C386.8 1266.8 391.6 1259.8 397 1253.1"/><path class="c" stroke="url(#g149)" d="M397 1253.1C397.5 1252.5 398.1 1251.8 398.6 1251.2C398.9 1250.8 399.2 1250.5 399.5 1250.1"/><path class="c" stroke="url(#g150)" d="M399.5 1250.1C402.8 1246.1 406.2 1242 410 1238.5"/><path class="c" stroke="url(#g151)" d="M410 1238.5C410.2 1238.4 410.3 1238.2 410.5 1238.1C414.5 1234.6 418.9 1231.5 423.5 1228.8"/><path class="c" stroke="url(#g152)" d="M423.5 1228.8C424.3 1228.3 425.2 1227.9 426 1227.4"/><path class="c" stroke="#00a8ff" d="M426 1227.4C430 1225.3 434.2 1223.1 438.5 1221.9C442.8 1220.7 447.5 1220 452 1220.2C457.1 1220.4 462.4 1221.8 467 1223.8C473.1 1226.4 478.4 1231.2 483.5 1235.7C488.4 1240 492.4 1245.3 497 1250C500.5 1253.6 504 1257.2 507.6 1260.7"/>
<path class="o" d="M229 1553.6C230.3 1553.6 231.7 1553.6 233 1553.6C240.3 1553.5 247.7 1553.4 255 1552.5C259.2 1552 263.5 1551.4 267.6 1550.5C275.8 1548.7 283.5 1544.9 291.4 1542C296.9 1540 302.7 1538.6 307.9 1536C313.8 1533.1 319.1 1529 324.4 1525C330.2 1520.6 335.8 1515.6 341 1510.5C346.9 1504.7 352.3 1498.4 357.6 1492C363.4 1485.1 368.8 1477.8 374.2 1470.5C379.8 1462.9 385.4 1455.3 390.7 1447.5C396.4 1439.1 401.8 1430.5 407.3 1422C412.9 1413.4 418.5 1404.7 423.9 1396C429.4 1387.1 434.7 1378.1 440 1369C446.2 1358.4 452.1 1347.7 458.1 1337C466 1323 473.8 1308.9 481.9 1295C486.2 1287.6 490 1279.9 495 1273C497.5 1269.6 499.5 1265.3 503 1263C504.4 1262.1 505.9 1261.3 507.6 1260.7"/><circle cx="229" cy="1553.6" r="5" fill="#0020e8"/><circle cx="507.6" cy="1260.7" r="5" fill="#0098ff"/><path class="c" stroke="#0020e8" d="M229 1553.6C230.3 1553.6 231.7 1553.6 233 1553.6C240.3 1553.5 247.7 1553.4 255 1552.5C258 1552.1 261 1551.7 264 1551.2"/><path class="c" stroke="url(#g153)" d="M264 1551.2C265.2 1551 266.4 1550.8 267.6 1550.5"/><path class="c" stroke="#000090" d="M267.6 1550.5C275.8 1548.7 283.5 1544.9 291.4 1542C296.9 1540 302.7 1538.6 307.9 1536C313.8 1533.1 319.1 1529 324.4 1525C330.2 1520.6 335.8 1515.6 341 1510.5C344.1 1507.4 347.1 1504.2 350 1500.9"/><path class="c" stroke="url(#g154)" d="M350 1500.9C352.6 1498 355.1 1495 357.6 1492C363.4 1485.1 368.8 1477.8 374.2 1470.5C379.8 1462.9 385.4 1455.3 390.7 1447.5C393.9 1442.9 397 1438.1 400 1433.4"/><path class="c" stroke="url(#g155)" d="M400 1433.4C402.4 1429.6 404.9 1425.8 407.3 1422C412.9 1413.4 418.5 1404.7 423.9 1396C429.4 1387.1 434.7 1378.1 440 1369"/><path class="c" stroke="url(#g156)" d="M440 1369C446.2 1358.4 452.1 1347.7 458.1 1337C460.7 1332.3 463.4 1327.6 466 1323"/><path class="c" stroke="url(#g157)" d="M466 1323C467 1321.2 468 1319.4 469 1317.6"/><path class="c" stroke="url(#g158)" d="M469 1317.6C473.2 1310 477.5 1302.5 481.9 1295C484.7 1290.3 487.2 1285.4 490 1280.7"/><path class="c" stroke="url(#g159)" d="M490 1280.7C491.6 1278.1 493.2 1275.5 495 1273C497.1 1270.2 498.8 1266.8 501.3 1264.4"/><path class="c" stroke="url(#g160)" d="M501.3 1264.4C501.8 1263.9 502.4 1263.4 503 1263C504.4 1262.1 505.9 1261.3 507.6 1260.7"/>
<path class="o" d="M229 1658.5C230.3 1658.5 231.7 1658.5 233 1658.5C240.6 1658.6 248.5 1658.8 255.7 1661C261.5 1662.8 267.1 1665.9 272.4 1669C276.5 1671.4 280.4 1674.2 284.3 1677C286.7 1678.8 289.1 1680.6 291.4 1682.5C295.6 1685.9 299.4 1689.7 303.3 1693.5C305.5 1695.6 307.6 1697.8 309.7 1700C314.8 1705.4 319.7 1711.2 324.3 1717.1C328.6 1722.6 332.4 1728.5 336.3 1734.3C340.1 1739.9 343.8 1745.6 347.4 1751.4C350.9 1757.1 354.1 1763 357.7 1768.6C359.9 1772.1 362.1 1775.6 364.6 1778.9C367.9 1783.2 372.1 1786.8 375.7 1790.9C380.2 1796.1 384.5 1801.5 388.6 1807.1C393.1 1813.2 397.3 1819.6 401.4 1826C405.9 1833 410.1 1840.2 414.3 1847.4C418.6 1854.8 423.1 1862.1 427.1 1869.7C429.6 1874.4 431.9 1879.2 434.3 1884C440 1895.3 445.4 1906.8 451.4 1918C456.9 1928.1 462.3 1938.4 468.6 1948C473.9 1956.1 478.9 1964.6 485.7 1971.4C489.4 1975.1 493.3 1978.9 497.7 1981.7C500.8 1983.6 504.3 1986.1 507.7 1986.5C511.7 1986.9 516.4 1984.9 520 1983C526.2 1979.6 529.9 1972 534 1966C541 1955.7 545 1943.5 550 1932C555.8 1918.8 560.8 1905.4 566 1892C571.5 1878 576.4 1863.9 582 1850C587.1 1837.2 592 1824.4 598 1812C602.9 1801.8 607.1 1790.8 614 1782C618.6 1776.1 623.6 1769.6 630 1766C634.7 1763.4 640.8 1760.5 646 1761C650.8 1761.5 655.9 1764.9 660 1768C665.9 1772.5 669.8 1779.7 674 1786C680.5 1795.9 684.7 1807.3 690 1818C695.3 1828.7 699.8 1839.9 706 1850C710.2 1856.9 713.8 1865 720 1870C723.6 1872.9 728 1875.8 732.4 1877C739.6 1879.1 748.1 1876 755.7 1874.3C763.8 1872.5 772 1869.7 779.5 1866C786.2 1862.7 792.6 1858.5 798.6 1854C804.4 1849.7 810 1844.9 815.2 1839.8C821.2 1833.9 826.5 1827.2 831.9 1820.7C837.7 1813.7 843.3 1806.6 848.6 1799.3C853.6 1792.3 858.2 1785.1 862.9 1777.9C867.7 1770.4 872.3 1762.8 877.1 1755.2C881.8 1747.7 886.6 1740.1 891.4 1732.6C896.2 1725.1 900.7 1717.4 905.7 1710C910.3 1703.2 915 1696.4 920 1689.8C924.6 1683.7 929.3 1677.7 934.3 1671.9C938.9 1666.6 943.5 1661.2 948.6 1656.4C953.1 1652.2 957.8 1648 962.9 1644.5C967.4 1641.4 972.1 1638.4 977.1 1636.2C981.7 1634.2 986.5 1632.5 991.4 1631.4C996.3 1630.3 1001.4 1629.6 1006.4 1629.8C1010 1630 1013.7 1630.4 1017.1 1631.4C1021.6 1632.7 1025.9 1635 1030 1637.4C1034.6 1640.1 1038.7 1643.6 1042.9 1646.9C1047.3 1650.4 1051.5 1654.2 1055.7 1658C1060.1 1661.9 1064.4 1665.9 1068.6 1670C1073 1674.2 1077.2 1678.5 1081.4 1682.9C1085.8 1687.4 1090.2 1691.9 1094.3 1696.6C1098.8 1701.7 1102.8 1707.2 1107.1 1712.5C1111.4 1717.7 1115.6 1722.9 1120 1728C1122.8 1731.4 1125.7 1734.7 1128.6 1738C1132.7 1742.6 1137.2 1747 1141.4 1751.5C1147.2 1757.6 1152.7 1764 1158.6 1770C1164.1 1775.5 1169.7 1781 1175.7 1786C1181.2 1790.6 1186.8 1795.2 1192.9 1798.9C1198.3 1802.2 1204.1 1805 1210 1807.4C1214.2 1809.1 1218.5 1810.8 1222.9 1811.7C1225.7 1812.3 1228.6 1812.7 1231.4 1812.7C1236.4 1812.7 1241.4 1811.3 1246.2 1810C1251.9 1808.4 1257.6 1806.3 1262.9 1803.6C1268.8 1800.7 1274.2 1796.8 1279.5 1792.9C1285.4 1788.6 1290.7 1783.5 1296.2 1778.6C1301.9 1773.5 1307.5 1768.5 1312.9 1763.1C1318.7 1757.4 1323.9 1751.2 1329.5 1745.2C1335 1739.3 1340.5 1733.2 1346.2 1727.4C1351.7 1721.7 1357 1715.9 1362.9 1710.7C1366.7 1707.4 1370.7 1704.2 1374.8 1701.2C1378.7 1698.3 1382.6 1695.5 1386.7 1692.9C1391.3 1689.9 1396 1686.7 1401 1684.5C1405.5 1682.5 1410.4 1681 1415.2 1679.8C1419.9 1678.6 1424.7 1677.5 1429.5 1677.4C1434.2 1677.3 1439.2 1677.9 1443.8 1679C1448.7 1680.2 1453.6 1682.2 1458.1 1684.5C1463.2 1687.1 1468 1690.4 1472.4 1694C1477.6 1698.2 1482.3 1703.2 1486.7 1708.3C1491.9 1714.3 1496.6 1720.8 1501 1727.4C1505.3 1733.9 1509.2 1740.7 1512.9 1747.6C1517.2 1755.4 1521 1763.4 1524.8 1771.4C1528.9 1780.1 1532.7 1788.9 1536.7 1797.6C1540.7 1806.3 1544.5 1815.1 1548.6 1823.8C1551.7 1830.2 1554.7 1836.6 1558.1 1842.9C1561.1 1848.5 1563.8 1854.4 1567.6 1859.5C1570.4 1863.3 1573.4 1867.3 1577.1 1870.2C1580.9 1873.2 1585.2 1875.4 1590 1877"/><circle cx="229" cy="1658.5" r="5" fill="#000088"/><circle cx="1590" cy="1877" r="5" fill="#00a0ff"/><path class="c" stroke="url(#g161)" d="M229 1658.5C230.3 1658.5 231.7 1658.5 233 1658.5C235.8 1658.5 238.6 1658.6 241.4 1658.8"/><path class="c" stroke="url(#g162)" d="M241.4 1658.8C246.3 1659 251.1 1659.6 255.7 1661C259.9 1662.3 264 1664.3 268 1666.5"/><path class="c" stroke="url(#g163)" d="M268 1666.5C269.5 1667.3 271 1668.2 272.4 1669C273.3 1669.5 274.1 1670 275 1670.6"/><path class="c" stroke="url(#g164)" d="M275 1670.6C278.2 1672.6 281.3 1674.8 284.3 1677C286.2 1678.4 288.1 1679.9 290 1681.4"/><path class="c" stroke="url(#g165)" d="M290 1681.4C290.5 1681.7 290.9 1682.1 291.4 1682.5C291.8 1682.8 292.1 1683.1 292.5 1683.4"/><path class="c" stroke="url(#g166)" d="M292.5 1683.4C295.1 1685.6 297.6 1687.9 300 1690.3"/><path class="c" stroke="url(#g167)" d="M300 1690.3C301.1 1691.3 302.2 1692.4 303.3 1693.5C305.5 1695.6 307.6 1697.8 309.7 1700"/><path class="c" stroke="url(#g168)" d="M309.7 1700C314.8 1705.4 319.7 1711.2 324.3 1717.1"/><path class="c" stroke="url(#g169)" d="M324.3 1717.1C328.6 1722.6 332.4 1728.5 336.3 1734.3C339.3 1738.7 342.2 1743.1 345 1747.6"/><path class="c" stroke="url(#g170)" d="M345 1747.6C345.8 1748.9 346.6 1750.1 347.4 1751.4C350.9 1757.1 354.1 1763 357.7 1768.6C359.9 1772.1 362.1 1775.6 364.6 1778.9"/><path class="c" stroke="url(#g171)" d="M364.6 1778.9C367.9 1783.2 372.1 1786.8 375.7 1790.9C378.9 1794.6 382 1798.4 385 1802.3"/><path class="c" stroke="url(#g172)" d="M385 1802.3C386.2 1803.9 387.4 1805.5 388.6 1807.1C393.1 1813.2 397.3 1819.6 401.4 1826C402.6 1827.9 403.8 1829.8 405 1831.8"/><path class="c" stroke="url(#g173)" d="M405 1831.8C408.2 1836.9 411.2 1842.2 414.3 1847.4C417.9 1853.5 421.6 1859.6 425 1865.8"/><path class="c" stroke="url(#g174)" d="M425 1865.8C425.7 1867.1 426.4 1868.4 427.1 1869.7C429.6 1874.4 431.9 1879.2 434.3 1884C436.2 1887.8 438.1 1891.7 440 1895.5"/><path class="c" stroke="url(#g175)" d="M440 1895.5C443.7 1903.1 447.4 1910.6 451.4 1918C452.6 1920.2 453.8 1922.5 455 1924.7"/><path class="c" stroke="url(#g176)" d="M455 1924.7C459.3 1932.6 463.7 1940.5 468.6 1948C469.1 1948.7 469.5 1949.4 470 1950.1"/><path class="c" stroke="url(#g177)" d="M470 1950.1C474.8 1957.6 479.5 1965.2 485.7 1971.4"/><path class="c" stroke="url(#g178)" d="M485.7 1971.4C489.4 1975.1 493.3 1978.9 497.7 1981.7C498.4 1982.2 499.2 1982.7 500 1983.2"/><path class="c" stroke="#0038ff" d="M500 1983.2C502.5 1984.7 505.1 1986.2 507.7 1986.5"/><path class="c" stroke="url(#g179)" d="M507.7 1986.5C509.4 1986.7 511.2 1986.4 512.9 1986"/><path class="c" stroke="url(#g180)" d="M512.9 1986C514.7 1985.5 516.5 1984.7 518.2 1983.9"/><path class="c" stroke="url(#g181)" d="M518.2 1983.9C518.8 1983.6 519.4 1983.3 520 1983C521.6 1982.1 523 1981 524.3 1979.7"/><path class="c" stroke="url(#g182)" d="M524.3 1979.7C526.4 1977.6 528.3 1974.9 530 1972.2"/><path class="c" stroke="url(#g183)" d="M530 1972.2C531.4 1970.1 532.7 1968 534 1966C538.6 1959.3 541.9 1951.7 545 1944.1"/><path class="c" stroke="#0000f0" d="M545 1944.1C546.7 1940 548.3 1936 550 1932C555.8 1918.8 560.8 1905.4 566 1892C571.5 1878 576.4 1863.9 582 1850C587.1 1837.2 592 1824.4 598 1812C602.9 1801.8 607.1 1790.8 614 1782C618.6 1776.1 623.6 1769.6 630 1766C634.7 1763.4 640.8 1760.5 646 1761C647.3 1761.1 648.7 1761.5 650 1762"/><path class="c" stroke="url(#g184)" d="M650 1762C652.5 1762.9 655 1764.5 657.3 1766.1"/><path class="c" stroke="url(#g185)" d="M657.3 1766.1C658.3 1766.7 659.2 1767.4 660 1768C661.8 1769.4 663.5 1771 665 1772.8"/><path class="c" stroke="url(#g186)" d="M665 1772.8C668.4 1776.9 671.1 1781.6 674 1786C678.4 1792.6 681.7 1800 685 1807.3"/><path class="c" stroke="url(#g187)" d="M685 1807.3C686.6 1810.9 688.2 1814.5 690 1818C693.5 1824.9 696.6 1832.1 700 1839"/><path class="c" stroke="url(#g188)" d="M700 1839C701.9 1842.8 703.8 1846.5 706 1850C709 1854.8 711.6 1860.2 715 1864.7"/><path class="c" stroke="url(#g189)" d="M715 1864.7C716.5 1866.7 718.1 1868.5 720 1870C720.5 1870.4 721 1870.8 721.5 1871.1"/><path class="c" stroke="url(#g190)" d="M721.5 1871.1C723.1 1872.4 724.9 1873.6 726.8 1874.6"/><path class="c" stroke="url(#g191)" d="M726.8 1874.6C728.6 1875.6 730.5 1876.5 732.4 1877"/><path class="c" stroke="url(#g192)" d="M732.4 1877C736.2 1878.1 740.4 1877.7 744.6 1876.9"/><path class="c" stroke="url(#g193)" d="M744.6 1876.9C748.4 1876.2 752.1 1875.1 755.7 1874.3C756.2 1874.2 756.7 1874.1 757.2 1874"/><path class="c" stroke="url(#g194)" d="M757.2 1874C761.5 1872.9 765.8 1871.6 770 1870.1"/><path class="c" stroke="url(#g195)" d="M770 1870.1C773.2 1868.9 776.4 1867.5 779.5 1866C783.7 1863.9 787.8 1861.5 791.8 1858.8"/><path class="c" stroke="url(#g196)" d="M791.8 1858.8C794.1 1857.3 796.4 1855.6 798.6 1854C802.5 1851.1 806.3 1848 810 1844.7"/><path class="c" stroke="#0068ff" d="M810 1844.7C811.8 1843.1 813.5 1841.5 815.2 1839.8C821.2 1833.9 826.5 1827.2 831.9 1820.7C834.6 1817.4 837.3 1814.1 840 1810.7"/><path class="c" stroke="url(#g197)" d="M840 1810.7C842.9 1806.9 845.8 1803.2 848.6 1799.3C852.6 1793.8 856.3 1788.1 860 1782.4"/><path class="c" stroke="url(#g198)" d="M860 1782.4C861 1780.9 861.9 1779.4 862.9 1777.9C867.7 1770.4 872.3 1762.8 877.1 1755.2C878.1 1753.7 879 1752.1 880 1750.6"/><path class="c" stroke="url(#g199)" d="M880 1750.6C883.8 1744.6 887.6 1738.6 891.4 1732.6C892.6 1730.7 893.8 1728.8 895 1726.8"/><path class="c" stroke="url(#g200)" d="M895 1726.8C898.5 1721.2 902 1715.5 905.7 1710C907.1 1707.9 908.6 1705.8 910 1703.7"/><path class="c" stroke="url(#g201)" d="M910 1703.7C913.2 1699 916.6 1694.4 920 1689.8C921.6 1687.6 923.3 1685.4 925 1683.3"/><path class="c" stroke="url(#g202)" d="M925 1683.3C928 1679.4 931.1 1675.6 934.3 1671.9C937.8 1667.9 941.3 1663.8 945 1660"/><path class="c" stroke="url(#g203)" d="M945 1660C946.2 1658.7 947.4 1657.6 948.6 1656.4C953.1 1652.2 957.8 1648 962.9 1644.5C965.2 1642.9 967.6 1641.3 970 1639.9"/><path class="c" stroke="url(#g204)" d="M970 1639.9C972.3 1638.5 974.7 1637.3 977.1 1636.2C980.6 1634.7 984.2 1633.3 987.8 1632.3"/><path class="c" stroke="url(#g205)" d="M987.8 1632.3C989 1632 990.2 1631.7 991.4 1631.4C996.3 1630.3 1001.4 1629.6 1006.4 1629.8"/><path class="c" stroke="url(#g206)" d="M1006.4 1629.8C1010 1630 1013.7 1630.4 1017.1 1631.4"/><path class="c" stroke="url(#g207)" d="M1017.1 1631.4C1021.6 1632.7 1025.9 1635 1030 1637.4"/><path class="c" stroke="url(#g208)" d="M1030 1637.4C1034.6 1640.1 1038.7 1643.6 1042.9 1646.9C1047.3 1650.4 1051.5 1654.2 1055.7 1658C1058.8 1660.8 1062 1663.7 1065 1666.6"/><path class="c" stroke="url(#g209)" d="M1065 1666.6C1066.2 1667.7 1067.4 1668.9 1068.6 1670C1073 1674.2 1077.2 1678.5 1081.4 1682.9C1085.8 1687.4 1090.2 1691.9 1094.3 1696.6C1096.3 1698.9 1098.1 1701.2 1100 1703.5"/><path class="c" stroke="#98ff60" d="M1100 1703.5C1102.4 1706.5 1104.7 1709.6 1107.1 1712.5C1111.4 1717.7 1115.6 1722.9 1120 1728C1122.8 1731.4 1125.7 1734.7 1128.6 1738C1132.7 1742.6 1137.2 1747 1141.4 1751.5C1147.2 1757.6 1152.7 1764 1158.6 1770C1164.1 1775.5 1169.7 1781 1175.7 1786C1181.2 1790.6 1186.8 1795.2 1192.9 1798.9C1198.3 1802.2 1204.1 1805 1210 1807.4C1214.2 1809.1 1218.5 1810.8 1222.9 1811.7C1225.7 1812.3 1228.6 1812.7 1231.4 1812.7C1236.4 1812.7 1241.4 1811.3 1246.2 1810C1251.9 1808.4 1257.6 1806.3 1262.9 1803.6C1268.8 1800.7 1274.2 1796.8 1279.5 1792.9C1283.2 1790.2 1286.6 1787.2 1290 1784.2"/><path class="c" stroke="url(#g210)" d="M1290 1784.2C1292.1 1782.3 1294.1 1780.4 1296.2 1778.6"/><path class="c" stroke="url(#g211)" d="M1296.2 1778.6C1301.9 1773.5 1307.5 1768.5 1312.9 1763.1C1318.7 1757.4 1323.9 1751.2 1329.5 1745.2C1335 1739.3 1340.5 1733.2 1346.2 1727.4C1350.8 1722.7 1355.2 1717.8 1360 1713.3"/><path class="c" stroke="url(#g212)" d="M1360 1713.3C1361 1712.4 1361.9 1711.6 1362.9 1710.7C1365.5 1708.4 1368.2 1706.2 1371 1704.1"/><path class="c" stroke="url(#g213)" d="M1371 1704.1C1371.3 1703.8 1371.7 1703.6 1372 1703.3"/><path class="c" stroke="#0060ff" d="M1372 1703.3C1372.9 1702.6 1373.9 1701.9 1374.8 1701.2"/><path class="c" stroke="url(#g214)" d="M1374.8 1701.2C1378.7 1698.3 1382.6 1695.5 1386.7 1692.9C1391.3 1689.9 1396 1686.7 1401 1684.5"/><path class="c" stroke="url(#g215)" d="M1401 1684.5C1405.5 1682.5 1410.4 1681 1415.2 1679.8C1416.8 1679.4 1418.4 1679 1420 1678.7"/><path class="c" stroke="url(#g216)" d="M1420 1678.7C1423.1 1678 1426.3 1677.5 1429.5 1677.4C1431.3 1677.4 1433.2 1677.4 1435 1677.6"/><path class="c" stroke="url(#g217)" d="M1435 1677.6C1438 1677.8 1440.9 1678.3 1443.8 1679C1445.9 1679.5 1448 1680.2 1450 1680.9"/><path class="c" stroke="url(#g218)" d="M1450 1680.9C1452.8 1681.9 1455.5 1683.2 1458.1 1684.5C1462.3 1686.6 1466.3 1689.3 1470 1692.1"/><path class="c" stroke="url(#g219)" d="M1470 1692.1C1470.8 1692.7 1471.6 1693.4 1472.4 1694C1477.6 1698.2 1482.3 1703.2 1486.7 1708.3C1487.8 1709.6 1488.9 1710.9 1490 1712.2"/><path class="c" stroke="url(#g220)" d="M1490 1712.2C1493.9 1717.1 1497.5 1722.2 1501 1727.4C1502.4 1729.5 1503.7 1731.6 1505 1733.7"/><path class="c" stroke="url(#g221)" d="M1505 1733.7C1507.8 1738.3 1510.3 1742.9 1512.9 1747.6C1515.4 1752.1 1517.7 1756.8 1520 1761.4"/><path class="c" stroke="url(#g222)" d="M1520 1761.4C1521.6 1764.7 1523.2 1768.1 1524.8 1771.4C1528.3 1778.8 1531.6 1786.3 1535 1793.8"/><path class="c" stroke="url(#g223)" d="M1535 1793.8C1535.6 1795.1 1536.1 1796.3 1536.7 1797.6C1540.7 1806.3 1544.5 1815.1 1548.6 1823.8C1549.1 1824.8 1549.5 1825.7 1550 1826.7"/><path class="c" stroke="url(#g224)" d="M1550 1826.7C1552.6 1832.2 1555.3 1837.6 1558.1 1842.9C1559.4 1845.4 1560.7 1847.9 1562 1850.3"/><path class="c" stroke="url(#g225)" d="M1562 1850.3C1563.7 1853.5 1565.5 1856.6 1567.6 1859.5C1567.9 1860 1568.3 1860.4 1568.6 1860.9"/><path class="c" stroke="url(#g226)" d="M1568.6 1860.9C1570.6 1863.5 1572.7 1866.1 1575 1868.4"/><path class="c" stroke="url(#g227)" d="M1575 1868.4C1575.7 1869 1576.4 1869.6 1577.1 1870.2C1578.6 1871.4 1580.2 1872.5 1581.9 1873.4"/><path class="c" stroke="url(#g228)" d="M1581.9 1873.4C1584.4 1874.9 1587.1 1876.1 1590 1877"/>
<path class="o" d="M229 1812.3C230.3 1812.2 231.7 1812.1 233 1812C238.7 1811.5 244.4 1811.2 250 1810C255.1 1808.9 260.1 1807.3 265 1805.5C270.1 1803.6 275.1 1801 280 1798.5C285.1 1796 290 1793.2 295 1790.5C300 1787.8 304.9 1784.9 310 1782.5C313.9 1780.7 317.9 1778.9 322 1777.6C324.9 1776.7 328 1776 331 1775.5C333.6 1775.1 336.3 1774.6 338.9 1774.6C342.6 1774.6 346.5 1775.4 350 1776.7C353 1777.8 356.2 1779.3 358.6 1781.4C361 1783.5 362.7 1786.4 364.6 1789.1C367.1 1792.7 369.2 1796.6 371.4 1800.3C374.3 1805.1 377.2 1810 380 1814.9C382.9 1820 385.7 1825.2 388.6 1830.3C391.4 1835.4 394.3 1840.6 397.1 1845.7C400 1850.8 402.8 1856 405.7 1861.1C408.6 1866.3 411.5 1871.4 414.3 1876.6C418.1 1883.6 421.8 1890.7 425.7 1897.7C431.2 1907.6 437.2 1917.2 442.9 1926.9C448.6 1936.6 454.2 1946.4 460 1956C465.6 1965.2 470.9 1974.6 477.1 1983.4C482.5 1991.1 487.6 1999.2 494.3 2005.7C498.4 2009.6 502.9 2013.2 507.7 2016.4C515.2 2016.7 522.6 2017.4 530 2018.4C536.7 2019.3 543.4 2020.6 550 2022C556.7 2023.4 563.4 2025 570 2027C576.8 2029 583.5 2031.3 590 2034C595.1 2036.1 600.1 2038.4 605 2041"/><circle cx="229" cy="1812.3" r="5" fill="#a0ff58"/><circle cx="605" cy="2041" r="5" fill="#90ff68"/><path class="c" stroke="url(#g229)" d="M229 1812.3C230.3 1812.2 231.7 1812.1 233 1812C238.7 1811.5 244.4 1811.2 250 1810C253.4 1809.3 256.8 1808.3 260.1 1807.2"/><path class="c" stroke="url(#g230)" d="M260.1 1807.2C261.7 1806.7 263.4 1806.1 265 1805.5C270.1 1803.6 275.1 1801 280 1798.5C285.1 1796 290 1793.2 295 1790.5C296.7 1789.6 298.3 1788.7 300 1787.7"/><path class="c" stroke="url(#g231)" d="M300 1787.7C303.3 1785.9 306.6 1784.1 310 1782.5C312 1781.6 314 1780.7 316 1779.8"/><path class="c" stroke="url(#g232)" d="M316 1779.8C318 1779 320 1778.2 322 1777.6C324 1777 326.1 1776.5 328.1 1776"/><path class="c" stroke="url(#g233)" d="M328.1 1776C329.1 1775.8 330 1775.7 331 1775.5C333.2 1775.1 335.5 1774.7 337.8 1774.6"/><path class="c" stroke="url(#g234)" d="M337.8 1774.6C338.1 1774.6 338.5 1774.6 338.9 1774.6C342.6 1774.6 346.5 1775.4 350 1776.7C350.1 1776.7 350.2 1776.8 350.3 1776.8"/><path class="c" stroke="url(#g235)" d="M350.3 1776.8C353.2 1777.9 356.2 1779.4 358.6 1781.4C359.1 1781.8 359.6 1782.3 360 1782.8"/><path class="c" stroke="#80ff78" d="M360 1782.8C361.7 1784.7 363.1 1787 364.6 1789.1C367.1 1792.7 369.2 1796.6 371.4 1800.3C374.3 1805.1 377.2 1810 380 1814.9C382.9 1820 385.7 1825.2 388.6 1830.3C391.4 1835.4 394.3 1840.6 397.1 1845.7C398.1 1847.4 399 1849.2 400 1850.9"/><path class="c" stroke="url(#g236)" d="M400 1850.9C401.9 1854.3 403.8 1857.7 405.7 1861.1C408.6 1866.3 411.5 1871.4 414.3 1876.6C415.3 1878.4 416.2 1880.2 417.2 1881.9"/><path class="c" stroke="url(#g237)" d="M417.2 1881.9C420 1887.2 422.8 1892.5 425.7 1897.7C431.2 1907.6 437.2 1917.2 442.9 1926.9C443.9 1928.5 444.8 1930.2 445.8 1931.8"/><path class="c" stroke="url(#g238)" d="M445.8 1931.8C450.5 1939.9 455.2 1948 460 1956C465.6 1965.2 470.9 1974.6 477.1 1983.4C477.6 1984 478 1984.7 478.5 1985.4"/><path class="c" stroke="url(#g239)" d="M478.5 1985.4C483.3 1992.4 488.1 1999.8 494.3 2005.7C498.4 2009.6 502.9 2013.2 507.7 2016.4"/><path class="c" stroke="url(#g240)" d="M507.7 2016.4C515.2 2016.7 522.6 2017.4 530 2018.4C536.7 2019.3 543.4 2020.6 550 2022C553.4 2022.7 556.7 2023.5 560.1 2024.3"/><path class="c" stroke="url(#g241)" d="M560.1 2024.3C563.4 2025.1 566.7 2026 570 2027C576.8 2029 583.5 2031.3 590 2034C595.1 2036.1 600.1 2038.4 605 2041"/><circle cx="507.7" cy="2016.4" r="5" fill="#88ff70"/>
<path class="o" d="M466 2044C470 2041.3 474 2038.7 478 2036C482 2033.3 486 2030.7 490 2028C495.9 2024.1 501.8 2020.2 507.7 2016.4"/><circle cx="466" cy="2044" r="5" fill="#88ff70"/><circle cx="507.7" cy="2016.4" r="5" fill="#88ff70"/><path class="c" stroke="#88ff70" d="M466 2044C470 2041.3 474 2038.7 478 2036C482 2033.3 486 2030.7 490 2028C495.9 2024.1 501.8 2020.2 507.7 2016.4"/>
<path class="o" d="M229 2016.3C230.3 2016.2 231.7 2016.1 233 2016C238.7 2015.5 244.3 2014.5 250 2014C257.1 2013.3 264.3 2012.9 271.4 2012.6C278.3 2012.3 285.2 2011.6 292 2012.2C296.6 2012.6 301.2 2013.2 305.7 2014.3C309.8 2015.4 313.8 2016.9 317.7 2018.6C321.8 2020.3 325.8 2022.4 329.7 2024.6C332.6 2026.2 335.5 2027.9 338.3 2029.7C342.3 2032.3 346.2 2035 350 2038"/><circle cx="229" cy="2016.3" r="5" fill="#00a0ff"/><circle cx="350" cy="2038" r="5" fill="#30ffd0"/><path class="c" stroke="url(#g242)" d="M229 2016.3C230.3 2016.2 231.7 2016.1 233 2016C238.7 2015.5 244.3 2014.5 250 2014C256.6 2013.4 263.3 2013 270 2012.7"/><path class="c" stroke="url(#g243)" d="M270 2012.7C270.5 2012.6 270.9 2012.6 271.4 2012.6C278.3 2012.3 285.2 2011.6 292 2012.2C293 2012.3 294 2012.4 295 2012.5"/><path class="c" stroke="url(#g244)" d="M295 2012.5C298.6 2012.9 302.2 2013.4 305.7 2014.3C308.9 2015.1 312 2016.2 315 2017.5"/><path class="c" stroke="url(#g245)" d="M315 2017.5C315.9 2017.8 316.8 2018.2 317.7 2018.6C321.8 2020.3 325.8 2022.4 329.7 2024.6C331.5 2025.6 333.3 2026.6 335 2027.7"/><path class="c" stroke="#30ffd0" d="M335 2027.7C336.1 2028.3 337.2 2029 338.3 2029.7C342.3 2032.3 346.2 2035 350 2038"/>
<path class="o" d="M229 2024.4C230.3 2024.4 231.7 2024.4 233 2024.4C238.7 2024.5 244.4 2025.1 250 2025.8C255 2026.4 260 2027.3 265 2028.2C270 2029.1 275 2030.1 280 2031.2C286.7 2032.7 293.4 2034.5 300 2036.5"/><circle cx="229" cy="2024.4" r="5" fill="#ffc400"/><circle cx="300" cy="2036.5" r="5" fill="#ffc400"/><path class="c" stroke="#ffc400" d="M229 2024.4C230.3 2024.4 231.7 2024.4 233 2024.4C238.7 2024.5 244.4 2025.1 250 2025.8C255 2026.4 260 2027.3 265 2028.2C270 2029.1 275 2030.1 280 2031.2C286.7 2032.7 293.4 2034.5 300 2036.5"/>
<path class="o" d="M789 20C794.2 29.7 799.3 39.3 804.5 49C809.7 58.7 815 68.3 820 78.1C824.9 87.6 829.4 97.3 834.3 106.7C838.9 115.5 843.3 124.5 848.6 132.9C853 139.9 857.6 146.9 862.9 153.1C867.3 158.2 871.7 163.6 877.1 167.4C881.4 170.4 886.4 173 891.4 174.5C895.9 175.8 900.9 176.4 905.7 176.4C910.5 176.4 915.4 175.7 920 174.5C924.9 173.2 929.6 170.7 934.3 168.6C939.2 166.4 943.8 163.8 948.6 161.4C953.4 159 958 156.3 962.9 154.3C967.5 152.4 972.3 150.7 977.1 149.5C981.8 148.3 986.6 147.6 991.4 147.1C996.5 146.6 1001.6 146.5 1006.7 146.7C1009.2 139.7 1011.5 132.7 1013.8 125.7C1016.3 117.8 1018.6 109.8 1021 101.9C1023.4 94 1025.7 86 1028.1 78.1C1030.5 70.2 1032.7 62.2 1035.2 54.3C1035.8 52.5 1036.3 50.8 1036.9 49C1039.9 39.4 1042.8 29.7 1045.5 20"/><circle cx="789" cy="20" r="5" fill="#0000ff"/><circle cx="1045.5" cy="20" r="5" fill="#0000c0"/><path class="c" stroke="url(#g246)" d="M789 20C794.2 29.7 799.3 39.3 804.5 49C809.7 58.7 815 68.3 820 78.1C824.9 87.6 829.4 97.3 834.3 106.7C838.9 115.5 843.3 124.5 848.6 132.9C849.1 133.6 849.5 134.4 850 135.1"/><path class="c" stroke="url(#g247)" d="M850 135.1C854 141.3 858.1 147.5 862.9 153.1C863.2 153.5 863.6 153.9 863.9 154.3"/><path class="c" stroke="url(#g248)" d="M863.9 154.3C868 159 872.1 163.9 877.1 167.4C877.3 167.6 877.6 167.7 877.8 167.9"/><path class="c" stroke="url(#g249)" d="M877.8 167.9C881.9 170.7 886.6 173.1 891.4 174.5C891.5 174.5 891.6 174.6 891.8 174.6"/><path class="c" stroke="url(#g250)" d="M891.8 174.6C896.2 175.9 901.1 176.4 905.7 176.4"/><path class="c" stroke="url(#g251)" d="M905.7 176.4C910.5 176.4 915.4 175.7 920 174.5"/><path class="c" stroke="url(#g252)" d="M920 174.5C924.9 173.2 929.6 170.7 934.3 168.6"/><path class="c" stroke="url(#g253)" d="M934.3 168.6C939.2 166.4 943.8 163.8 948.6 161.4"/><path class="c" stroke="url(#g254)" d="M948.6 161.4C953.4 159 958 156.3 962.9 154.3"/><path class="c" stroke="url(#g255)" d="M962.9 154.3C967.5 152.4 972.3 150.7 977.1 149.5"/><path class="c" stroke="url(#g256)" d="M977.1 149.5C981.8 148.3 986.6 147.6 991.4 147.1"/><path class="c" stroke="url(#g257)" d="M991.4 147.1C996.5 146.6 1001.6 146.5 1006.7 146.7"/><path class="c" stroke="#0000c0" d="M1006.7 146.7C1009.2 139.7 1011.5 132.7 1013.8 125.7C1016.3 117.8 1018.6 109.8 1021 101.9C1023.4 94 1025.7 86 1028.1 78.1C1030.5 70.2 1032.7 62.2 1035.2 54.3C1035.8 52.5 1036.3 50.8 1036.9 49C1039.9 39.4 1042.8 29.7 1045.5 20"/><circle cx="1006.7" cy="146.7" r="5" fill="#0000c0"/>
<path class="o" d="M1006.7 146.7C1009 153.2 1011.4 159.7 1013.8 166.2C1017.6 176.5 1021.6 186.9 1025.7 197.1C1029.5 206.7 1033.5 216.2 1037.6 225.7C1041.4 234.5 1045.2 243.4 1049.5 251.9C1053.2 259.2 1057 266.4 1061.4 273.3C1065.1 279.1 1069 284.7 1073.3 290C1077 294.6 1081 299 1085.2 303.1C1089 306.8 1092.9 310.5 1097.1 313.8C1100.9 316.8 1105 319.4 1109 322.1C1113.7 325.3 1118.4 328.7 1123.3 331.7C1128 334.6 1132.9 337.1 1137.6 340C1142.5 343 1147.3 346.1 1151.9 349.5C1156.8 353.1 1161.6 356.9 1166.2 361C1170.3 364.6 1174.2 368.5 1178 372.5C1181.3 376 1184.5 379.7 1187.5 383.5C1190.7 387.5 1193.6 391.6 1196.5 395.8C1199.7 400.4 1202.7 405 1205.7 409.7C1208.4 413.9 1211.1 418.1 1213.8 422.3C1216 425.8 1218.1 429.4 1220.5 432.7C1222.2 435 1223.5 437.8 1225.7 439.4C1227.4 440.6 1229.6 442.1 1231.5 442C1233.3 442 1235.3 440.5 1236.9 439.4C1239.3 437.7 1240.8 434.9 1242.8 432.7C1245.2 430.2 1247.8 427.8 1250.2 425.3C1253.3 422.2 1256.2 418.9 1259.2 415.7C1262.8 411.9 1266.5 408.1 1270.3 404.5C1273.9 401.2 1277.6 397.9 1281.4 394.9C1285 392 1288.8 389.4 1292.6 386.7C1295.4 384.8 1298.1 382.7 1301 381C1305.5 378.4 1310.2 375.9 1315.2 374.5C1319 373.4 1323.1 372.7 1327.1 372.6C1331.9 372.5 1336.7 373.5 1341.4 374.5C1346.2 375.5 1350.9 377.4 1355.7 378.6C1360.4 379.8 1365.2 381.2 1370 381.9C1373.9 382.5 1378 383.3 1381.9 382.9C1385.9 382.5 1390.2 381.1 1393.8 379.3C1398.3 377.1 1402.1 373.3 1405.7 369.8C1410.3 365.3 1414 359.7 1417.6 354.3C1422.1 347.5 1425.8 340.2 1429.5 332.9C1433.8 324.4 1437.7 315.5 1441.4 306.7C1445.7 296.5 1449.5 286.1 1453.3 275.7C1457.4 264.6 1461.3 253.5 1465.2 242.4C1469.3 230.5 1473.2 218.6 1477.1 206.7C1481.2 194 1485 181.3 1489 168.6C1493 155.9 1497 143.2 1501 130.5C1505 117.8 1509 105.1 1512.9 92.4C1516.1 82.1 1519 71.6 1522.4 61.4C1523.8 57.3 1525.3 53.1 1526.7 49C1530 39.4 1533.1 29.7 1536 20"/><circle cx="1006.7" cy="146.7" r="5" fill="#0000c0"/><circle cx="1536" cy="20" r="5" fill="#0000ff"/><path class="c" stroke="url(#g258)" d="M1006.7 146.7C1009 153.2 1011.4 159.7 1013.8 166.2C1017.6 176.5 1021.6 186.9 1025.7 197.1C1029.5 206.7 1033.5 216.2 1037.6 225.7C1041.4 234.5 1045.2 243.4 1049.5 251.9C1050 252.8 1050.4 253.7 1050.9 254.6"/><path class="c" stroke="url(#g259)" d="M1050.9 254.6C1054.2 261 1057.6 267.3 1061.4 273.3C1065.1 279.1 1069 284.7 1073.3 290C1077 294.6 1081 299 1085.2 303.1C1089 306.8 1092.9 310.5 1097.1 313.8C1098 314.5 1099 315.3 1100 316"/><path class="c" stroke="url(#g260)" d="M1100 316C1102.9 318.1 1106 320 1109 322.1C1113.7 325.3 1118.4 328.7 1123.3 331.7C1126.8 333.9 1130.5 335.8 1134 337.9"/><path class="c" stroke="url(#g261)" d="M1134 337.9C1135.2 338.6 1136.4 339.3 1137.6 340C1142.5 343 1147.3 346.1 1151.9 349.5C1156.8 353.1 1161.6 356.9 1166.2 361C1167.2 361.9 1168.2 362.8 1169.2 363.8"/><path class="c" stroke="url(#g262)" d="M1169.2 363.8C1172.3 366.6 1175.2 369.5 1178 372.5C1181.3 376 1184.5 379.7 1187.5 383.5C1189.9 386.5 1192.1 389.6 1194.3 392.7"/><path class="c" stroke="url(#g263)" d="M1194.3 392.7C1195 393.7 1195.8 394.8 1196.5 395.8C1199.7 400.4 1202.7 405 1205.7 409.7C1208.4 413.9 1211.1 418.1 1213.8 422.3C1214.4 423.2 1214.9 424 1215.4 424.9"/><path class="c" stroke="url(#g264)" d="M1215.4 424.9C1217.1 427.5 1218.7 430.2 1220.5 432.7C1222.2 435 1223.5 437.8 1225.7 439.4C1226.9 440.3 1228.5 441.3 1230 441.8"/><path class="c" stroke="url(#g265)" d="M1230 441.8C1230.5 441.9 1231 442 1231.5 442C1233.3 442 1235.3 440.5 1236.9 439.4C1237.2 439.2 1237.5 439 1237.7 438.7"/><path class="c" stroke="url(#g266)" d="M1237.7 438.7C1239.7 437 1241 434.6 1242.8 432.7C1244 431.4 1245.2 430.2 1246.5 429"/><path class="c" stroke="url(#g267)" d="M1246.5 429C1247.7 427.8 1249 426.6 1250.2 425.3C1252.9 422.6 1255.4 419.7 1258.1 416.9"/><path class="c" stroke="url(#g268)" d="M1258.1 416.9C1258.4 416.5 1258.8 416.1 1259.2 415.7C1262.8 411.9 1266.5 408.1 1270.3 404.5C1271.2 403.7 1272.1 402.8 1273 402"/><path class="c" stroke="url(#g269)" d="M1273 402C1275.7 399.6 1278.5 397.2 1281.4 394.9C1283.7 393.1 1286 391.4 1288.3 389.7"/><path class="c" stroke="url(#g270)" d="M1288.3 389.7C1289.8 388.7 1291.2 387.7 1292.6 386.7C1295.4 384.8 1298.1 382.7 1301 381"/><path class="c" stroke="url(#g271)" d="M1301 381C1305.5 378.4 1310.2 375.9 1315.2 374.5C1317 374 1318.8 373.6 1320.6 373.3"/><path class="c" stroke="url(#g272)" d="M1320.6 373.3C1322.8 372.9 1325 372.7 1327.1 372.6C1331.5 372.5 1335.9 373.4 1340.3 374.3"/><path class="c" stroke="url(#g273)" d="M1340.3 374.3C1340.6 374.3 1341 374.4 1341.4 374.5C1346.2 375.5 1350.9 377.4 1355.7 378.6C1357.5 379.1 1359.3 379.5 1361.1 380"/><path class="c" stroke="url(#g274)" d="M1361.1 380C1364 380.8 1367 381.5 1370 381.9C1373.3 382.4 1376.7 383 1380 383"/><path class="c" stroke="url(#g275)" d="M1380 383C1380.6 383 1381.3 383 1381.9 382.9C1385.9 382.5 1390.2 381.1 1393.8 379.3C1394.2 379.1 1394.7 378.9 1395.1 378.6"/><path class="c" stroke="url(#g276)" d="M1395.1 378.6C1399 376.3 1402.5 373 1405.7 369.8C1407.3 368.2 1408.9 366.4 1410.3 364.6"/><path class="c" stroke="url(#g277)" d="M1410.3 364.6C1412.9 361.3 1415.3 357.8 1417.6 354.3C1420.4 350.1 1422.9 345.7 1425.2 341.3"/><path class="c" stroke="url(#g278)" d="M1425.2 341.3C1426.7 338.5 1428.1 335.7 1429.5 332.9C1433.3 325.4 1436.7 317.7 1440 310"/><path class="c" stroke="url(#g279)" d="M1440 310C1440.5 308.9 1440.9 307.8 1441.4 306.7C1445.7 296.5 1449.5 286.1 1453.3 275.7C1457.4 264.6 1461.3 253.5 1465.2 242.4C1469.3 230.5 1473.2 218.6 1477.1 206.7C1478.1 203.7 1479 200.6 1480 197.6"/><path class="c" stroke="url(#g280)" d="M1480 197.6C1483 187.9 1486 178.3 1489 168.6C1493 155.9 1497 143.2 1501 130.5C1505 117.8 1509 105.1 1512.9 92.4C1516.1 82.1 1519 71.6 1522.4 61.4C1523.8 57.3 1525.3 53.1 1526.7 49C1530 39.4 1533.1 29.7 1536 20"/>
<path class="o" d="M1006.7 1161.2C1011.5 1162.2 1016.2 1162.8 1021 1162.9C1025.7 1163 1030.6 1162.7 1035.2 1161.9C1040.1 1161 1044.9 1159.4 1049.5 1157.6C1054.4 1155.7 1059.3 1153.3 1063.8 1150.5C1069 1147.2 1073.7 1143 1078.1 1138.6C1082.5 1134.2 1086.3 1129.3 1090 1124.3C1094.4 1118.3 1098.4 1111.8 1101.9 1105.2C1105.6 1098.3 1108.5 1091 1111.4 1083.8C1115.1 1074.5 1118.2 1064.8 1121 1055.2C1123.7 1045.8 1126 1036.3 1128.1 1026.7C1130.9 1014.1 1132.7 1001.3 1135.2 988.6C1137.1 979.1 1138.8 969.5 1141 960C1142.9 951.9 1145.3 943.9 1147.1 935.7C1149 927 1150.4 918.2 1151.9 909.5C1153.6 900 1155.2 890.5 1156.7 881C1158.4 870.7 1159.8 860.3 1161.4 850C1163 839.7 1164.7 829.3 1166.2 819C1167.9 807.9 1169.5 796.8 1171 785.7C1172.6 773.8 1174.1 761.9 1175.7 750C1177.3 738.1 1179 726.2 1180.5 714.3C1182.1 701.6 1183.6 688.9 1185.2 676.2C1186.8 663.5 1188.4 650.8 1190 638.1C1191.6 625.4 1193.3 612.7 1194.8 600C1196.1 588.9 1197.3 577.8 1198.5 566.7C1199.7 556.5 1200.6 546.2 1202 536C1202.7 531.1 1203.5 526.1 1204.2 521.2C1205.1 515 1206.1 508.8 1207.1 502.6C1208 496.9 1209.1 491.2 1210.1 485.5C1211.1 480.1 1212.1 474.6 1213.1 469.2C1214.1 464.2 1215.1 459.3 1216.1 454.3C1217.1 449.3 1217.6 444.3 1219 439.4C1219.8 436.4 1220.7 433.3 1222 430.5C1223.2 427.8 1224.3 424.5 1226.5 422.8C1227.9 421.7 1229.8 420.5 1231.5 420.5C1233.3 420.4 1235.4 421.7 1236.9 422.8C1239.1 424.5 1240 427.9 1241.3 430.5C1242.7 433.4 1243.9 436.4 1245 439.4C1246.8 444.3 1248 449.3 1249.5 454.3C1251 459.3 1252.5 464.2 1254 469.2C1255.5 474.1 1257 479.1 1258.4 484C1260 489.4 1261.4 494.9 1262.9 500.4C1264.4 506.1 1265.9 511.7 1267.3 517.4C1268.9 523.6 1270.2 529.8 1271.8 536C1274.1 545.1 1277.2 553.9 1279.5 563C1282.2 573.6 1284.4 584.5 1286.7 595.2C1289.1 606.3 1291.4 617.5 1293.8 628.6C1296.2 639.7 1298.6 650.8 1301 661.9C1303.4 673 1305.7 684.1 1308.1 695.2C1310.5 706.3 1312.8 717.5 1315.2 728.6C1317.6 739.7 1320 750.8 1322.4 761.9C1324.7 772.6 1327.1 783.3 1329.5 794C1331.8 804.3 1334.3 814.7 1336.7 825C1339 834.9 1341.4 844.9 1343.8 854.8C1346.1 864.3 1348.6 873.8 1351 883.3C1353.4 892.8 1355.7 902.4 1358.1 911.9C1360.5 921.4 1362.5 931.1 1365.2 940.5C1367.4 948.1 1370.1 955.5 1372.4 963C1375.8 974.3 1378.8 985.7 1381.9 997C1385.1 1008.5 1388 1020 1391.4 1031.4C1394.4 1041.8 1397.3 1052.2 1401 1062.4C1403.9 1070.4 1406.3 1078.8 1410.5 1086.2C1413.8 1092.1 1417.9 1097.8 1422.4 1102.9C1427.3 1108.6 1433.4 1113.2 1439 1118.3C1445.3 1124 1451.6 1129.5 1458.1 1135C1464.3 1140.3 1470.5 1145.8 1477.1 1150.5C1482.5 1154.3 1487.9 1158.4 1493.8 1161.2C1499.1 1163.7 1504.8 1165.9 1510.5 1167.1C1515.9 1168.2 1521.6 1168.5 1527.1 1168.3C1532.7 1168.1 1538.3 1166.9 1543.8 1166C1550.2 1165 1556.5 1163.3 1562.9 1162.4C1571.9 1161.2 1580.9 1160.5 1590 1160.5"/><circle cx="1006.7" cy="1161.2" r="5" fill="#0028ff"/><circle cx="1590" cy="1160.5" r="5" fill="#0060ff"/><path class="c" stroke="url(#g281)" d="M1006.7 1161.2C1011.5 1162.2 1016.2 1162.8 1021 1162.9C1022.3 1162.9 1023.7 1162.9 1025 1162.9"/><path class="c" stroke="url(#g282)" d="M1025 1162.9C1028.4 1162.8 1031.9 1162.5 1035.2 1161.9C1037.6 1161.5 1040.1 1160.8 1042.5 1160.1"/><path class="c" stroke="url(#g283)" d="M1042.5 1160.1C1044.9 1159.4 1047.2 1158.5 1049.5 1157.6C1053.1 1156.2 1056.6 1154.6 1060 1152.7"/><path class="c" stroke="url(#g284)" d="M1060 1152.7C1061.3 1152 1062.6 1151.3 1063.8 1150.5C1069 1147.2 1073.7 1143 1078.1 1138.6C1079.3 1137.4 1080.5 1136.2 1081.6 1134.9"/><path class="c" stroke="url(#g285)" d="M1081.6 1134.9C1084.6 1131.5 1087.3 1127.9 1090 1124.3C1093.6 1119.3 1097 1114.1 1100 1108.7"/><path class="c" stroke="url(#g286)" d="M1100 1108.7C1100.6 1107.5 1101.3 1106.4 1101.9 1105.2C1105.6 1098.3 1108.5 1091 1111.4 1083.8C1113.4 1078.8 1115.2 1073.7 1116.9 1068.6"/><path class="c" stroke="url(#g287)" d="M1116.9 1068.6C1118.3 1064.2 1119.7 1059.7 1121 1055.2C1123.7 1045.8 1126 1036.3 1128.1 1026.7C1128.8 1023.6 1129.4 1020.5 1130 1017.4"/><path class="c" stroke="url(#g288)" d="M1130 1017.4C1131.8 1007.8 1133.3 998.2 1135.2 988.6C1137.1 979.1 1138.8 969.5 1141 960C1142.9 951.9 1145.3 943.9 1147.1 935.7C1149 927 1150.4 918.2 1151.9 909.5C1153.6 900 1155.2 890.5 1156.7 881C1157.9 873.8 1158.9 866.5 1160 859.3"/><path class="c" stroke="url(#g289)" d="M1160 859.3C1160.5 856.2 1160.9 853.1 1161.4 850C1163 839.7 1164.7 829.3 1166.2 819C1167.9 807.9 1169.5 796.8 1171 785.7C1172.6 773.8 1174.1 761.9 1175.7 750C1177.3 738.1 1179 726.2 1180.5 714.3C1182.1 701.6 1183.6 688.9 1185.2 676.2C1186.8 663.5 1188.4 650.8 1190 638.1C1191.6 625.4 1193.3 612.7 1194.8 600C1196.1 588.9 1197.3 577.8 1198.5 566.7C1199 562.1 1199.5 557.4 1200 552.8"/><path class="c" stroke="url(#g290)" d="M1200 552.8C1200.6 547.2 1201.2 541.6 1202 536C1202.7 531.1 1203.5 526.1 1204.2 521.2C1204.5 519 1204.9 516.7 1205.2 514.5"/><path class="c" stroke="url(#g291)" d="M1205.2 514.5C1205.8 510.5 1206.4 506.5 1207.1 502.6C1208 496.9 1209.1 491.2 1210.1 485.5C1210.4 484 1210.6 482.5 1210.9 481.1"/><path class="c" stroke="url(#g292)" d="M1210.9 481.1C1211.6 477.1 1212.3 473.2 1213.1 469.2C1214.1 464.2 1215.1 459.3 1216.1 454.3C1216.3 453.4 1216.4 452.5 1216.6 451.6"/><path class="c" stroke="url(#g293)" d="M1216.6 451.6C1217.3 447.5 1217.9 443.4 1219 439.4C1219.8 436.4 1220.7 433.3 1222 430.5C1222.1 430.3 1222.2 430 1222.3 429.8"/><path class="c" stroke="url(#g294)" d="M1222.3 429.8C1223.4 427.2 1224.5 424.4 1226.5 422.8C1227.9 421.7 1229.8 420.5 1231.5 420.5"/><path class="c" stroke="url(#g295)" d="M1231.5 420.5C1233.3 420.4 1235.4 421.7 1236.9 422.8C1238 423.6 1238.8 424.9 1239.4 426.3"/><path class="c" stroke="url(#g296)" d="M1239.4 426.3C1240.1 427.6 1240.6 429.2 1241.3 430.5C1242.7 433.3 1243.9 436.3 1245 439.3"/><path class="c" stroke="url(#g297)" d="M1245 439.3C1245 439.3 1245 439.4 1245 439.4C1246.8 444.3 1248 449.3 1249.5 454.3C1250.2 456.7 1250.9 459.1 1251.7 461.5"/><path class="c" stroke="url(#g298)" d="M1251.7 461.5C1252.5 464.1 1253.2 466.6 1254 469.2C1255.4 474 1256.9 478.8 1258.3 483.6"/><path class="c" stroke="url(#g299)" d="M1258.3 483.6C1258.3 483.8 1258.4 483.9 1258.4 484C1260 489.4 1261.4 494.9 1262.9 500.4C1263.6 503.1 1264.3 505.7 1265 508.4"/><path class="c" stroke="url(#g300)" d="M1265 508.4C1265.8 511.4 1266.5 514.4 1267.3 517.4C1268.9 523.6 1270.2 529.8 1271.8 536C1274.1 545.1 1277.2 553.9 1279.5 563C1282.2 573.6 1284.4 584.5 1286.7 595.2C1289.1 606.3 1291.4 617.5 1293.8 628.6C1295.8 638.2 1297.9 647.7 1300 657.3"/><path class="c" stroke="url(#g301)" d="M1300 657.3C1300.3 658.8 1300.7 660.4 1301 661.9C1303.4 673 1305.7 684.1 1308.1 695.2C1310.5 706.3 1312.8 717.5 1315.2 728.6C1317.6 739.7 1320 750.8 1322.4 761.9C1324.7 772.6 1327.1 783.3 1329.5 794C1331.8 804.3 1334.3 814.7 1336.7 825C1339 834.9 1341.4 844.9 1343.8 854.8C1346.1 864.3 1348.6 873.8 1351 883.3C1353.4 892.8 1355.7 902.4 1358.1 911.9C1360.5 921.4 1362.5 931.1 1365.2 940.5C1367.4 948.1 1370.1 955.5 1372.4 963C1375.1 972 1377.5 981 1380 990.1"/><path class="c" stroke="url(#g302)" d="M1380 990.1C1380.6 992.4 1381.3 994.7 1381.9 997C1385.1 1008.5 1388 1020 1391.4 1031.4C1392.6 1035.5 1393.8 1039.6 1395 1043.7"/><path class="c" stroke="url(#g303)" d="M1395 1043.7C1396.9 1050 1398.8 1056.2 1401 1062.4C1402.7 1067.3 1404.3 1072.3 1406.3 1077.1"/><path class="c" stroke="url(#g304)" d="M1406.3 1077.1C1407.5 1080.2 1408.9 1083.3 1410.5 1086.2C1413.2 1091 1416.5 1095.7 1420 1100"/><path class="c" stroke="url(#g305)" d="M1420 1100C1420.8 1101 1421.6 1102 1422.4 1102.9C1427.3 1108.6 1433.4 1113.2 1439 1118.3C1445.3 1124 1451.6 1129.5 1458.1 1135C1462.1 1138.3 1466 1141.8 1470 1145"/><path class="c" stroke="url(#g306)" d="M1470 1145C1472.3 1146.9 1474.7 1148.8 1477.1 1150.5C1482.5 1154.3 1487.9 1158.4 1493.8 1161.2C1495.8 1162.2 1497.9 1163.1 1500 1163.9"/><path class="c" stroke="url(#g307)" d="M1500 1163.9C1503.4 1165.3 1507 1166.4 1510.5 1167.1C1515.5 1168.1 1520.7 1168.4 1525.8 1168.3"/><path class="c" stroke="url(#g308)" d="M1525.8 1168.3C1526.2 1168.3 1526.7 1168.3 1527.1 1168.3C1532.7 1168.1 1538.3 1166.9 1543.8 1166C1546.7 1165.5 1549.7 1164.9 1552.6 1164.3"/><path class="c" stroke="url(#g309)" d="M1552.6 1164.3C1556 1163.6 1559.4 1162.9 1562.9 1162.4C1571.9 1161.2 1580.9 1160.5 1590 1160.5"/>
<path class="o" d="M1006.7 1261.5C1010.6 1258.1 1014.6 1254.9 1018.6 1251.7C1023.3 1248 1027.8 1244.1 1032.9 1241C1037.4 1238.2 1042.2 1235.6 1047.1 1233.8C1051.7 1232.1 1056.6 1231 1061.4 1230.2C1066.1 1229.4 1071 1228.8 1075.7 1229C1080.5 1229.2 1085.4 1229.9 1090 1231.4C1095 1233 1099.8 1235.8 1104.3 1238.6C1109.4 1241.7 1114.1 1245.4 1118.6 1249.3C1123.7 1253.7 1128.4 1258.6 1132.9 1263.6C1138 1269.2 1142.5 1275.3 1147.1 1281.4C1152.1 1288 1156.6 1294.9 1161.4 1301.7C1166.2 1308.4 1171 1315.1 1175.7 1321.9C1180.6 1329 1185 1336.3 1190 1343.3C1194.6 1349.8 1199 1356.5 1204.3 1362.4C1208 1366.6 1211.7 1371 1216.2 1374.3C1219.2 1376.5 1222.4 1378.9 1226 1380C1227.8 1380.5 1229.9 1381.3 1231.7 1381C1233.6 1380.6 1235.6 1378.9 1237 1377.5C1239.8 1374.7 1240 1369.8 1241.4 1366C1243 1361.6 1244.6 1357.3 1246.2 1352.9C1249.6 1343.4 1252.5 1333.8 1255.7 1324.3C1259.7 1312.4 1263.5 1300.5 1267.6 1288.6C1271.5 1277.4 1275.4 1266.3 1279.5 1255.2C1283.3 1244.9 1287.3 1234.5 1291.4 1224.3C1295.2 1214.7 1299 1205.1 1303.3 1195.7C1307 1187.6 1310.8 1179.6 1315.2 1171.9C1318.9 1165.4 1322.7 1158.9 1327.1 1152.9C1330.8 1147.9 1334.7 1143 1339 1138.6C1342.7 1134.8 1346.7 1131 1351 1127.9C1354.7 1125.2 1358.8 1122.7 1362.9 1120.7C1366.7 1118.8 1370.7 1117.1 1374.8 1116C1379.4 1114.8 1384.4 1113.8 1389 1114.3C1393.1 1114.8 1397.6 1116.1 1401 1118.3C1404.9 1120.8 1407.8 1125.2 1410.5 1129C1414.6 1134.7 1417 1141.7 1420 1148.1C1423.3 1155.2 1426.5 1162.3 1429.5 1169.5C1432.8 1177.4 1435.8 1185.4 1439 1193.3C1442.2 1201.2 1445.3 1209.2 1448.6 1217.1C1451.7 1224.3 1454.8 1231.5 1458.1 1238.6C1461.1 1245 1464 1251.5 1467.6 1257.6C1470.5 1262.5 1473.5 1267.5 1477.1 1271.9C1480.6 1276.2 1484.8 1280.2 1489 1283.8C1494.2 1288.2 1500.2 1291.7 1505.7 1295.7C1510.5 1299.2 1515.4 1302.6 1520 1306.4C1525 1310.5 1529.6 1315 1534.3 1319.5C1539.2 1324.2 1543.6 1329.3 1548.6 1333.8C1553.2 1338 1557.7 1342.4 1562.9 1345.7C1566.6 1348.1 1570.6 1350.4 1574.8 1351.7C1579.6 1353.2 1584.7 1353.8 1590 1353.5"/><circle cx="1006.7" cy="1261.5" r="5" fill="#0000e0"/><circle cx="1590" cy="1353.5" r="5" fill="#000088"/><path class="c" stroke="url(#g310)" d="M1006.7 1261.5C1010.6 1258.1 1014.6 1254.9 1018.6 1251.7C1021.7 1249.2 1024.8 1246.7 1028 1244.3"/><path class="c" stroke="url(#g311)" d="M1028 1244.3C1029.6 1243.2 1031.2 1242 1032.9 1241C1037.4 1238.2 1042.2 1235.6 1047.1 1233.8C1048.6 1233.2 1050.2 1232.7 1051.8 1232.3"/><path class="c" stroke="url(#g312)" d="M1051.8 1232.3C1054.9 1231.4 1058.2 1230.7 1061.4 1230.2C1066.1 1229.4 1071 1228.8 1075.7 1229"/><path class="c" stroke="url(#g313)" d="M1075.7 1229C1080.5 1229.2 1085.4 1229.9 1090 1231.4C1090.2 1231.4 1090.3 1231.5 1090.5 1231.6"/><path class="c" stroke="url(#g314)" d="M1090.5 1231.6C1095.3 1233.2 1099.9 1235.9 1104.3 1238.6C1104.6 1238.8 1104.9 1239 1105.2 1239.2"/><path class="c" stroke="url(#g315)" d="M1105.2 1239.2C1109.9 1242.2 1114.4 1245.7 1118.6 1249.3C1119.1 1249.7 1119.5 1250.1 1120 1250.5"/><path class="c" stroke="url(#g316)" d="M1120 1250.5C1124.6 1254.6 1128.8 1259.1 1132.9 1263.6C1138 1269.2 1142.5 1275.3 1147.1 1281.4C1151.6 1287.4 1155.7 1293.6 1160 1299.7"/><path class="c" stroke="url(#g317)" d="M1160 1299.7C1160.5 1300.4 1160.9 1301 1161.4 1301.7C1166.2 1308.4 1171 1315.1 1175.7 1321.9C1180.6 1329 1185 1336.3 1190 1343.3C1193.3 1347.9 1196.5 1352.7 1200 1357.2"/><path class="c" stroke="url(#g318)" d="M1200 1357.2C1201.4 1359 1202.8 1360.7 1204.3 1362.4C1206.3 1364.6 1208.3 1367 1210.4 1369.1"/><path class="c" stroke="url(#g319)" d="M1210.4 1369.1C1212.2 1371 1214.1 1372.8 1216.2 1374.3C1217.3 1375.1 1218.4 1375.9 1219.5 1376.7"/><path class="c" stroke="url(#g320)" d="M1219.5 1376.7C1221.6 1378.1 1223.7 1379.3 1226 1380C1226.3 1380.1 1226.7 1380.2 1227 1380.3"/><path class="c" stroke="url(#g321)" d="M1227 1380.3C1228.6 1380.8 1230.3 1381.3 1231.7 1381"/><path class="c" stroke="url(#g322)" d="M1231.7 1381C1233.6 1380.6 1235.6 1378.9 1237 1377.5C1239.6 1374.9 1239.9 1370.5 1241.1 1366.8"/><path class="c" stroke="url(#g323)" d="M1241.1 1366.8C1241.2 1366.5 1241.3 1366.3 1241.4 1366C1243 1361.6 1244.6 1357.3 1246.2 1352.9C1249.1 1344.7 1251.7 1336.4 1254.5 1328.1"/><path class="c" stroke="url(#g324)" d="M1254.5 1328.1C1254.9 1326.8 1255.3 1325.6 1255.7 1324.3C1259.7 1312.4 1263.5 1300.5 1267.6 1288.6C1270.7 1279.6 1273.8 1270.7 1277.1 1261.8"/><path class="c" stroke="url(#g325)" d="M1277.1 1261.8C1277.9 1259.6 1278.7 1257.4 1279.5 1255.2C1283.3 1244.9 1287.3 1234.5 1291.4 1224.3C1294.2 1217.2 1297 1210.1 1300 1203.1"/><path class="c" stroke="url(#g326)" d="M1300 1203.1C1301.1 1200.7 1302.2 1198.2 1303.3 1195.7C1307 1187.6 1310.8 1179.6 1315.2 1171.9C1316.7 1169.2 1318.3 1166.5 1319.9 1163.9"/><path class="c" stroke="url(#g327)" d="M1319.9 1163.9C1322.1 1160.1 1324.5 1156.4 1327.1 1152.9C1330.8 1147.9 1334.7 1143 1339 1138.6C1339.3 1138.3 1339.7 1137.9 1340 1137.6"/><path class="c" stroke="url(#g328)" d="M1340 1137.6C1343.4 1134.1 1347.1 1130.8 1351 1127.9C1353.9 1125.8 1356.9 1123.9 1360 1122.2"/><path class="c" stroke="url(#g329)" d="M1360 1122.2C1361 1121.7 1361.9 1121.2 1362.9 1120.7C1366.3 1119 1369.8 1117.5 1373.4 1116.4"/><path class="c" stroke="url(#g330)" d="M1373.4 1116.4C1373.8 1116.3 1374.3 1116.1 1374.8 1116C1379.4 1114.8 1384.4 1113.8 1389 1114.3"/><path class="c" stroke="url(#g331)" d="M1389 1114.3C1390.9 1114.5 1392.8 1114.9 1394.7 1115.5"/><path class="c" stroke="url(#g332)" d="M1394.7 1115.5C1396.6 1116.1 1398.5 1116.8 1400.1 1117.8"/><path class="c" stroke="url(#g333)" d="M1400.1 1117.8C1400.4 1117.9 1400.7 1118.1 1401 1118.3C1402.5 1119.2 1403.8 1120.4 1405 1121.8"/><path class="c" stroke="url(#g334)" d="M1405 1121.8C1407 1124 1408.8 1126.6 1410.5 1129C1411.3 1130.1 1412 1131.2 1412.6 1132.4"/><path class="c" stroke="url(#g335)" d="M1412.6 1132.4C1415.5 1137.3 1417.5 1142.9 1420 1148.1"/><path class="c" stroke="url(#g336)" d="M1420 1148.1C1423.3 1155.2 1426.5 1162.3 1429.5 1169.5C1432.8 1177.4 1435.8 1185.4 1439 1193.3C1442.2 1201.2 1445.3 1209.2 1448.6 1217.1C1451.7 1224.3 1454.8 1231.5 1458.1 1238.6C1461.1 1245 1464 1251.5 1467.6 1257.6C1468.4 1258.9 1469.2 1260.3 1470 1261.6"/><path class="c" stroke="url(#g337)" d="M1470 1261.6C1472.2 1265.2 1474.5 1268.7 1477.1 1271.9C1477.7 1272.6 1478.3 1273.3 1478.9 1274"/><path class="c" stroke="url(#g338)" d="M1478.9 1274C1482 1277.5 1485.5 1280.8 1489 1283.8C1489.3 1284.1 1489.7 1284.4 1490 1284.6"/><path class="c" stroke="url(#g339)" d="M1490 1284.6C1494.9 1288.7 1500.5 1291.9 1505.7 1295.7C1507.1 1296.7 1508.6 1297.8 1510 1298.8"/><path class="c" stroke="url(#g340)" d="M1510 1298.8C1513.4 1301.3 1516.8 1303.7 1520 1306.4C1521.7 1307.8 1523.4 1309.3 1525 1310.7"/><path class="c" stroke="url(#g341)" d="M1525 1310.7C1528.2 1313.6 1531.2 1316.6 1534.3 1319.5C1538.7 1323.7 1542.7 1328.2 1547 1332.3"/><path class="c" stroke="url(#g342)" d="M1547 1332.3C1547.6 1332.8 1548.1 1333.3 1548.6 1333.8C1553.2 1338 1557.7 1342.4 1562.9 1345.7C1564.6 1346.8 1566.3 1347.8 1568.1 1348.8"/><path class="c" stroke="url(#g343)" d="M1568.1 1348.8C1570.2 1349.9 1572.5 1351 1574.8 1351.7C1579.6 1353.2 1584.7 1353.8 1590 1353.5"/>
<path class="o" d="M1006.7 1261.5C1011.7 1265.2 1016.4 1269 1021 1273.1C1026.8 1278.3 1032.1 1284.2 1037.6 1289.8C1044.1 1296.4 1050.3 1303.3 1056.7 1310C1063 1316.7 1069.4 1323.5 1075.7 1330.2C1082.1 1337 1088.4 1343.7 1094.8 1350.5C1101.1 1357.2 1107.4 1364.1 1113.8 1370.7C1120.1 1377.2 1126.2 1383.8 1132.9 1389.8C1139 1395.2 1145.4 1400.3 1151.9 1405.2C1158.1 1409.8 1164.5 1414.2 1171 1418.3C1175.7 1421.2 1180.3 1424.3 1185.2 1426.7C1189.8 1429 1194.6 1430.9 1199.5 1432.6C1204.9 1434.5 1210.5 1436.2 1216.2 1437.2C1221.3 1438.1 1226.6 1438.7 1231.7 1438.4C1236.6 1438.1 1241.6 1437.3 1246.2 1435.7C1250.4 1434.2 1254.4 1431.9 1258.1 1429.5C1263.4 1426.1 1268.2 1421.7 1272.4 1417.1C1277 1412.1 1280.7 1406.3 1284.3 1400.5C1288.9 1393 1292.5 1384.8 1296.2 1376.7C1300.5 1367.3 1304.1 1357.6 1308.1 1348.1C1312.1 1338.6 1316 1329 1320 1319.5C1324 1310 1327.8 1300.4 1331.9 1291C1335.7 1282.2 1339.7 1273.5 1343.8 1264.8C1347.6 1256.8 1351.6 1248.8 1355.7 1241C1359.5 1233.8 1363.2 1226.4 1367.6 1219.5C1371.3 1213.8 1375.2 1208.2 1379.5 1202.9C1383.2 1198.3 1387 1193.6 1391.4 1189.8C1395 1186.6 1399 1183.7 1403.3 1181.4C1407 1179.4 1411.1 1177.7 1415.2 1176.7C1419 1175.8 1423.1 1175.4 1427.1 1175.5C1431.1 1175.6 1435.3 1175.9 1439 1177.1C1443.3 1178.5 1447.3 1181.1 1451 1183.8C1455.5 1187.1 1459.3 1191.5 1462.9 1195.7C1467.3 1200.9 1471 1206.7 1474.8 1212.4C1479 1218.6 1482.9 1225 1486.7 1231.4C1490.9 1238.4 1494.6 1245.7 1498.6 1252.9C1502.6 1260 1506.5 1267.2 1510.5 1274.3C1514.5 1281.4 1518.3 1288.7 1522.4 1295.7C1526.2 1302.2 1530.1 1308.6 1534.3 1314.8C1538.1 1320.4 1541.8 1326.3 1546.2 1331.4C1549.9 1335.6 1553.7 1339.9 1558.1 1343.3C1562.4 1346.7 1567.3 1349.9 1572.4 1351.7C1577.9 1353.6 1583.7 1354.4 1590 1354"/><circle cx="1006.7" cy="1261.5" r="5" fill="#0000d0"/><circle cx="1590" cy="1354" r="5" fill="#000088"/><path class="c" stroke="url(#g344)" d="M1006.7 1261.5C1011.7 1265.2 1016.4 1269 1021 1273.1C1026.8 1278.3 1032.1 1284.2 1037.6 1289.8C1038.4 1290.6 1039.2 1291.5 1040 1292.3"/><path class="c" stroke="url(#g345)" d="M1040 1292.3C1045.6 1298.1 1051.1 1304.1 1056.7 1310C1061.1 1314.7 1065.6 1319.4 1070 1324.1"/><path class="c" stroke="url(#g346)" d="M1070 1324.1C1071.9 1326.2 1073.8 1328.2 1075.7 1330.2C1082.1 1337 1088.4 1343.7 1094.8 1350.5C1096.5 1352.3 1098.3 1354.2 1100 1356.1"/><path class="c" stroke="#000088" d="M1100 1356.1C1104.6 1361 1109.1 1365.9 1113.8 1370.7C1120.1 1377.2 1126.2 1383.8 1132.9 1389.8C1139 1395.2 1145.4 1400.3 1151.9 1405.2C1158.1 1409.8 1164.5 1414.2 1171 1418.3C1175.7 1421.2 1180.3 1424.3 1185.2 1426.7C1189.8 1429 1194.6 1430.9 1199.5 1432.6C1204.9 1434.5 1210.5 1436.2 1216.2 1437.2C1221.3 1438.1 1226.6 1438.7 1231.7 1438.4C1236.6 1438.1 1241.6 1437.3 1246.2 1435.7C1250.4 1434.2 1254.4 1431.9 1258.1 1429.5C1263.4 1426.1 1268.2 1421.7 1272.4 1417.1C1273.3 1416.1 1274.2 1415.1 1275 1414.1"/><path class="c" stroke="url(#g347)" d="M1275 1414.1C1278.4 1409.8 1281.4 1405.1 1284.3 1400.5C1286.4 1397.1 1288.2 1393.6 1290 1390"/><path class="c" stroke="url(#g348)" d="M1290 1390C1292.2 1385.6 1294.2 1381.1 1296.2 1376.7C1299.4 1369.8 1302.2 1362.7 1305 1355.7"/><path class="c" stroke="url(#g349)" d="M1305 1355.7C1306 1353.2 1307 1350.6 1308.1 1348.1C1312.1 1338.6 1316 1329 1320 1319.5"/><path class="c" stroke="#0000ff" d="M1320 1319.5C1324 1310 1327.8 1300.4 1331.9 1291C1335.7 1282.2 1339.7 1273.5 1343.8 1264.8C1347.6 1256.8 1351.6 1248.8 1355.7 1241C1359.5 1233.8 1363.2 1226.4 1367.6 1219.5C1371.3 1213.8 1375.2 1208.2 1379.5 1202.9C1383.2 1198.3 1387 1193.6 1391.4 1189.8C1395 1186.6 1399 1183.7 1403.3 1181.4C1407 1179.4 1411.1 1177.7 1415.2 1176.7C1419 1175.8 1423.1 1175.4 1427.1 1175.5C1428.1 1175.5 1429 1175.5 1430 1175.6"/><path class="c" stroke="url(#g350)" d="M1430 1175.6C1432.5 1175.7 1435 1176 1437.4 1176.6"/><path class="c" stroke="url(#g351)" d="M1437.4 1176.6C1437.9 1176.8 1438.5 1176.9 1439 1177.1C1441.1 1177.8 1443.1 1178.7 1445 1179.8"/><path class="c" stroke="url(#g352)" d="M1445 1179.8C1447.1 1181 1449.1 1182.4 1451 1183.8C1451.5 1184.2 1452 1184.5 1452.4 1184.9"/><path class="c" stroke="url(#g353)" d="M1452.4 1184.9C1455.2 1187.1 1457.6 1189.7 1460 1192.4"/><path class="c" stroke="url(#g354)" d="M1460 1192.4C1461 1193.5 1461.9 1194.6 1462.9 1195.7C1467.3 1200.9 1471 1206.7 1474.8 1212.4"/><path class="c" stroke="url(#g355)" d="M1474.8 1212.4C1479 1218.6 1482.9 1225 1486.7 1231.4C1490.9 1238.4 1494.6 1245.7 1498.6 1252.9C1499.6 1254.7 1500.6 1256.5 1501.6 1258.3"/><path class="c" stroke="url(#g356)" d="M1501.6 1258.3C1504.5 1263.6 1507.5 1269 1510.5 1274.3C1514.5 1281.4 1518.3 1288.7 1522.4 1295.7C1524.3 1298.9 1526.2 1302.1 1528.2 1305.3"/><path class="c" stroke="url(#g357)" d="M1528.2 1305.3C1530.2 1308.5 1532.2 1311.7 1534.3 1314.8C1538.1 1320.4 1541.8 1326.3 1546.2 1331.4C1548.9 1334.6 1551.8 1337.8 1554.9 1340.6"/><path class="c" stroke="url(#g358)" d="M1554.9 1340.6C1555.9 1341.5 1557 1342.5 1558.1 1343.3C1562.4 1346.7 1567.3 1349.9 1572.4 1351.7C1577.9 1353.6 1583.7 1354.4 1590 1354"/>
<path class="o" d="M1006.7 1464C1009.6 1457.6 1012.8 1451.3 1016.2 1445.2C1019.9 1438.7 1023.6 1432.1 1028.1 1426.2C1032.4 1420.6 1036.7 1414.6 1042.4 1410.7C1047.9 1406.9 1054.9 1403.3 1061.4 1403C1066.9 1402.8 1073 1404.7 1078.1 1407.1C1083.4 1409.6 1087.9 1414 1092.4 1417.9C1097.5 1422.3 1102 1427.3 1106.7 1432.1C1111.6 1437.2 1116.2 1442.4 1121 1447.6C1125.7 1452.8 1130.4 1458 1135.2 1463.1C1139.9 1468 1144.6 1472.7 1149.5 1477.4C1154.2 1481.9 1158.9 1486.3 1163.8 1490.5C1169.2 1495.1 1174.6 1499.7 1180.5 1503.6C1185.8 1507.1 1191.3 1510.5 1197.1 1513.1C1202.5 1515.5 1208.1 1517.7 1213.8 1519C1219.6 1520.3 1225.9 1521.7 1231.7 1521C1235.8 1520.5 1240.3 1519.5 1243.8 1517.5C1247.6 1515.3 1250.5 1511.4 1253.3 1508C1256.5 1504.1 1259 1499.5 1261.7 1495.2C1265.5 1489 1268.7 1482.5 1272.4 1476.2C1276.2 1469.7 1279.9 1463.2 1284.3 1457.1C1288.6 1451.1 1293.4 1445.3 1298.6 1440C1305.1 1433.3 1312.8 1427.8 1320 1421.9C1327.8 1415.5 1335.9 1409.2 1343.8 1402.9C1351.7 1396.5 1359.5 1390 1367.6 1383.8C1373.9 1378.9 1380.2 1374.1 1386.7 1369.5C1392.9 1365 1399.2 1360.5 1405.7 1356.4C1411.1 1353 1416.6 1349.6 1422.4 1346.9C1427.8 1344.4 1433.3 1341.8 1439 1340.5C1442.1 1339.8 1445.4 1339 1448.6 1339C1452.6 1339 1456.7 1339.8 1460.5 1341C1464.7 1342.3 1468.8 1344.4 1472.4 1346.9C1475.9 1349.2 1478.9 1352.3 1481.9 1355.2C1486.1 1359.3 1490 1363.8 1493.8 1368.3C1498 1373.3 1501.6 1378.7 1505.7 1383.8C1509.6 1388.6 1513.5 1393.4 1517.6 1398.1C1521.5 1402.5 1525.2 1407.2 1529.5 1411.2C1533.2 1414.6 1537.2 1417.8 1541.4 1420.7C1545.2 1423.3 1549.1 1426 1553.3 1427.9C1557.8 1430 1562.7 1431.5 1567.6 1432.6C1574.9 1434.2 1582.3 1434.8 1590 1434.3"/><circle cx="1006.7" cy="1464" r="5" fill="#000088"/><circle cx="1590" cy="1434.3" r="5" fill="#000080"/><path class="c" stroke="#000088" d="M1006.7 1464C1009.6 1457.6 1012.8 1451.3 1016.2 1445.2C1019.9 1438.7 1023.6 1432.1 1028.1 1426.2C1032.4 1420.6 1036.7 1414.6 1042.4 1410.7C1047.9 1406.9 1054.9 1403.3 1061.4 1403C1066.9 1402.8 1073 1404.7 1078.1 1407.1C1083.4 1409.6 1087.9 1414 1092.4 1417.9C1097.5 1422.3 1102 1427.3 1106.7 1432.1C1111.6 1437.2 1116.2 1442.4 1121 1447.6C1125.7 1452.8 1130.4 1458 1135.2 1463.1C1139.9 1468 1144.6 1472.7 1149.5 1477.4C1154.2 1481.9 1158.9 1486.3 1163.8 1490.5C1169.2 1495.1 1174.6 1499.7 1180.5 1503.6C1185.8 1507.1 1191.3 1510.5 1197.1 1513.1C1202.5 1515.5 1208.1 1517.7 1213.8 1519C1219.6 1520.3 1225.9 1521.7 1231.7 1521C1234.4 1520.7 1237.3 1520.1 1240 1519.2"/><path class="c" stroke="url(#g359)" d="M1240 1519.2C1241.3 1518.7 1242.6 1518.2 1243.8 1517.5C1245.5 1516.5 1247 1515.2 1248.4 1513.8"/><path class="c" stroke="url(#g360)" d="M1248.4 1513.8C1250.1 1512 1251.7 1509.9 1253.3 1508C1254 1507.1 1254.7 1506.2 1255.4 1505.3"/><path class="c" stroke="url(#g361)" d="M1255.4 1505.3C1257.6 1502.1 1259.6 1498.6 1261.7 1495.2"/><path class="c" stroke="#0000a0" d="M1261.7 1495.2C1265.5 1489 1268.7 1482.5 1272.4 1476.2C1276.2 1469.7 1279.9 1463.2 1284.3 1457.1C1288.6 1451.1 1293.4 1445.3 1298.6 1440C1305.1 1433.3 1312.8 1427.8 1320 1421.9C1327.8 1415.5 1335.9 1409.2 1343.8 1402.9C1351.7 1396.5 1359.5 1390 1367.6 1383.8C1373.9 1378.9 1380.2 1374.1 1386.7 1369.5C1391.1 1366.3 1395.5 1363.1 1400 1360.1"/><path class="c" stroke="url(#g362)" d="M1400 1360.1C1401.9 1358.8 1403.8 1357.6 1405.7 1356.4C1410.3 1353.6 1414.9 1350.7 1419.7 1348.2"/><path class="c" stroke="url(#g363)" d="M1419.7 1348.2C1420.6 1347.8 1421.5 1347.3 1422.4 1346.9C1427.6 1344.4 1433 1341.9 1438.7 1340.6"/><path class="c" stroke="url(#g364)" d="M1438.7 1340.6C1438.8 1340.6 1438.9 1340.5 1439 1340.5C1442.1 1339.8 1445.4 1339 1448.6 1339C1449.1 1339 1449.5 1339 1450 1339"/><path class="c" stroke="url(#g365)" d="M1450 1339C1453.5 1339.2 1457.2 1339.9 1460.5 1341C1463.3 1341.9 1466.1 1343.1 1468.7 1344.6"/><path class="c" stroke="url(#g366)" d="M1468.7 1344.6C1470 1345.3 1471.2 1346.1 1472.4 1346.9C1475.9 1349.2 1478.9 1352.3 1481.9 1355.2C1482.9 1356.1 1483.8 1357.1 1484.7 1358"/><path class="c" stroke="url(#g367)" d="M1484.7 1358C1487.9 1361.3 1490.9 1364.8 1493.8 1368.3C1497.1 1372.2 1500 1376.4 1503.1 1380.4"/><path class="c" stroke="url(#g368)" d="M1503.1 1380.4C1503.9 1381.6 1504.8 1382.7 1505.7 1383.8C1509.6 1388.6 1513.5 1393.4 1517.6 1398.1C1518.9 1399.6 1520.2 1401.1 1521.5 1402.6"/><path class="c" stroke="url(#g369)" d="M1521.5 1402.6C1524 1405.6 1526.6 1408.5 1529.5 1411.2C1532.8 1414.3 1536.4 1417.1 1540 1419.7"/><path class="c" stroke="url(#g370)" d="M1540 1419.7C1540.5 1420.1 1540.9 1420.4 1541.4 1420.7C1545.2 1423.3 1549.1 1426 1553.3 1427.9C1555.3 1428.8 1557.4 1429.7 1559.5 1430.4"/><path class="c" stroke="url(#g371)" d="M1559.5 1430.4C1562.2 1431.3 1564.9 1432 1567.6 1432.6C1574.9 1434.2 1582.3 1434.8 1590 1434.3"/>
<path class="o" d="M1006.7 1464C1008.7 1468.3 1011.1 1472.4 1013.8 1476.2C1016.6 1480 1019.6 1484 1023.3 1486.9C1026.2 1489.1 1029.5 1491.2 1032.9 1492.4C1036.6 1493.7 1040.9 1494.1 1044.8 1494C1049.6 1493.8 1054.5 1492.3 1059 1490.5C1064.1 1488.5 1068.7 1485.1 1073.3 1482.1C1078.3 1478.8 1082.9 1475.1 1087.6 1471.4C1092.5 1467.6 1097 1463.3 1101.9 1459.5C1106.6 1455.8 1111.3 1452.2 1116.2 1448.8C1120.9 1445.5 1125.5 1442 1130.5 1439.3C1135.8 1436.4 1141.4 1434.1 1147.1 1432.1C1152.5 1430.2 1158.2 1428.6 1163.8 1427.4C1169.3 1426.2 1174.9 1425.5 1180.5 1425C1188.4 1424.3 1196.4 1424.6 1204.3 1424.5C1211.2 1424.4 1218.1 1423.9 1225 1424.5C1227.7 1424.7 1230.8 1424.3 1233 1425.5C1234.8 1426.5 1236.3 1428.3 1237.5 1430C1239.5 1432.9 1239.5 1437 1240.5 1440.5C1242.3 1446.8 1244.2 1453.2 1246.2 1459.5C1248.4 1466.3 1250.7 1473.1 1253.3 1479.8C1255.9 1486.6 1258.8 1493.3 1261.7 1500C1264.4 1506.4 1267.1 1512.7 1270 1519C1272.3 1523.8 1274.3 1528.8 1277.1 1533.3C1279.2 1536.7 1281.3 1540.4 1284.3 1542.9C1286.5 1544.6 1289.2 1546.7 1291.8 1547C1294.7 1547.4 1298.1 1545.3 1301 1544C1305.3 1542 1309.2 1538.8 1312.9 1535.7C1317.2 1532.1 1321 1527.9 1324.8 1523.8C1329.8 1518.5 1334.3 1512.7 1339 1507.1C1343.9 1501.2 1348.6 1495.3 1353.3 1489.3C1358.2 1483 1362.8 1476.6 1367.6 1470.2C1372.4 1463.9 1377.1 1457.5 1381.9 1451.2C1386.7 1444.8 1391.4 1438.5 1396.2 1432.1C1401 1425.8 1405.9 1419.5 1410.5 1413.1C1415.4 1406.3 1419.8 1399.2 1424.8 1392.5C1430 1385.6 1435.1 1378.4 1441.4 1372.5C1445.8 1368.4 1450.4 1364.1 1455.7 1361.2C1459.4 1359.2 1463.5 1356.8 1467.6 1356.4C1470.7 1356.1 1474.2 1356.5 1477.1 1357.6C1479.7 1358.6 1482 1360.7 1484.3 1362.4C1487.6 1364.8 1490.9 1367.2 1493.8 1370C1498.3 1374.3 1501.7 1379.7 1505.7 1384.5C1509.6 1389.2 1513.5 1393.9 1517.6 1398.5C1521.5 1402.9 1525.2 1407.5 1529.5 1411.5C1533.2 1414.9 1537.2 1418.1 1541.4 1421C1545.2 1423.6 1549.1 1426.1 1553.3 1428C1557.8 1430.1 1562.7 1431.7 1567.6 1432.8C1574.8 1434.4 1582.3 1434.9 1590 1434.3"/><circle cx="1006.7" cy="1464" r="5" fill="#000090"/><circle cx="1590" cy="1434.3" r="5" fill="#000080"/><path class="c" stroke="url(#g372)" d="M1006.7 1464C1008.5 1467.9 1010.6 1471.6 1013 1475.1"/><path class="c" stroke="url(#g373)" d="M1013 1475.1C1013.3 1475.5 1013.5 1475.8 1013.8 1476.2C1016 1479.3 1018.4 1482.5 1021.2 1485.1"/><path class="c" stroke="url(#g374)" d="M1021.2 1485.1C1021.9 1485.8 1022.6 1486.3 1023.3 1486.9C1025.4 1488.5 1027.6 1490 1030 1491.2"/><path class="c" stroke="url(#g375)" d="M1030 1491.2C1031 1491.6 1031.9 1492.1 1032.9 1492.4C1034.2 1492.9 1035.6 1493.2 1037 1493.5"/><path class="c" stroke="url(#g376)" d="M1037 1493.5C1039.6 1493.9 1042.3 1494.1 1044.8 1494"/><path class="c" stroke="url(#g377)" d="M1044.8 1494C1047.2 1493.9 1049.6 1493.5 1052 1492.9"/><path class="c" stroke="url(#g378)" d="M1052 1492.9C1054.4 1492.2 1056.8 1491.4 1059 1490.5"/><path class="c" stroke="url(#g379)" d="M1059 1490.5C1064.1 1488.5 1068.7 1485.1 1073.3 1482.1C1075.6 1480.6 1077.8 1479 1080 1477.3"/><path class="c" stroke="url(#g380)" d="M1080 1477.3C1082.6 1475.4 1085.1 1473.4 1087.6 1471.4C1092.5 1467.6 1097 1463.3 1101.9 1459.5C1106.6 1455.8 1111.3 1452.2 1116.2 1448.8C1120.9 1445.5 1125.5 1442 1130.5 1439.3"/><path class="c" stroke="#0068ff" d="M1130.5 1439.3C1135.8 1436.4 1141.4 1434.1 1147.1 1432.1C1152.5 1430.2 1158.2 1428.6 1163.8 1427.4C1168.5 1426.4 1173.2 1425.7 1178 1425.2"/><path class="c" stroke="url(#g381)" d="M1178 1425.2C1178.8 1425.2 1179.7 1425.1 1180.5 1425"/><path class="c" stroke="#0040ff" d="M1180.5 1425C1188.4 1424.3 1196.4 1424.6 1204.3 1424.5C1211.2 1424.4 1218.1 1423.9 1225 1424.5C1227.7 1424.7 1230.8 1424.3 1233 1425.5"/><path class="c" stroke="url(#g382)" d="M1233 1425.5C1233.5 1425.8 1234.1 1426.2 1234.6 1426.6"/><path class="c" stroke="url(#g383)" d="M1234.6 1426.6C1235.1 1427 1235.6 1427.5 1236 1428"/><path class="c" stroke="#0000ff" d="M1236 1428C1236.6 1428.7 1237.1 1429.4 1237.5 1430C1239.1 1432.3 1239.4 1435.5 1240 1438.4"/><path class="c" stroke="url(#g384)" d="M1240 1438.4C1240.1 1439.1 1240.3 1439.8 1240.5 1440.5C1241 1442.2 1241.5 1443.9 1242 1445.7"/><path class="c" stroke="#0040ff" d="M1242 1445.7C1243.3 1450.3 1244.7 1454.9 1246.2 1459.5C1248.4 1466.3 1250.7 1473.1 1253.3 1479.8C1254.8 1483.7 1256.4 1487.5 1258 1491.3"/><path class="c" stroke="url(#g385)" d="M1258 1491.3C1258.7 1492.9 1259.3 1494.5 1260 1496"/><path class="c" stroke="#0000f0" d="M1260 1496C1260.6 1497.4 1261.1 1498.7 1261.7 1500C1262.5 1501.8 1263.2 1503.6 1264 1505.4"/><path class="c" stroke="url(#g386)" d="M1264 1505.4C1264.7 1507 1265.3 1508.5 1266 1510.1"/><path class="c" stroke="url(#g387)" d="M1266 1510.1C1267.3 1513.1 1268.6 1516.1 1270 1519C1272.3 1523.8 1274.3 1528.8 1277.1 1533.3"/><path class="c" stroke="url(#g388)" d="M1277.1 1533.3C1278.2 1535 1279.2 1536.8 1280.4 1538.4"/><path class="c" stroke="url(#g389)" d="M1280.4 1538.4C1281.5 1540.1 1282.8 1541.7 1284.3 1542.9"/><path class="c" stroke="url(#g390)" d="M1284.3 1542.9C1285.4 1543.8 1286.6 1544.7 1287.9 1545.5"/><path class="c" stroke="url(#g391)" d="M1287.9 1545.5C1289.2 1546.3 1290.5 1546.8 1291.8 1547"/><path class="c" stroke="url(#g392)" d="M1291.8 1547C1293.3 1547.2 1294.8 1546.8 1296.4 1546.1"/><path class="c" stroke="url(#g393)" d="M1296.4 1546.1C1298 1545.5 1299.6 1544.7 1301 1544"/><path class="c" stroke="#000090" d="M1301 1544C1305.3 1542 1309.2 1538.8 1312.9 1535.7C1317.2 1532.1 1321 1527.9 1324.8 1523.8C1329.8 1518.5 1334.3 1512.7 1339 1507.1C1343.9 1501.2 1348.6 1495.3 1353.3 1489.3C1358.2 1483 1362.8 1476.6 1367.6 1470.2C1371.7 1464.7 1375.9 1459.2 1380 1453.7"/><path class="c" stroke="url(#g394)" d="M1380 1453.7C1380.6 1452.9 1381.3 1452 1381.9 1451.2C1386.7 1444.8 1391.4 1438.5 1396.2 1432.1C1401 1425.8 1405.9 1419.5 1410.5 1413.1C1413.8 1408.6 1416.8 1403.8 1420 1399.2"/><path class="c" stroke="url(#g395)" d="M1420 1399.2C1421.6 1396.9 1423.1 1394.7 1424.8 1392.5C1427.8 1388.6 1430.7 1384.6 1433.8 1380.8"/><path class="c" stroke="url(#g396)" d="M1433.8 1380.8C1436.2 1377.9 1438.7 1375.1 1441.4 1372.5C1443.4 1370.6 1445.5 1368.6 1447.7 1366.8"/><path class="c" stroke="url(#g397)" d="M1447.7 1366.8C1450.2 1364.7 1452.9 1362.8 1455.7 1361.2C1457 1360.5 1458.4 1359.7 1459.8 1359"/><path class="c" stroke="url(#g398)" d="M1459.8 1359C1462.3 1357.7 1464.9 1356.6 1467.6 1356.4C1468.4 1356.3 1469.2 1356.3 1470 1356.3"/><path class="c" stroke="url(#g399)" d="M1470 1356.3C1472.4 1356.3 1474.9 1356.8 1477.1 1357.6C1478.8 1358.3 1480.3 1359.4 1481.8 1360.5"/><path class="c" stroke="url(#g400)" d="M1481.8 1360.5C1482.7 1361.2 1483.5 1361.8 1484.3 1362.4C1487.6 1364.8 1490.9 1367.2 1493.8 1370C1494 1370.2 1494.1 1370.3 1494.3 1370.5"/><path class="c" stroke="url(#g401)" d="M1494.3 1370.5C1498.6 1374.7 1501.8 1379.9 1505.7 1384.5C1507.4 1386.5 1509.1 1388.5 1510.8 1390.6"/><path class="c" stroke="url(#g402)" d="M1510.8 1390.6C1513 1393.2 1515.3 1395.9 1517.6 1398.5C1520.8 1402.1 1523.9 1405.9 1527.3 1409.3"/><path class="c" stroke="url(#g403)" d="M1527.3 1409.3C1528 1410.1 1528.7 1410.8 1529.5 1411.5C1533.2 1414.9 1537.2 1418.1 1541.4 1421C1542.2 1421.6 1543 1422.1 1543.9 1422.7"/><path class="c" stroke="url(#g404)" d="M1543.9 1422.7C1546.9 1424.6 1550 1426.5 1553.3 1428C1556.1 1429.3 1558.9 1430.4 1561.9 1431.3"/><path class="c" stroke="url(#g405)" d="M1561.9 1431.3C1563.8 1431.9 1565.7 1432.4 1567.6 1432.8C1574.8 1434.4 1582.3 1434.9 1590 1434.3"/>
<path class="o" d="M1006.7 1629.7C1010.4 1630 1013.9 1630.8 1017.1 1632.3C1020.2 1633.7 1023.1 1636 1025.7 1638.3C1028.9 1641 1031.7 1644.4 1034.3 1647.7C1037.5 1651.7 1040.3 1656.2 1042.9 1660.6C1046 1665.9 1048.6 1671.4 1051.4 1676.9C1054.3 1682.6 1057.1 1688.3 1060 1694C1062.9 1699.7 1065.8 1705.4 1068.6 1711.1C1071.5 1716.8 1074.1 1722.6 1077.1 1728.3C1079.8 1733.5 1082.5 1738.8 1085.7 1743.7C1088.4 1747.8 1090.9 1752.2 1094.3 1755.7C1096.4 1757.9 1098.5 1760.3 1101.1 1761.7C1103.4 1763 1106.4 1764.4 1108.9 1764.2C1111.2 1764 1113.8 1762.5 1115.7 1761C1118.3 1759.1 1120 1755.9 1121.7 1753.1C1123.5 1750.2 1124.6 1746.9 1126 1743.7C1127.3 1740.6 1128.6 1737.5 1129.8 1734.3C1131.5 1729.8 1132.8 1725.1 1134.3 1720.5C1136.1 1714.9 1137.8 1709.4 1139.5 1703.8C1141.1 1698.6 1142.5 1693.3 1144 1688C1146.1 1680.8 1148.3 1673.7 1150.5 1666.5C1153.3 1657.3 1156.1 1648.1 1159.1 1639C1161.7 1631.1 1164.3 1623.2 1167.3 1615.4C1170.1 1608.1 1173 1600.8 1176.6 1593.8C1179.7 1587.8 1182.8 1581.7 1186.9 1576.3C1189.9 1572.3 1193.3 1568.3 1197.1 1565C1200.3 1562.3 1203.7 1559.6 1207.4 1557.8C1210.9 1556.1 1214.8 1554.9 1218.7 1554.2C1222.9 1553.4 1227.3 1553.5 1231.6 1553.7C1235.5 1553.9 1239.5 1554.6 1243.4 1555.2C1248.6 1555.9 1253.7 1556.9 1258.9 1557.8C1263.3 1558.6 1267.8 1559.2 1272.2 1560.3C1275 1561 1277.9 1561.6 1280.5 1562.9C1282.7 1564 1284.8 1565.4 1286.6 1567C1289 1569 1290.8 1571.7 1292.8 1574.2C1295.4 1577.5 1297.6 1581.1 1300 1584.5C1305.2 1592 1310.4 1599.4 1315.2 1607.1C1319.4 1613.7 1323.2 1620.6 1327.1 1627.4C1331.1 1634.5 1335 1641.7 1339 1648.8C1343 1655.9 1347 1663.1 1351 1670.2C1355 1677.4 1358.7 1684.6 1362.9 1691.7C1366 1696.9 1369.3 1701.9 1372.4 1707.1C1375.7 1712.6 1378.7 1718.2 1381.9 1723.8C1385.1 1729.4 1388.1 1735 1391.4 1740.5C1395.2 1746.9 1399.3 1753.2 1403.3 1759.5C1407.3 1765.9 1411 1772.4 1415.2 1778.6C1419 1784.2 1423 1789.7 1427.1 1795.2C1431 1800.4 1434.8 1805.7 1439 1810.7C1442.8 1815.2 1446.8 1819.6 1451 1823.8C1454.8 1827.5 1458.7 1831.2 1462.9 1834.5C1467.4 1838 1472.2 1841.1 1477.1 1844C1481.7 1846.7 1486.5 1849.2 1491.4 1851.2C1496 1853.1 1500.9 1854.5 1505.7 1856C1511.2 1857.7 1516.8 1859.1 1522.4 1860.7C1527.9 1862.3 1533.5 1863.9 1539 1865.5C1543.8 1866.9 1548.5 1868.1 1553.3 1869.5C1558.1 1870.9 1562.8 1872.6 1567.6 1873.8C1574.9 1875.6 1582.4 1876.8 1590 1877.5"/><circle cx="1006.7" cy="1629.7" r="5" fill="#88ff70"/><circle cx="1590" cy="1877.5" r="5" fill="#00a8ff"/><path class="c" stroke="url(#g406)" d="M1006.7 1629.7C1008.5 1629.8 1010.3 1630.1 1012 1630.5"/><path class="c" stroke="url(#g407)" d="M1012 1630.5C1013.8 1631 1015.5 1631.6 1017.1 1632.3C1017.2 1632.3 1017.2 1632.4 1017.3 1632.4"/><path class="c" stroke="url(#g408)" d="M1017.3 1632.4C1018.9 1633.2 1020.5 1634.2 1022 1635.3"/><path class="c" stroke="url(#g409)" d="M1022 1635.3C1023.3 1636.2 1024.5 1637.3 1025.7 1638.3C1027.2 1639.6 1028.6 1641 1030 1642.5"/><path class="c" stroke="url(#g410)" d="M1030 1642.5C1031.5 1644.2 1032.9 1646 1034.3 1647.7C1036.4 1650.3 1038.2 1653 1040 1655.9"/><path class="c" stroke="url(#g411)" d="M1040 1655.9C1041 1657.4 1042 1659 1042.9 1660.6C1044.7 1663.7 1046.4 1666.9 1048 1670.1"/><path class="c" stroke="url(#g412)" d="M1048 1670.1C1049.1 1672.4 1050.2 1674.6 1051.4 1676.9C1053 1679.9 1054.5 1683 1056 1686"/><path class="c" stroke="url(#g413)" d="M1056 1686C1057.3 1688.7 1058.7 1691.3 1060 1694C1062 1698 1064 1701.9 1066 1705.9"/><path class="c" stroke="url(#g414)" d="M1066 1705.9C1066.9 1707.6 1067.7 1709.4 1068.6 1711.1C1071.1 1716.1 1073.5 1721.2 1076 1726.2"/><path class="c" stroke="url(#g415)" d="M1076 1726.2C1076.4 1726.9 1076.7 1727.6 1077.1 1728.3C1079.8 1733.5 1082.5 1738.8 1085.7 1743.7"/><path class="c" stroke="url(#g416)" d="M1085.7 1743.7C1088.4 1747.8 1090.9 1752.2 1094.3 1755.7"/><path class="c" stroke="url(#g417)" d="M1094.3 1755.7C1096.4 1757.9 1098.5 1760.3 1101.1 1761.7"/><path class="c" stroke="url(#g418)" d="M1101.1 1761.7C1102.3 1762.3 1103.6 1763 1104.9 1763.5"/><path class="c" stroke="url(#g419)" d="M1104.9 1763.5C1106.3 1764 1107.6 1764.3 1108.9 1764.2"/><path class="c" stroke="url(#g420)" d="M1108.9 1764.2C1109.9 1764.1 1111 1763.8 1112 1763.3"/><path class="c" stroke="url(#g421)" d="M1112 1763.3C1113.1 1762.8 1114.1 1762.1 1115 1761.5"/><path class="c" stroke="url(#g422)" d="M1115 1761.5C1115.3 1761.3 1115.5 1761.2 1115.7 1761C1116.5 1760.4 1117.3 1759.6 1118 1758.7"/><path class="c" stroke="url(#g423)" d="M1118 1758.7C1119.4 1757 1120.6 1755 1121.7 1753.1"/><path class="c" stroke="#0000d0" d="M1121.7 1753.1C1123.5 1750.2 1124.6 1746.9 1126 1743.7"/><path class="c" stroke="url(#g424)" d="M1126 1743.7C1126.2 1743.2 1126.4 1742.8 1126.6 1742.3"/><path class="c" stroke="#00b0ff" d="M1126.6 1742.3C1127.3 1740.7 1128 1739.1 1128.6 1737.4"/><path class="c" stroke="url(#g425)" d="M1128.6 1737.4C1128.7 1737.2 1128.8 1736.9 1128.9 1736.7"/><path class="c" stroke="url(#g426)" d="M1128.9 1736.7C1129.2 1735.9 1129.5 1735.1 1129.8 1734.3C1131.5 1729.8 1132.8 1725.1 1134.3 1720.5C1136.1 1714.9 1137.8 1709.4 1139.5 1703.8C1141.1 1698.6 1142.5 1693.3 1144 1688C1144.3 1686.9 1144.7 1685.7 1145 1684.6"/><path class="c" stroke="url(#g427)" d="M1145 1684.6C1146.8 1678.6 1148.6 1672.5 1150.5 1666.5C1153.3 1657.3 1156.1 1648.1 1159.1 1639C1161.7 1631.1 1164.3 1623.2 1167.3 1615.4C1168.2 1613.1 1169.1 1610.8 1170 1608.6"/><path class="c" stroke="url(#g428)" d="M1170 1608.6C1172 1603.5 1174.1 1598.6 1176.6 1593.8C1179.2 1588.8 1181.8 1583.6 1185 1579"/><path class="c" stroke="url(#g429)" d="M1185 1579C1185.6 1578.1 1186.2 1577.2 1186.9 1576.3C1189.4 1573 1192 1569.8 1195 1566.9"/><path class="c" stroke="url(#g430)" d="M1195 1566.9C1195.7 1566.3 1196.4 1565.6 1197.1 1565C1199.6 1562.9 1202.2 1560.8 1205 1559.1"/><path class="c" stroke="url(#g431)" d="M1205 1559.1C1205.8 1558.6 1206.6 1558.2 1207.4 1557.8C1210.5 1556.3 1214 1555.2 1217.4 1554.4"/><path class="c" stroke="url(#g432)" d="M1217.4 1554.4C1217.9 1554.4 1218.3 1554.3 1218.7 1554.2C1222.9 1553.4 1227.3 1553.5 1231.6 1553.7"/><path class="c" stroke="url(#g433)" d="M1231.6 1553.7C1235.5 1553.9 1239.5 1554.6 1243.4 1555.2C1247.8 1555.8 1252.1 1556.6 1256.4 1557.4"/><path class="c" stroke="url(#g434)" d="M1256.4 1557.4C1257.3 1557.5 1258.1 1557.7 1258.9 1557.8C1263.3 1558.6 1267.8 1559.2 1272.2 1560.3C1274.1 1560.8 1276.1 1561.2 1278 1561.9"/><path class="c" stroke="url(#g435)" d="M1278 1561.9C1278.8 1562.2 1279.7 1562.5 1280.5 1562.9C1282.7 1564 1284.8 1565.4 1286.6 1567C1287.8 1568.1 1289 1569.3 1290 1570.6"/><path class="c" stroke="url(#g436)" d="M1290 1570.6C1291 1571.8 1291.9 1573 1292.8 1574.2C1295.4 1577.5 1297.6 1581.1 1300 1584.5C1303.3 1589.3 1306.7 1594.2 1310 1599.1"/><path class="c" stroke="#0010ff" d="M1310 1599.1C1311.8 1601.7 1313.5 1604.4 1315.2 1607.1C1319.4 1613.7 1323.2 1620.6 1327.1 1627.4C1331.1 1634.5 1335 1641.7 1339 1648.8C1339.3 1649.4 1339.7 1650 1340 1650.6"/><path class="c" stroke="url(#g437)" d="M1340 1650.6C1343.7 1657.1 1347.4 1663.7 1351 1670.2C1354 1675.7 1356.9 1681.2 1360 1686.6"/><path class="c" stroke="#0000ff" d="M1360 1686.6C1360.9 1688.3 1361.9 1690 1362.9 1691.7C1365.3 1695.8 1368 1699.9 1370.5 1704"/><path class="c" stroke="url(#g438)" d="M1370.5 1704C1370.8 1704.5 1371.2 1705.1 1371.5 1705.6"/><path class="c" stroke="#0090ff" d="M1371.5 1705.6C1371.8 1706.1 1372.1 1706.6 1372.4 1707.1C1372.8 1707.7 1373.1 1708.3 1373.5 1709"/><path class="c" stroke="url(#g439)" d="M1373.5 1709C1373.8 1709.5 1374.2 1710.1 1374.5 1710.7"/><path class="c" stroke="url(#g440)" d="M1374.5 1710.7C1377 1715 1379.4 1719.4 1381.9 1723.8C1382.9 1725.6 1384 1727.5 1385 1729.3"/><path class="c" stroke="url(#g441)" d="M1385 1729.3C1387.1 1733.1 1389.2 1736.8 1391.4 1740.5C1395.2 1746.9 1399.3 1753.2 1403.3 1759.5C1407.3 1765.9 1411 1772.4 1415.2 1778.6C1419 1784.2 1423 1789.7 1427.1 1795.2C1431 1800.4 1434.8 1805.7 1439 1810.7C1442.5 1814.9 1446.2 1818.9 1450 1822.8"/><path class="c" stroke="url(#g442)" d="M1450 1822.8C1450.3 1823.1 1450.7 1823.5 1451 1823.8C1454.8 1827.5 1458.7 1831.2 1462.9 1834.5C1465.2 1836.3 1467.6 1838 1470 1839.6"/><path class="c" stroke="url(#g443)" d="M1470 1839.6C1472.3 1841.1 1474.7 1842.6 1477.1 1844C1481.3 1846.4 1485.6 1848.7 1490 1850.6"/><path class="c" stroke="url(#g444)" d="M1490 1850.6C1490.5 1850.8 1490.9 1851 1491.4 1851.2C1496 1853.1 1500.9 1854.5 1505.7 1856C1507.1 1856.4 1508.6 1856.9 1510 1857.3"/><path class="c" stroke="url(#g445)" d="M1510 1857.3C1514.1 1858.4 1518.3 1859.5 1522.4 1860.7C1524.9 1861.4 1527.5 1862.2 1530 1862.9"/><path class="c" stroke="url(#g446)" d="M1530 1862.9C1533 1863.8 1536 1864.6 1539 1865.5C1542.7 1866.5 1546.3 1867.5 1550 1868.6"/><path class="c" stroke="url(#g447)" d="M1550 1868.6C1551.1 1868.9 1552.2 1869.2 1553.3 1869.5C1558.1 1870.9 1562.8 1872.6 1567.6 1873.8C1568.4 1874 1569.2 1874.2 1570 1874.4"/><path class="c" stroke="url(#g448)" d="M1570 1874.4C1576.6 1875.9 1583.2 1876.9 1590 1877.5"/>
<path class="o" d="M1040 2041C1042.7 2037 1045.4 2033 1048.3 2029.1C1050 2026.8 1051.8 2024.6 1053.4 2022.3C1056.5 2017.9 1059.1 2013.2 1062 2008.6C1064.9 2004 1067.9 1999.5 1070.6 1994.9C1073.6 1989.8 1076.4 1984.6 1079.1 1979.4C1082.1 1973.8 1084.8 1968 1087.7 1962.3C1090.6 1956.6 1093.5 1950.9 1096.3 1945.1C1099.3 1938.9 1102.1 1932.6 1104.9 1926.3C1107.8 1920 1110.6 1913.7 1113.4 1907.4C1116.4 1900.6 1119.2 1893.7 1122 1886.9C1124.3 1881.3 1126.7 1875.6 1129 1870C1132 1862.6 1135.1 1855.2 1138 1847.7C1140.4 1841.5 1142.6 1835.2 1144.9 1828.9C1147.2 1822.6 1149.4 1816.3 1151.7 1810C1154 1803.7 1156.3 1797.4 1158.6 1791.1C1160.6 1785.7 1162.6 1780.3 1164.6 1774.9C1166 1771.2 1167.5 1767.4 1168.9 1763.7C1171.2 1757.7 1173.3 1751.7 1175.7 1745.7C1178.2 1739.4 1180.8 1733.2 1183.4 1727C1186.1 1720.7 1188.8 1714.4 1191.5 1708C1193.9 1702.3 1195.9 1696.6 1198.5 1691C1200.4 1686.9 1202.3 1682.9 1204.5 1679C1206.6 1675.4 1208.8 1671.7 1211.5 1668.5C1214.1 1665.4 1217 1662.1 1220.5 1660C1223.8 1658 1227.8 1656.3 1231.6 1656C1235.5 1655.7 1239.8 1656.9 1243.4 1658.6C1246.9 1660.2 1249.9 1663.1 1252.7 1665.8C1255.8 1668.8 1258.5 1672.5 1260.9 1676.1C1263.3 1679.7 1265.2 1683.5 1267.1 1687.4C1269 1691.4 1270.6 1695.6 1272.2 1699.7C1274 1704.4 1275.5 1709.2 1277.1 1714C1279.7 1722 1282 1730 1284.3 1738.1C1286.3 1745.2 1288.1 1752.4 1290.2 1759.5C1291.4 1763.3 1292.6 1767.1 1293.8 1770.9C1295.7 1777.2 1297.6 1783.6 1299.3 1790C1301.3 1797.3 1302.9 1804.7 1304.7 1812.1C1306.9 1821.5 1308.8 1830.9 1311.2 1840.3C1313.2 1848.3 1315.4 1856.3 1317.7 1864.2C1319.8 1871.5 1321.9 1878.7 1324.2 1885.9C1326.3 1892.5 1328.4 1899 1330.7 1905.5C1332.8 1911.3 1335 1917.2 1337.3 1922.9C1339.4 1928 1341.5 1933.1 1343.8 1938.1C1345.8 1942.5 1347.9 1946.9 1350.3 1951.1C1352.9 1955.6 1355.8 1960 1359 1964.1C1362.3 1968.3 1365.9 1972.4 1369.8 1976.1C1373.2 1979.3 1376.8 1982.3 1380.7 1984.8C1384.8 1987.4 1389.2 1989.5 1393.7 1991.3C1398.6 1993.2 1403.8 1994.3 1408.9 1995.6C1413.9 1996.9 1419 1997.7 1424.1 1998.9C1428.5 1999.9 1432.9 2000.7 1437.2 2002.1C1441.7 2003.6 1445.9 2005.6 1450.2 2007.6C1454.6 2009.6 1458.9 2011.8 1463.2 2014.1C1467.6 2016.5 1472 2018.9 1476.2 2021.7C1479.2 2023.7 1482.1 2025.9 1484.9 2028.2C1488.4 2031 1491.7 2033.9 1495 2037"/><circle cx="1040" cy="2041" r="5" fill="#00c0ff"/><circle cx="1495" cy="2037" r="5" fill="#40ffc0"/><path class="c" stroke="url(#g449)" d="M1040 2041C1042.7 2037 1045.4 2033 1048.3 2029.1C1048.9 2028.3 1049.4 2027.6 1050 2026.8"/><path class="c" stroke="url(#g450)" d="M1050 2026.8C1051.1 2025.3 1052.3 2023.8 1053.4 2022.3C1056.5 2017.9 1059.1 2013.2 1062 2008.6"/><path class="c" stroke="url(#g451)" d="M1062 2008.6C1064.9 2004 1067.9 1999.5 1070.6 1994.9C1072.1 1992.3 1073.6 1989.7 1075 1987.1"/><path class="c" stroke="url(#g452)" d="M1075 1987.1C1076.4 1984.5 1077.7 1982 1079.1 1979.4C1082.1 1973.8 1084.8 1968 1087.7 1962.3C1088.5 1960.8 1089.2 1959.3 1090 1957.7"/><path class="c" stroke="url(#g453)" d="M1090 1957.7C1092.1 1953.5 1094.3 1949.3 1096.3 1945.1C1097.6 1942.5 1098.8 1939.8 1100 1937.2"/><path class="c" stroke="url(#g454)" d="M1100 1937.2C1101.6 1933.5 1103.3 1929.9 1104.9 1926.3C1106.6 1922.6 1108.3 1918.8 1110 1915.1"/><path class="c" stroke="url(#g455)" d="M1110 1915.1C1111.1 1912.5 1112.3 1910 1113.4 1907.4C1116.4 1900.6 1119.2 1893.7 1122 1886.9C1123 1884.5 1124 1882.1 1125 1879.7"/><path class="c" stroke="#0000ff" d="M1125 1879.7C1126.3 1876.5 1127.7 1873.2 1129 1870C1132 1862.6 1135.1 1855.2 1138 1847.7C1140.4 1841.5 1142.6 1835.2 1144.9 1828.9C1147.2 1822.6 1149.4 1816.3 1151.7 1810C1154 1803.7 1156.3 1797.4 1158.6 1791.1C1159.2 1789.4 1159.9 1787.7 1160.5 1785.9"/><path class="c" stroke="url(#g456)" d="M1160.5 1785.9C1160.8 1785 1161.2 1784.1 1161.5 1783.2"/><path class="c" stroke="#00c0ff" d="M1161.5 1783.2C1162.5 1780.4 1163.6 1777.7 1164.6 1774.9C1165.1 1773.7 1165.5 1772.5 1166 1771.2"/><path class="c" stroke="url(#g457)" d="M1166 1771.2C1166.3 1770.4 1166.7 1769.5 1167 1768.6"/><path class="c" stroke="url(#g458)" d="M1167 1768.6C1167.6 1767 1168.3 1765.3 1168.9 1763.7C1171.2 1757.7 1173.3 1751.7 1175.7 1745.7C1178.2 1739.4 1180.8 1733.2 1183.4 1727C1183.9 1725.7 1184.5 1724.5 1185 1723.2"/><path class="c" stroke="url(#g459)" d="M1185 1723.2C1187.2 1718.1 1189.4 1713.1 1191.5 1708C1193.9 1702.3 1195.9 1696.6 1198.5 1691C1199 1689.9 1199.5 1688.8 1200 1687.8"/><path class="c" stroke="url(#g460)" d="M1200 1687.8C1201.4 1684.8 1202.8 1681.8 1204.5 1679C1204.9 1678.3 1205.3 1677.6 1205.8 1676.8"/><path class="c" stroke="url(#g461)" d="M1205.8 1676.8C1207.5 1673.9 1209.3 1671.1 1211.5 1668.5C1211.9 1668.1 1212.2 1667.7 1212.6 1667.2"/><path class="c" stroke="url(#g462)" d="M1212.6 1667.2C1214.9 1664.5 1217.5 1661.8 1220.5 1660C1220.7 1659.9 1220.9 1659.7 1221.2 1659.6"/><path class="c" stroke="url(#g463)" d="M1221.2 1659.6C1224.3 1657.8 1228.1 1656.2 1231.6 1656"/><path class="c" stroke="url(#g464)" d="M1231.6 1656C1234.5 1655.8 1237.7 1656.4 1240.6 1657.5"/><path class="c" stroke="url(#g465)" d="M1240.6 1657.5C1241.6 1657.8 1242.5 1658.2 1243.4 1658.6C1245.1 1659.4 1246.8 1660.6 1248.3 1661.8"/><path class="c" stroke="url(#g466)" d="M1248.3 1661.8C1249.9 1663.1 1251.3 1664.5 1252.7 1665.8C1253.5 1666.6 1254.3 1667.4 1255 1668.2"/><path class="c" stroke="url(#g467)" d="M1255 1668.2C1257.2 1670.7 1259.1 1673.4 1260.9 1676.1C1261.3 1676.7 1261.6 1677.2 1262 1677.8"/><path class="c" stroke="url(#g468)" d="M1262 1677.8C1263.9 1680.9 1265.5 1684.1 1267.1 1687.4C1269 1691.4 1270.6 1695.6 1272.2 1699.7"/><path class="c" stroke="url(#g469)" d="M1272.2 1699.7C1274 1704.4 1275.5 1709.2 1277.1 1714C1278.1 1717.1 1279.1 1720.2 1280 1723.3"/><path class="c" stroke="url(#g470)" d="M1280 1723.3C1281.5 1728.2 1282.9 1733.2 1284.3 1738.1C1285.6 1742.6 1286.8 1747.2 1288 1751.7"/><path class="c" stroke="url(#g471)" d="M1288 1751.7C1288.7 1754.3 1289.4 1756.9 1290.2 1759.5C1291.4 1763.3 1292.6 1767.1 1293.8 1770.9C1294.2 1772.2 1294.6 1773.5 1295 1774.9"/><path class="c" stroke="url(#g472)" d="M1295 1774.9C1295.3 1776 1295.7 1777.1 1296 1778.2"/><path class="c" stroke="#20f0d8" d="M1296 1778.2C1296.9 1781.2 1297.7 1784.1 1298.5 1787"/><path class="c" stroke="url(#g473)" d="M1298.5 1787C1298.8 1788 1299 1789 1299.3 1790"/><path class="c" stroke="url(#g474)" d="M1299.3 1790C1301.3 1797.3 1302.9 1804.7 1304.7 1812.1C1305.5 1815.4 1306.3 1818.8 1307 1822.2"/><path class="c" stroke="url(#g475)" d="M1307 1822.2C1308.4 1828.2 1309.7 1834.3 1311.2 1840.3C1311.5 1841.3 1311.7 1842.4 1312 1843.4"/><path class="c" stroke="url(#g476)" d="M1312 1843.4C1313.8 1850.4 1315.7 1857.3 1317.7 1864.2"/><path class="c" stroke="url(#g477)" d="M1317.7 1864.2C1319.8 1871.5 1321.9 1878.7 1324.2 1885.9"/><path class="c" stroke="url(#g478)" d="M1324.2 1885.9C1326.3 1892.5 1328.4 1899 1330.7 1905.5"/><path class="c" stroke="url(#g479)" d="M1330.7 1905.5C1332.8 1911.3 1335 1917.2 1337.3 1922.9C1337.5 1923.5 1337.8 1924.1 1338 1924.6"/><path class="c" stroke="url(#g480)" d="M1338 1924.6C1339.8 1929.2 1341.7 1933.7 1343.8 1938.1C1344.2 1939 1344.6 1939.8 1345 1940.7"/><path class="c" stroke="#88ff70" d="M1345 1940.7C1346.7 1944.2 1348.4 1947.7 1350.3 1951.1C1352.9 1955.6 1355.8 1960 1359 1964.1C1359.3 1964.5 1359.7 1964.9 1360 1965.4"/><path class="c" stroke="url(#g481)" d="M1360 1965.4C1362.5 1968.5 1365.2 1971.5 1368 1974.4"/><path class="c" stroke="url(#g482)" d="M1368 1974.4C1368.6 1975 1369.2 1975.5 1369.8 1976.1C1372.4 1978.5 1375.1 1980.9 1378 1983"/><path class="c" stroke="url(#g483)" d="M1378 1983C1378.9 1983.6 1379.8 1984.2 1380.7 1984.8C1383 1986.3 1385.5 1987.6 1388 1988.8"/><path class="c" stroke="url(#g484)" d="M1388 1988.8C1389.9 1989.7 1391.8 1990.5 1393.7 1991.3C1395.8 1992.1 1397.9 1992.8 1400 1993.4"/><path class="c" stroke="url(#g485)" d="M1400 1993.4C1402.9 1994.2 1405.9 1994.9 1408.9 1995.6C1412.6 1996.5 1416.3 1997.2 1420 1998"/><path class="c" stroke="url(#g486)" d="M1420 1998C1421.4 1998.3 1422.7 1998.6 1424.1 1998.9C1428.5 1999.9 1432.9 2000.7 1437.2 2002.1C1438.1 2002.4 1439.1 2002.7 1440 2003.1"/><path class="c" stroke="url(#g487)" d="M1440 2003.1C1443.5 2004.4 1446.8 2006 1450.2 2007.6C1453.5 2009.1 1456.8 2010.7 1460 2012.4"/><path class="c" stroke="#40ffc0" d="M1460 2012.4C1461.1 2013 1462.1 2013.5 1463.2 2014.1C1467.6 2016.5 1472 2018.9 1476.2 2021.7C1479.2 2023.7 1482.1 2025.9 1484.9 2028.2C1488.4 2031 1491.7 2033.9 1495 2037"/>
<path class="o" d="M1096 2041C1096.7 2037 1097.3 2033.1 1098 2029.1C1099.1 2022.3 1100.2 2015.4 1101.4 2008.6C1103 2000 1104.8 1991.4 1106.6 1982.9C1108.2 1975.4 1109.7 1968 1111.7 1960.6C1113.3 1954.8 1114.6 1948.9 1116.9 1943.4C1118.4 1939.9 1119.7 1936.1 1122 1933.1C1123.5 1931.2 1125.1 1929.2 1127.1 1928C1129.1 1926.8 1131.7 1925.9 1134 1926C1136.3 1926.1 1138.8 1927.7 1140.9 1928.9C1144.2 1930.8 1146.7 1933.9 1149.4 1936.6C1153.1 1940.3 1156.4 1944.5 1159.7 1948.6C1163.8 1953.6 1167.8 1958.8 1171.7 1964C1175.8 1969.4 1179.6 1975 1183.7 1980.3C1187.6 1985.3 1191.5 1990.3 1195.7 1994.9C1199.5 1999.1 1203.2 2003.6 1207.7 2006.9C1211.4 2009.6 1215.4 2012.1 1219.7 2013.7C1223.3 2015.1 1227.4 2016.3 1231.2 2016.3C1235.5 2016.3 1239.8 2014.5 1243.9 2013C1249.2 2011 1254.1 2007.7 1259.1 2005C1264.2 2002.3 1269 1999 1274.3 1996.7C1279.2 1994.5 1284.3 1992.7 1289.5 1991.3C1294.5 1990 1299.6 1988.9 1304.7 1988.4C1309.7 1987.9 1314.8 1987.8 1319.9 1988C1325 1988.2 1330.1 1988.7 1335.1 1989.7C1340.3 1990.8 1345.4 1992.5 1350.3 1994.5C1354.8 1996.3 1359.1 1998.6 1363.3 2001C1367.8 2003.6 1372.1 2006.7 1376.4 2009.7C1380.8 2012.8 1385.1 2016.2 1389.4 2019.5C1393 2022.3 1396.6 2025.3 1400.2 2028.2C1404.2 2031.4 1408.1 2034.7 1412 2038"/><circle cx="1096" cy="2041" r="5" fill="#0010ff"/><circle cx="1412" cy="2038" r="5" fill="#90ff68"/><path class="c" stroke="url(#g488)" d="M1096 2041C1096.7 2037 1097.3 2033.1 1098 2029.1C1099 2023 1099.9 2016.9 1101 2010.8"/><path class="c" stroke="url(#g489)" d="M1101 2010.8C1101.1 2010.1 1101.3 2009.3 1101.4 2008.6C1102.2 2004.1 1103.1 1999.7 1104 1995.2"/><path class="c" stroke="url(#g490)" d="M1104 1995.2C1104.8 1991.1 1105.7 1987 1106.6 1982.9C1107.7 1977.7 1108.8 1972.5 1110 1967.4"/><path class="c" stroke="url(#g491)" d="M1110 1967.4C1110.5 1965.1 1111.1 1962.8 1111.7 1960.6C1113 1955.6 1114.2 1950.5 1116 1945.7"/><path class="c" stroke="url(#g492)" d="M1116 1945.7C1116.3 1944.9 1116.6 1944.2 1116.9 1943.4C1117.5 1941.9 1118.1 1940.3 1118.8 1938.8"/><path class="c" stroke="url(#g493)" d="M1118.8 1938.8C1119.7 1936.8 1120.7 1934.8 1122 1933.1"/><path class="c" stroke="url(#g494)" d="M1122 1933.1C1122.7 1932.2 1123.5 1931.2 1124.3 1930.3"/><path class="c" stroke="url(#g495)" d="M1124.3 1930.3C1125.2 1929.4 1126.1 1928.6 1127.1 1928"/><path class="c" stroke="url(#g496)" d="M1127.1 1928C1128.1 1927.4 1129.3 1926.9 1130.5 1926.5"/><path class="c" stroke="url(#g497)" d="M1130.5 1926.5C1131.6 1926.1 1132.9 1925.9 1134 1926"/><path class="c" stroke="url(#g498)" d="M1134 1926C1135.1 1926.1 1136.3 1926.4 1137.4 1927"/><path class="c" stroke="url(#g499)" d="M1137.4 1927C1138.6 1927.5 1139.7 1928.2 1140.7 1928.8"/><path class="c" stroke="url(#g500)" d="M1140.7 1928.8C1140.8 1928.8 1140.8 1928.9 1140.9 1928.9C1142.4 1929.8 1143.7 1930.9 1145 1932.1"/><path class="c" stroke="#20ffe0" d="M1145 1932.1C1146.5 1933.5 1147.9 1935.1 1149.4 1936.6C1153.1 1940.3 1156.4 1944.5 1159.7 1948.6C1163.8 1953.6 1167.8 1958.8 1171.7 1964C1172.8 1965.5 1173.9 1967 1175 1968.5"/><path class="c" stroke="url(#g501)" d="M1175 1968.5C1177.9 1972.4 1180.7 1976.4 1183.7 1980.3C1185.8 1983 1187.9 1985.6 1190 1988.3"/><path class="c" stroke="url(#g502)" d="M1190 1988.3C1191.8 1990.5 1193.7 1992.7 1195.7 1994.9C1198.7 1998.2 1201.7 2001.7 1205 2004.7"/><path class="c" stroke="url(#g503)" d="M1205 2004.7C1205.9 2005.5 1206.8 2006.2 1207.7 2006.9C1209.6 2008.3 1211.7 2009.7 1213.8 2010.9"/><path class="c" stroke="url(#g504)" d="M1213.8 2010.9C1215.7 2012 1217.7 2013 1219.7 2013.7C1220.7 2014.1 1221.7 2014.4 1222.7 2014.7"/><path class="c" stroke="url(#g505)" d="M1222.7 2014.7C1225.5 2015.6 1228.4 2016.3 1231.2 2016.3"/><path class="c" stroke="url(#g506)" d="M1231.2 2016.3C1235.5 2016.3 1239.8 2014.5 1243.9 2013"/><path class="c" stroke="url(#g507)" d="M1243.9 2013C1249.2 2011 1254.1 2007.7 1259.1 2005"/><path class="c" stroke="url(#g508)" d="M1259.1 2005C1264.2 2002.3 1269 1999 1274.3 1996.7C1279.2 1994.5 1284.3 1992.7 1289.5 1991.3"/><path class="c" stroke="url(#g509)" d="M1289.5 1991.3C1294.5 1990 1299.6 1988.9 1304.7 1988.4C1309.7 1987.9 1314.8 1987.8 1319.9 1988"/><path class="c" stroke="url(#g510)" d="M1319.9 1988C1325 1988.2 1330.1 1988.7 1335.1 1989.7C1336.7 1990 1338.4 1990.5 1340 1990.9"/><path class="c" stroke="url(#g511)" d="M1340 1990.9C1343.5 1991.9 1347 1993.1 1350.3 1994.5C1350.9 1994.7 1351.4 1995 1352 1995.2"/><path class="c" stroke="url(#g512)" d="M1352 1995.2C1355.4 1996.7 1358.8 1998.4 1362 2000.3"/><path class="c" stroke="url(#g513)" d="M1362 2000.3C1362.4 2000.5 1362.9 2000.8 1363.3 2001C1366.3 2002.7 1369.2 2004.6 1372 2006.6"/><path class="c" stroke="url(#g514)" d="M1372 2006.6C1373.5 2007.6 1374.9 2008.7 1376.4 2009.7C1379.3 2011.8 1382.2 2013.9 1385 2016.1"/><path class="c" stroke="url(#g515)" d="M1385 2016.1C1386.5 2017.2 1387.9 2018.4 1389.4 2019.5C1391.3 2021 1393.1 2022.5 1395 2024"/><path class="c" stroke="#90ff68" d="M1395 2024C1396.7 2025.4 1398.5 2026.8 1400.2 2028.2C1404.2 2031.4 1408.1 2034.7 1412 2038"/>
<path class="o" d="M1180 2039.6C1185.1 2036.6 1190.3 2034.1 1195.7 2032C1201.4 2029.8 1207.5 2028 1213.5 2026.8C1219.3 2025.7 1225.3 2025 1231.2 2025C1237.1 2025 1243.2 2025.7 1249 2026.8C1255 2028 1261 2029.8 1266.7 2032C1272 2034 1277.1 2036.5 1282 2039.3"/><circle cx="1180" cy="2039.6" r="5" fill="#ffc400"/><circle cx="1282" cy="2039.3" r="5" fill="#ffc400"/><path class="c" stroke="#ffc400" d="M1180 2039.6C1185.1 2036.6 1190.3 2034.1 1195.7 2032C1201.4 2029.8 1207.5 2028 1213.5 2026.8C1219.3 2025.7 1225.3 2025 1231.2 2025C1237.1 2025 1243.2 2025.7 1249 2026.8C1255 2028 1261 2029.8 1266.7 2032C1272 2034 1277.1 2036.5 1282 2039.3"/>
<path class="o" d="M790 2042.2C794.4 2038.4 799 2034.9 803.8 2031.8C809 2028.4 814.4 2025.3 820 2022.8C825.1 2020.6 830.5 2018.6 836 2017.4C841.6 2016.1 847.5 2015.4 853.3 2015.4C858.9 2015.4 864.6 2016.1 870 2017.3C875.8 2018.6 881.6 2020.6 887 2023C892.6 2025.4 897.9 2028.6 903 2031.9C907.9 2035.1 912.6 2038.7 917 2042.6"/><circle cx="790" cy="2042.2" r="5" fill="#28ffd0"/><circle cx="917" cy="2042.6" r="5" fill="#28ffd0"/><path class="c" stroke="#28ffd0" d="M790 2042.2C794.4 2038.4 799 2034.9 803.8 2031.8C809 2028.4 814.4 2025.3 820 2022.8C825.1 2020.6 830.5 2018.6 836 2017.4C841.6 2016.1 847.5 2015.4 853.3 2015.4C858.9 2015.4 864.6 2016.1 870 2017.3C875.8 2018.6 881.6 2020.6 887 2023C892.6 2025.4 897.9 2028.6 903 2031.9C907.9 2035.1 912.6 2038.7 917 2042.6"/>
<path class="o" d="M1315 36C1316.8 41.3 1319.1 46.3 1321.9 51C1324.5 55.5 1327.1 60.7 1331.1 63.9C1333.9 66.1 1337.5 67.9 1341 69C1344.4 70.1 1348.2 70.7 1351.7 70.6C1355.5 70.4 1359.4 69.2 1363 67.8C1367.4 66.1 1371.4 63.4 1375.4 60.9C1380 57.9 1384.5 54.6 1388.7 51C1393.4 47 1397.9 42.7 1402 38"/><circle cx="1315" cy="36" r="5" fill="#0000ff"/><circle cx="1402" cy="38" r="5" fill="#0000ff"/><path class="c" stroke="#0000ff" d="M1315 36C1316.8 41.3 1319.1 46.3 1321.9 51C1324.5 55.5 1327.1 60.7 1331.1 63.9C1333.9 66.1 1337.5 67.9 1341 69C1344.4 70.1 1348.2 70.7 1351.7 70.6C1355.5 70.4 1359.4 69.2 1363 67.8C1367.4 66.1 1371.4 63.4 1375.4 60.9C1380 57.9 1384.5 54.6 1388.7 51C1393.4 47 1397.9 42.7 1402 38"/>
<path class="o" d="M1340 40C1344.1 44.2 1348.5 47.8 1353.3 51C1357.3 53.7 1361.6 56.1 1366 58C1370.5 59.9 1375.2 61.6 1380 62.5C1384.2 63.3 1388.6 63.7 1392.9 63.7C1397.3 63.7 1401.7 63.2 1406 62.3C1410.8 61.3 1415.4 59.5 1420 57.8C1425.3 55.8 1430.4 53.5 1435.5 51C1442.2 47.7 1448.7 44 1455 40"/><circle cx="1340" cy="40" r="5" fill="#0000d0"/><circle cx="1455" cy="40" r="5" fill="#0000d0"/><path class="c" stroke="#0000d0" d="M1340 40C1344.1 44.2 1348.5 47.8 1353.3 51C1357.3 53.7 1361.6 56.1 1366 58C1370.5 59.9 1375.2 61.6 1380 62.5C1384.2 63.3 1388.6 63.7 1392.9 63.7C1397.3 63.7 1401.7 63.2 1406 62.3C1410.8 61.3 1415.4 59.5 1420 57.8C1425.3 55.8 1430.4 53.5 1435.5 51C1442.2 47.7 1448.7 44 1455 40"/>
<path class="o" d="M283.5 20C285.7 30.3 287.8 40.5 290 50.8C292.8 63.8 294.6 77 298.3 89.7C301.3 100 305.3 109.9 308.9 120C311.4 126.9 313.9 133.8 316.5 140.6C319.2 147.5 321.8 154.4 324.8 161.1C326.9 165.7 328.9 170.4 331.3 174.9C333.8 179.6 336.2 184.4 339.4 188.6C341.2 191 342.9 193.7 345.3 195.4C347 196.6 349 197.6 351 198.3C353 199 355.2 199.4 357.3 199.4C359.4 199.4 361.5 198.9 363.5 198.3C365.5 197.6 367.5 196.6 369.3 195.4C372.1 193.6 374.5 191 376.8 188.6C380.6 184.5 383.6 179.6 386.7 174.9C389.7 170.4 392.5 165.7 395.3 161.1C398.1 156.6 400.8 152 403.5 147.4C406.1 142.9 408.6 138.3 411.1 133.7C413.6 129.2 415.9 124.6 418.3 120C423.5 110 428.7 99.9 433.5 89.7C439.5 76.9 445 63.9 450.4 50.8C454.4 41.2 458.2 31.6 462 22"/><circle cx="283.5" cy="20" r="5" fill="#0000f8"/><circle cx="462" cy="22" r="5" fill="#0030ff"/><path class="c" stroke="url(#g516)" d="M283.5 20C285.7 30.3 287.8 40.5 290 50.8C292.8 63.8 294.6 77 298.3 89.7"/><path class="c" stroke="url(#g517)" d="M298.3 89.7C301.3 100 305.3 109.9 308.9 120C311.4 126.9 313.9 133.8 316.5 140.6"/><path class="c" stroke="url(#g518)" d="M316.5 140.6C319.2 147.5 321.8 154.4 324.8 161.1C326.9 165.7 328.9 170.4 331.3 174.9"/><path class="c" stroke="url(#g519)" d="M331.3 174.9C333.8 179.6 336.2 184.4 339.4 188.6C341.2 191 342.9 193.7 345.3 195.4"/><path class="c" stroke="#0000ff" d="M345.3 195.4C347 196.6 349 197.6 351 198.3C353 199 355.2 199.4 357.3 199.4"/><path class="c" stroke="url(#g520)" d="M357.3 199.4C359.4 199.4 361.5 198.9 363.5 198.3C364.3 198 365.1 197.7 365.9 197.3"/><path class="c" stroke="url(#g521)" d="M365.9 197.3C367 196.8 368.2 196.1 369.3 195.4C371.5 194 373.4 192.1 375.3 190.2"/><path class="c" stroke="url(#g522)" d="M375.3 190.2C375.8 189.7 376.3 189.1 376.8 188.6C380.6 184.5 383.6 179.6 386.7 174.9C387.2 174.1 387.8 173.3 388.3 172.5"/><path class="c" stroke="url(#g523)" d="M388.3 172.5C390.7 168.8 393 164.9 395.3 161.1C396.9 158.5 398.4 155.9 400 153.3"/><path class="c" stroke="url(#g524)" d="M400 153.3C401.2 151.4 402.4 149.4 403.5 147.4C406.1 142.9 408.6 138.3 411.1 133.7C413.6 129.2 415.9 124.6 418.3 120C423.5 110 428.7 99.9 433.5 89.7C439.5 76.9 445 63.9 450.4 50.8"/><path class="c" stroke="#0030ff" d="M450.4 50.8C454.4 41.2 458.2 31.6 462 22"/>
<path class="o" d="M229 1418C230.3 1421.5 231.7 1425.1 233 1428.6C236.6 1438.1 240.7 1447.4 243.8 1457.1C248 1470.3 250.2 1484.1 253.3 1497.6C257.3 1515.1 261.5 1532.5 265.2 1550C268.6 1565.8 271.5 1581.7 274.8 1597.6C277.9 1612.7 281.3 1627.8 284.3 1642.9C286.8 1655.2 288.8 1667.6 291.4 1679.8C292.9 1686.6 294.6 1693.2 296 1700C297.5 1707.1 298.9 1714.3 300.3 1721.4C301.7 1728.6 303.2 1735.7 304.6 1742.9C306 1750 307.5 1757.2 308.9 1764.3C309.7 1768.6 310.4 1772.9 311.4 1777.1C312.4 1781.4 313.9 1785.7 314.9 1790C316.3 1795.6 317.2 1801.4 318.3 1807.1C319.7 1814.3 321.1 1821.5 322.6 1828.6C324 1834.9 325.4 1841.1 326.9 1847.4C328.5 1854.3 330.1 1861.2 332 1868C334.3 1876.1 337.3 1884 340 1892C342.8 1900.3 345.5 1908.8 348.6 1917C351.3 1924.1 353.8 1931.2 357.1 1938C359.7 1943.3 362.5 1948.5 365.7 1953.5C368.3 1957.6 371.1 1961.8 374.3 1965.5C376.9 1968.5 379.8 1971.4 382.9 1974C385.6 1976.2 388.4 1978.3 391.4 1980C396.6 1982.9 402.7 1984.3 408.6 1985.6C414.2 1986.8 420 1987.4 425.7 1987.7C431.4 1988 437.2 1987.8 442.9 1987.7C448.6 1987.6 454.3 1987.2 460 1986.9C465.7 1986.6 471.4 1986.1 477.1 1986C482.8 1985.9 488.6 1986.4 494.3 1986.5C498.8 1986.6 503.2 1986.6 507.7 1986.5"/><circle cx="229" cy="1418" r="5" fill="#0040ff"/><circle cx="507.7" cy="1986.5" r="5" fill="#0030ff"/><path class="c" stroke="url(#g525)" d="M229 1418C230.3 1421.5 231.7 1425.1 233 1428.6C236.6 1438.1 240.7 1447.4 243.8 1457.1C248 1470.3 250.2 1484.1 253.3 1497.6C257.3 1515.1 261.5 1532.5 265.2 1550C268.6 1565.8 271.5 1581.7 274.8 1597.6C277.9 1612.7 281.3 1627.8 284.3 1642.9C286.3 1652.9 288 1663 290 1673"/><path class="c" stroke="url(#g526)" d="M290 1673C290.4 1675.3 290.9 1677.5 291.4 1679.8C291.8 1681.4 292.1 1683.1 292.5 1684.7"/><path class="c" stroke="#0000ff" d="M292.5 1684.7C293.7 1689.8 294.9 1694.9 296 1700C297.5 1707.1 298.9 1714.3 300.3 1721.4C301.7 1728.6 303.2 1735.7 304.6 1742.9C306 1750 307.5 1757.2 308.9 1764.3C309.7 1768.6 310.4 1772.9 311.4 1777.1"/><path class="c" stroke="url(#g527)" d="M311.4 1777.1C311.6 1777.9 311.8 1778.7 312 1779.5"/><path class="c" stroke="#00b0ff" d="M312 1779.5C312.9 1783 314.1 1786.5 314.9 1790"/><path class="c" stroke="url(#g528)" d="M314.9 1790C315.1 1790.9 315.3 1791.8 315.5 1792.6"/><path class="c" stroke="url(#g529)" d="M315.5 1792.6C316.5 1797.4 317.3 1802.3 318.3 1807.1C319.7 1814.3 321.1 1821.5 322.6 1828.6C324 1834.9 325.4 1841.1 326.9 1847.4C328.5 1854.3 330.1 1861.2 332 1868C332.9 1871.2 333.9 1874.4 335 1877.5"/><path class="c" stroke="url(#g530)" d="M335 1877.5C336.6 1882.4 338.4 1887.2 340 1892C342.8 1900.3 345.5 1908.8 348.6 1917C350.7 1922.5 352.7 1928 355 1933.4"/><path class="c" stroke="url(#g531)" d="M355 1933.4C355.7 1935 356.4 1936.5 357.1 1938C359.7 1943.3 362.5 1948.5 365.7 1953.5C367.7 1956.6 369.7 1959.7 372 1962.7"/><path class="c" stroke="url(#g532)" d="M372 1962.7C372.7 1963.6 373.5 1964.6 374.3 1965.5C376.4 1967.9 378.7 1970.3 381.1 1972.4"/><path class="c" stroke="url(#g533)" d="M381.1 1972.4C381.7 1973 382.3 1973.5 382.9 1974C385.1 1975.9 387.5 1977.7 390 1979.2"/><path class="c" stroke="url(#g534)" d="M390 1979.2C390.5 1979.5 390.9 1979.7 391.4 1980C393.8 1981.3 396.4 1982.4 399.1 1983.2"/><path class="c" stroke="url(#g535)" d="M399.1 1983.2C402.2 1984.2 405.5 1984.9 408.6 1985.6C409.1 1985.7 409.5 1985.8 410 1985.9"/><path class="c" stroke="#0040ff" d="M410 1985.9C415.1 1986.9 420.5 1987.4 425.7 1987.7C431.4 1988 437.2 1987.8 442.9 1987.7C448.6 1987.6 454.3 1987.2 460 1986.9C465.7 1986.6 471.4 1986.1 477.1 1986"/><path class="c" stroke="url(#g536)" d="M477.1 1986C477.7 1986 478.4 1986 479 1986"/><path class="c" stroke="#00e0ff" d="M479 1986C479.7 1986 480.3 1986 481 1986"/><path class="c" stroke="url(#g537)" d="M481 1986C481.3 1986 481.7 1986 482 1986.1"/><path class="c" stroke="url(#g538)" d="M482 1986.1C486.1 1986.2 490.2 1986.4 494.3 1986.5C498.8 1986.6 503.2 1986.6 507.7 1986.5"/>
<line x1="507.7" y1="49" x2="507.7" y2="2027.8" stroke="#000" stroke-opacity="0.48" stroke-width="2.2"/>
<line x1="732.3" y1="49" x2="732.3" y2="2027.8" stroke="#000" stroke-opacity="0.48" stroke-width="2.2"/>
<line x1="1006.7" y1="49" x2="1006.7" y2="2027.8" stroke="#000" stroke-opacity="0.48" stroke-width="2.2"/>
<line x1="1231.5" y1="49" x2="1231.5" y2="2027.8" stroke="#000" stroke-opacity="0.48" stroke-width="2.2"/>
</g>
<rect x="233" y="49" width="1353" height="1978.8" fill="none" stroke="#000" stroke-width="4"/>
<line x1="216" y1="49" x2="232" y2="49" stroke="#000" stroke-width="4"/>
<line x1="216" y1="378.8" x2="232" y2="378.8" stroke="#000" stroke-width="4"/>
<line x1="216" y1="708.6" x2="232" y2="708.6" stroke="#000" stroke-width="4"/>
<line x1="216" y1="1038.4" x2="232" y2="1038.4" stroke="#000" stroke-width="4"/>
<line x1="216" y1="1368.2" x2="232" y2="1368.2" stroke="#000" stroke-width="4"/>
<line x1="216" y1="1698" x2="232" y2="1698" stroke="#000" stroke-width="4"/>
<line x1="216" y1="2027.8" x2="232" y2="2027.8" stroke="#000" stroke-width="4"/>
<line x1="223" y1="213.9" x2="232" y2="213.9" stroke="#000" stroke-width="3.2"/>
<line x1="223" y1="543.7" x2="232" y2="543.7" stroke="#000" stroke-width="3.2"/>
<line x1="223" y1="873.5" x2="232" y2="873.5" stroke="#000" stroke-width="3.2"/>
<line x1="223" y1="1203.3" x2="232" y2="1203.3" stroke="#000" stroke-width="3.2"/>
<line x1="223" y1="1533.1" x2="232" y2="1533.1" stroke="#000" stroke-width="3.2"/>
<line x1="223" y1="1862.9" x2="232" y2="1862.9" stroke="#000" stroke-width="3.2"/>
<line x1="233" y1="2028.8" x2="233" y2="2046" stroke="#000" stroke-width="4"/>
<line x1="507.7" y1="2028.8" x2="507.7" y2="2046" stroke="#000" stroke-width="4"/>
<line x1="732.3" y1="2028.8" x2="732.3" y2="2046" stroke="#000" stroke-width="4"/>
<line x1="1006.7" y1="2028.8" x2="1006.7" y2="2046" stroke="#000" stroke-width="4"/>
<line x1="1231.5" y1="2028.8" x2="1231.5" y2="2046" stroke="#000" stroke-width="4"/>
<line x1="1586" y1="2028.8" x2="1586" y2="2046" stroke="#000" stroke-width="4"/>
<text x="198" y="79" text-anchor="end">3</text>
<text x="198" y="408.8" text-anchor="end">2</text>
<text x="198" y="738.6" text-anchor="end">1</text>
<text x="198" y="1068.4" text-anchor="end">0</text>
<text x="198" y="1398.2" text-anchor="end">-1</text>
<text x="198" y="1728" text-anchor="end">-2</text>
<text x="198" y="2057.8" text-anchor="end">-3</text>
<path d="M216.9 2055.2H257.9V2062.9H225.8V2121.9H216.9Z" fill="#000"/>
<text x="507.7" y="2122" text-anchor="middle">X</text>
<text x="732.3" y="2122" text-anchor="middle">S</text>
<text x="1006.7" y="2122" text-anchor="middle">Y</text>
<path d="M1215.4 2055.2H1256.4V2062.9H1224.3V2121.9H1215.4Z" fill="#000"/>
<text x="1586" y="2122" text-anchor="middle">S</text>
<text transform="translate(78,1041) rotate(-90)" text-anchor="middle" style="font-size:90px">Energy [eV]</text>
<rect x="1593" y="49" width="41" height="1978.8" fill="url(#cb)" stroke="#000" stroke-width="4"/>
<line x1="1635" y1="2027.8" x2="1652" y2="2027.8" stroke="#000" stroke-width="4"/>
<text x="1669" y="2057.1" style="letter-spacing:-1px">0.0</text>
<line x1="1635" y1="1777.5" x2="1652" y2="1777.5" stroke="#000" stroke-width="4"/>
<text x="1669" y="1806.8" style="letter-spacing:-1px">0.1</text>
<line x1="1635" y1="1527.2" x2="1652" y2="1527.2" stroke="#000" stroke-width="4"/>
<text x="1669" y="1556.5" style="letter-spacing:-1px">0.2</text>
<line x1="1635" y1="1276.9" x2="1652" y2="1276.9" stroke="#000" stroke-width="4"/>
<text x="1669" y="1306.2" style="letter-spacing:-1px">0.3</text>
<line x1="1635" y1="1026.6" x2="1652" y2="1026.6" stroke="#000" stroke-width="4"/>
<text x="1669" y="1055.9" style="letter-spacing:-1px">0.4</text>
<line x1="1635" y1="776.3" x2="1652" y2="776.3" stroke="#000" stroke-width="4"/>
<text x="1669" y="805.6" style="letter-spacing:-1px">0.5</text>
<line x1="1635" y1="526" x2="1652" y2="526" stroke="#000" stroke-width="4"/>
<text x="1669" y="555.3" style="letter-spacing:-1px">0.6</text>
<line x1="1635" y1="275.7" x2="1652" y2="275.7" stroke="#000" stroke-width="4"/>
<text x="1669" y="305" style="letter-spacing:-1px">0.7</text>
</svg></body></html>
